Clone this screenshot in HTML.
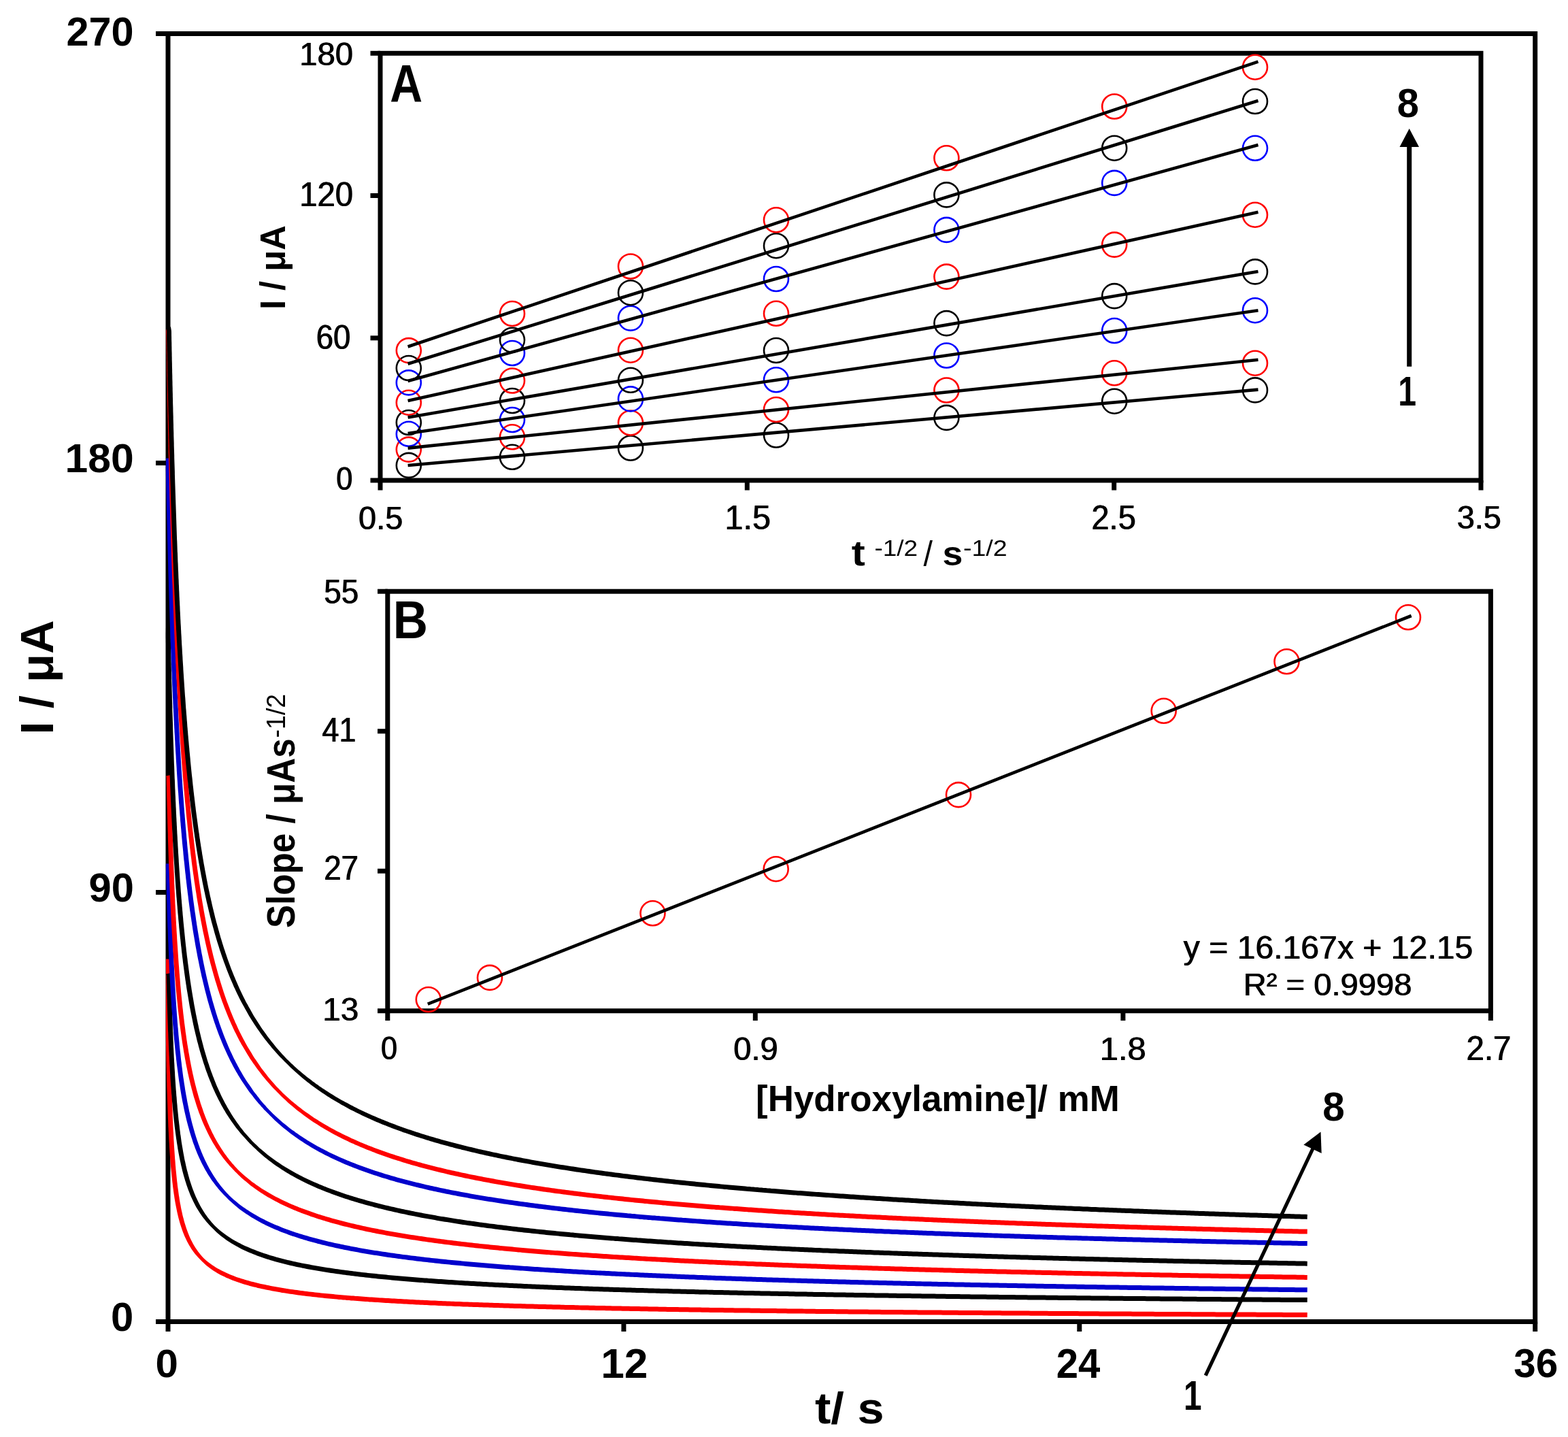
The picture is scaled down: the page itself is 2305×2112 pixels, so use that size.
<!DOCTYPE html>
<html><head><meta charset="utf-8"><title>Chronoamperometry figure</title>
<style>html,body{margin:0;padding:0;background:#fff;}svg{display:block;}</style>
</head><body>
<svg xmlns="http://www.w3.org/2000/svg" width="2305" height="2112" viewBox="0 0 2305 2112">
<rect x="0" y="0" width="2305" height="2112" fill="#fff"/>
<defs><filter id="hs" x="-5%" y="-5%" width="110%" height="110%"><feOffset dx="1" dy="0" result="o"/><feMerge><feMergeNode in="SourceGraphic"/><feMergeNode in="o"/></feMerge></filter></defs>
<rect x="247.0" y="49.5" width="2009.7" height="1893.0" fill="none" stroke="#000" stroke-width="7"/>
<line x1="229" y1="1942.5" x2="247.0" y2="1942.5" stroke="#000" stroke-width="7"/>
<line x1="229" y1="1311.5" x2="247.0" y2="1311.5" stroke="#000" stroke-width="7"/>
<line x1="229" y1="680.5" x2="247.0" y2="680.5" stroke="#000" stroke-width="7"/>
<line x1="229" y1="49.5" x2="247.0" y2="49.5" stroke="#000" stroke-width="7"/>
<line x1="247.0" y1="1942.5" x2="247.0" y2="1957" stroke="#000" stroke-width="7"/>
<line x1="916.9" y1="1942.5" x2="916.9" y2="1957" stroke="#000" stroke-width="7"/>
<line x1="1586.8" y1="1942.5" x2="1586.8" y2="1957" stroke="#000" stroke-width="7"/>
<line x1="2256.7" y1="1942.5" x2="2256.7" y2="1957" stroke="#000" stroke-width="7"/>
<path d="M244.0,1409.6 L244.0,1412.6 L244.0,1415.6 L244.0,1418.6 L244.0,1421.6 L244.0,1424.6 L244.0,1427.6 L244.0,1430.6 L244.0,1433.6 L243.9,1436.6 L243.9,1439.6 L243.9,1442.6 L243.9,1445.6 L243.9,1448.6 L243.9,1451.6 L243.9,1454.6 L243.9,1457.6 L243.9,1460.6 L243.9,1463.6 L243.9,1466.6 L243.9,1469.6 L243.9,1472.6 L243.9,1475.6 L243.9,1478.6 L243.9,1481.6 L243.9,1484.6 L243.8,1487.6 L243.8,1490.6 L243.8,1493.6 L243.8,1496.6 L243.8,1499.6 L243.8,1502.6 L243.8,1505.6 L243.8,1508.6 L243.8,1511.6 L243.8,1514.6 L243.8,1517.7 L243.8,1520.7 L243.8,1523.7 L243.9,1526.7 L243.9,1529.7 L244.0,1532.7 L244.0,1535.7 L244.1,1538.7 L244.1,1541.7 L244.2,1544.7 L244.3,1547.7 L244.3,1550.7 L244.4,1553.7 L244.4,1556.7 L244.5,1559.7 L244.6,1562.7 L244.6,1565.7 L244.7,1568.7 L244.8,1571.7 L244.8,1574.7 L244.9,1577.7 L245.0,1580.7 L245.0,1583.7 L245.1,1586.7 L245.2,1589.7 L245.3,1592.7 L245.3,1595.7 L245.4,1598.7 L245.5,1601.7 L245.6,1604.7 L245.7,1607.7 L245.8,1610.7 L245.9,1613.7 L246.0,1616.7 L246.1,1619.7 L246.2,1622.7 L246.3,1625.7 L246.4,1628.7 L246.5,1631.7 L246.6,1634.7 L246.7,1637.8 L246.8,1640.8 L246.9,1643.8 L247.1,1646.8 L247.2,1649.8 L247.3,1652.8 L247.4,1655.8 L247.6,1658.8 L247.7,1661.8 L247.9,1664.8 L248.0,1667.8 L248.2,1670.8 L248.3,1673.8 L248.5,1676.8 L248.7,1679.8 L248.9,1682.8 L249.0,1685.8 L249.2,1688.8 L249.4,1691.8 L249.6,1694.8 L249.8,1697.8 L250.0,1700.8 L250.3,1703.8 L250.5,1706.8 L250.7,1709.8 L251.0,1712.8 L251.2,1715.8 L251.5,1718.8 L251.8,1721.8 L252.1,1724.8 L252.4,1727.8 L252.7,1730.8 L253.0,1733.8 L253.3,1736.8 L253.7,1739.8 L254.0,1742.8 L254.4,1745.8 L254.8,1748.8 L255.2,1751.7 L255.6,1754.7 L256.1,1757.7 L256.5,1760.7 L257.0,1763.7 L257.5,1766.7 L258.0,1769.6 L258.6,1772.6 L259.2,1775.6 L259.8,1778.6 L260.4,1781.5 L261.1,1784.5 L261.8,1787.5 L262.5,1790.4 L263.3,1793.3 L264.1,1796.3 L265.0,1799.2 L265.9,1802.1 L266.9,1805.0 L267.9,1807.9 L268.9,1810.8 L270.0,1813.6 L271.2,1816.5 L272.5,1819.3 L273.8,1822.0 L275.1,1824.8 L276.6,1827.5 L278.1,1830.2 L279.7,1832.8 L281.3,1835.4 L283.1,1838.0 L284.9,1840.5 L286.8,1842.9 L288.8,1845.3 L290.8,1847.6 L292.9,1849.8 L295.1,1852.0 L297.3,1854.2 L299.5,1856.3 L301.8,1858.4 L304.1,1860.4 L306.5,1862.3 L309.0,1864.2 L311.5,1865.9 L314.0,1867.7 L316.6,1869.3 L319.3,1870.9 L321.9,1872.4 L324.6,1873.9 L327.4,1875.3 L330.1,1876.6 L332.9,1877.9 L335.7,1879.1 L338.5,1880.3 L341.3,1881.4 L344.2,1882.5 L347.0,1883.6 L349.9,1884.6 L352.8,1885.6 L355.7,1886.5 L358.6,1887.4 L361.5,1888.2 L364.4,1889.0 L367.3,1889.9 L370.3,1890.7 L373.2,1891.4 L376.1,1892.1 L379.0,1892.9 L382.0,1893.5 L385.0,1894.2 L387.9,1894.8 L390.9,1895.5 L393.8,1896.1 L396.8,1896.6 L399.7,1897.2 L402.7,1897.8 L405.7,1898.3 L408.7,1898.8 L411.6,1899.3 L414.6,1899.9 L417.6,1900.3 L420.6,1900.8 L423.5,1901.3 L426.5,1901.7 L429.5,1902.1 L432.5,1902.6 L435.5,1903.0 L438.5,1903.4 L441.4,1903.8 L444.4,1904.2 L447.4,1904.5 L450.4,1904.9 L453.4,1905.3 L456.4,1905.6 L459.4,1906.0 L462.3,1906.3 L465.3,1906.6 L468.3,1907.0 L471.3,1907.3 L474.3,1907.6 L477.3,1907.9 L480.3,1908.2 L483.3,1908.5 L486.3,1908.8 L489.3,1909.0 L492.3,1909.3 L495.3,1909.6 L498.2,1909.9 L501.2,1910.1 L504.2,1910.4 L507.2,1910.6 L510.2,1910.9 L513.2,1911.1 L516.2,1911.4 L519.2,1911.6 L522.2,1911.8 L525.2,1912.1 L528.2,1912.3 L531.2,1912.5 L534.2,1912.7 L537.2,1912.9 L540.2,1913.1 L543.2,1913.4 L546.2,1913.6 L549.2,1913.8 L552.2,1914.0 L555.2,1914.1 L558.2,1914.3 L561.2,1914.5 L564.2,1914.7 L567.2,1914.9 L570.2,1915.1 L573.2,1915.3 L576.1,1915.4 L579.1,1915.6 L582.1,1915.8 L585.1,1915.9 L588.1,1916.1 L591.1,1916.3 L594.1,1916.4 L597.1,1916.6 L600.1,1916.8 L603.1,1916.9 L606.1,1917.1 L609.1,1917.2 L612.1,1917.4 L615.1,1917.5 L618.1,1917.7 L621.1,1917.8 L624.1,1917.9 L627.1,1918.1 L630.1,1918.2 L633.1,1918.4 L636.1,1918.5 L639.1,1918.6 L642.1,1918.8 L645.1,1918.9 L648.1,1919.0 L651.1,1919.2 L654.1,1919.3 L657.1,1919.4 L660.1,1919.5 L663.1,1919.6 L666.1,1919.8 L669.1,1919.9 L672.1,1920.0 L675.1,1920.1 L678.1,1920.2 L681.1,1920.4 L684.1,1920.5 L687.1,1920.6 L690.1,1920.7 L693.1,1920.8 L696.1,1920.9 L699.1,1921.0 L702.1,1921.1 L705.1,1921.2 L708.1,1921.3 L711.1,1921.4 L714.1,1921.5 L717.1,1921.6 L720.1,1921.7 L723.1,1921.8 L726.1,1921.9 L729.1,1922.0 L732.1,1922.1 L735.1,1922.2 L738.1,1922.3 L741.1,1922.4 L744.1,1922.5 L747.1,1922.6 L750.1,1922.7 L753.1,1922.8 L756.1,1922.9 L759.1,1923.0 L762.1,1923.0 L765.1,1923.1 L768.1,1923.2 L771.1,1923.3 L774.1,1923.4 L777.1,1923.5 L780.1,1923.5 L783.1,1923.6 L786.1,1923.7 L789.1,1923.8 L792.1,1923.9 L795.1,1924.0 L798.1,1924.0 L801.1,1924.1 L804.1,1924.2 L807.1,1924.3 L810.1,1924.3 L813.1,1924.4 L816.1,1924.5 L819.1,1924.6 L822.1,1924.6 L825.1,1924.7 L828.1,1924.8 L831.1,1924.9 L834.1,1924.9 L837.1,1925.0 L840.1,1925.1 L843.1,1925.1 L846.1,1925.2 L849.1,1925.3 L852.1,1925.3 L855.1,1925.4 L858.1,1925.5 L861.1,1925.5 L864.1,1925.6 L867.1,1925.7 L870.1,1925.7 L873.1,1925.8 L876.1,1925.9 L879.1,1925.9 L882.1,1926.0 L885.1,1926.1 L888.1,1926.1 L891.1,1926.2 L894.1,1926.3 L897.1,1926.3 L900.1,1926.4 L903.1,1926.4 L906.1,1926.5 L909.1,1926.6 L912.1,1926.6 L915.1,1926.7 L918.1,1926.7 L921.1,1926.8 L924.1,1926.8 L927.1,1926.9 L930.1,1927.0 L933.1,1927.0 L936.1,1927.1 L939.1,1927.1 L942.1,1927.2 L945.1,1927.2 L948.1,1927.3 L951.1,1927.3 L954.1,1927.4 L957.1,1927.4 L960.1,1927.5 L963.1,1927.6 L966.1,1927.6 L969.1,1927.7 L972.1,1927.7 L975.1,1927.8 L978.1,1927.8 L981.1,1927.9 L984.1,1927.9 L987.1,1928.0 L990.1,1928.0 L993.1,1928.1 L996.1,1928.1 L999.1,1928.2 L1002.1,1928.2 L1005.1,1928.3 L1008.1,1928.3 L1011.1,1928.3 L1014.1,1928.4 L1017.1,1928.4 L1020.1,1928.5 L1023.1,1928.5 L1026.1,1928.6 L1029.1,1928.6 L1032.1,1928.7 L1035.1,1928.7 L1038.1,1928.8 L1041.1,1928.8 L1044.1,1928.9 L1047.1,1928.9 L1050.1,1928.9 L1053.1,1929.0 L1056.1,1929.0 L1059.1,1929.1 L1062.1,1929.1 L1065.1,1929.2 L1068.1,1929.2 L1071.1,1929.2 L1074.1,1929.3 L1077.1,1929.3 L1080.1,1929.4 L1083.1,1929.4 L1086.1,1929.4 L1089.1,1929.5 L1092.1,1929.5 L1095.1,1929.6 L1098.1,1929.6 L1101.1,1929.6 L1104.1,1929.7 L1107.1,1929.7 L1110.1,1929.8 L1113.1,1929.8 L1116.1,1929.8 L1119.1,1929.9 L1122.1,1929.9 L1125.1,1930.0 L1128.1,1930.0 L1131.1,1930.0 L1134.1,1930.1 L1137.1,1930.1 L1140.1,1930.1 L1143.1,1930.2 L1146.1,1930.2 L1149.1,1930.3 L1152.1,1930.3 L1155.1,1930.3 L1158.1,1930.4 L1161.1,1930.4 L1164.1,1930.4 L1167.1,1930.5 L1170.1,1930.5 L1173.1,1930.5 L1176.1,1930.6 L1179.1,1930.6 L1182.1,1930.6 L1185.1,1930.7 L1188.1,1930.7 L1191.1,1930.8 L1194.1,1930.8 L1197.1,1930.8 L1200.1,1930.9 L1203.1,1930.9 L1206.1,1930.9 L1209.1,1931.0 L1212.1,1931.0 L1215.1,1931.0 L1218.1,1931.1 L1221.1,1931.1 L1224.1,1931.1 L1227.1,1931.1 L1230.1,1931.2 L1233.1,1931.2 L1236.1,1931.2 L1239.1,1931.3 L1242.1,1931.3 L1245.1,1931.3 L1248.1,1931.4 L1251.1,1931.4 L1254.1,1931.4 L1257.1,1931.5 L1260.1,1931.5 L1263.1,1931.5 L1266.1,1931.6 L1269.1,1931.6 L1272.1,1931.6 L1275.1,1931.6 L1278.1,1931.7 L1281.1,1931.7 L1284.1,1931.7 L1287.1,1931.8 L1290.1,1931.8 L1293.1,1931.8 L1296.1,1931.9 L1299.1,1931.9 L1302.1,1931.9 L1305.1,1931.9 L1308.1,1932.0 L1311.1,1932.0 L1314.1,1932.0 L1317.1,1932.1 L1320.1,1932.1 L1323.1,1932.1 L1326.1,1932.1 L1329.1,1932.2 L1332.1,1932.2 L1335.1,1932.2 L1338.1,1932.2 L1341.1,1932.3 L1344.1,1932.3 L1347.1,1932.3 L1350.1,1932.4 L1353.1,1932.4 L1356.1,1932.4 L1359.1,1932.4 L1362.1,1932.5 L1365.1,1932.5 L1368.1,1932.5 L1371.1,1932.5 L1374.1,1932.6 L1377.1,1932.6 L1380.1,1932.6 L1383.1,1932.6 L1386.1,1932.7 L1389.1,1932.7 L1392.1,1932.7 L1395.1,1932.7 L1398.1,1932.8 L1401.1,1932.8 L1404.1,1932.8 L1407.1,1932.8 L1410.1,1932.9 L1413.1,1932.9 L1416.1,1932.9 L1419.1,1932.9 L1422.1,1933.0 L1425.1,1933.0 L1428.1,1933.0 L1431.1,1933.0 L1434.1,1933.1 L1437.1,1933.1 L1440.1,1933.1 L1443.1,1933.1 L1446.1,1933.2 L1449.1,1933.2 L1452.1,1933.2 L1455.1,1933.2 L1458.1,1933.2 L1461.1,1933.3 L1464.1,1933.3 L1467.1,1933.3 L1470.1,1933.3 L1473.1,1933.4 L1476.1,1933.4 L1479.1,1933.4 L1482.1,1933.4 L1485.1,1933.5 L1488.1,1933.5 L1491.1,1933.5 L1494.1,1933.5 L1497.1,1933.5 L1500.1,1933.6 L1503.1,1933.6 L1506.1,1933.6 L1509.1,1933.6 L1512.1,1933.6 L1515.1,1933.7 L1518.1,1933.7 L1521.1,1933.7 L1524.1,1933.7 L1527.1,1933.8 L1530.1,1933.8 L1533.1,1933.8 L1536.1,1933.8 L1539.1,1933.8 L1542.1,1933.9 L1545.1,1933.9 L1548.1,1933.9 L1551.1,1933.9 L1554.1,1933.9 L1557.1,1934.0 L1560.1,1934.0 L1563.1,1934.0 L1566.1,1934.0 L1569.1,1934.0 L1572.1,1934.1 L1575.1,1934.1 L1578.1,1934.1 L1581.1,1934.1 L1584.1,1934.1 L1587.1,1934.2 L1590.1,1934.2 L1593.1,1934.2 L1596.1,1934.2 L1599.1,1934.2 L1602.1,1934.3 L1605.1,1934.3 L1608.1,1934.3 L1611.1,1934.3 L1614.1,1934.3 L1617.1,1934.4 L1620.1,1934.4 L1623.1,1934.4 L1626.1,1934.4 L1629.1,1934.4 L1632.1,1934.5 L1635.1,1934.5 L1638.1,1934.5 L1641.1,1934.5 L1644.1,1934.5 L1647.1,1934.5 L1650.1,1934.6 L1653.1,1934.6 L1656.1,1934.6 L1659.1,1934.6 L1662.1,1934.6 L1665.1,1934.7 L1668.1,1934.7 L1671.1,1934.7 L1674.1,1934.7 L1677.1,1934.7 L1680.1,1934.7 L1683.1,1934.8 L1686.1,1934.8 L1689.1,1934.8 L1692.1,1934.8 L1695.1,1934.8 L1698.1,1934.9 L1701.1,1934.9 L1704.1,1934.9 L1707.1,1934.9 L1710.1,1934.9 L1713.1,1934.9 L1716.1,1935.0 L1719.1,1935.0 L1722.1,1935.0 L1725.1,1935.0 L1728.1,1935.0 L1731.1,1935.0 L1734.1,1935.1 L1737.1,1935.1 L1740.1,1935.1 L1743.1,1935.1 L1746.1,1935.1 L1749.1,1935.1 L1752.1,1935.2 L1755.1,1935.2 L1758.1,1935.2 L1761.1,1935.2 L1764.1,1935.2 L1767.1,1935.2 L1770.1,1935.3 L1773.1,1935.3 L1776.1,1935.3 L1779.1,1935.3 L1782.1,1935.3 L1785.1,1935.3 L1788.1,1935.4 L1791.1,1935.4 L1794.1,1935.4 L1797.1,1935.4 L1800.1,1935.4 L1803.1,1935.4 L1806.1,1935.4 L1809.1,1935.5 L1812.1,1935.5 L1815.1,1935.5 L1818.1,1935.5 L1821.1,1935.5 L1824.1,1935.5 L1827.1,1935.6 L1830.1,1935.6 L1833.1,1935.6 L1836.1,1935.6 L1839.1,1935.6 L1842.1,1935.6 L1845.1,1935.6 L1848.1,1935.7 L1851.1,1935.7 L1854.1,1935.7 L1857.1,1935.7 L1860.1,1935.7 L1863.1,1935.7 L1866.1,1935.7 L1869.1,1935.8 L1872.1,1935.8 L1875.1,1935.8 L1878.1,1935.8 L1881.1,1935.8 L1884.1,1935.8 L1887.1,1935.9 L1890.1,1935.9 L1893.1,1935.9 L1896.1,1935.9 L1899.1,1935.9 L1902.1,1935.9 L1905.1,1935.9 L1908.1,1936.0 L1911.1,1936.0 L1914.1,1936.0 L1917.1,1936.0 L1920.1,1936.0 L1921.7,1936.0 L1921.8,1929.0 L1920.1,1929.0 L1917.1,1929.0 L1914.1,1929.0 L1911.1,1929.0 L1908.1,1929.0 L1905.1,1928.9 L1902.1,1928.9 L1899.1,1928.9 L1896.1,1928.9 L1893.1,1928.9 L1890.1,1928.9 L1887.1,1928.9 L1884.1,1928.8 L1881.1,1928.8 L1878.1,1928.8 L1875.1,1928.8 L1872.1,1928.8 L1869.1,1928.8 L1866.1,1928.7 L1863.1,1928.7 L1860.1,1928.7 L1857.1,1928.7 L1854.1,1928.7 L1851.1,1928.7 L1848.1,1928.7 L1845.1,1928.6 L1842.1,1928.6 L1839.1,1928.6 L1836.1,1928.6 L1833.1,1928.6 L1830.1,1928.6 L1827.1,1928.6 L1824.1,1928.5 L1821.1,1928.5 L1818.1,1928.5 L1815.1,1928.5 L1812.1,1928.5 L1809.1,1928.5 L1806.1,1928.4 L1803.1,1928.4 L1800.1,1928.4 L1797.1,1928.4 L1794.1,1928.4 L1791.1,1928.4 L1788.1,1928.4 L1785.1,1928.3 L1782.1,1928.3 L1779.1,1928.3 L1776.1,1928.3 L1773.1,1928.3 L1770.1,1928.3 L1767.1,1928.2 L1764.1,1928.2 L1761.1,1928.2 L1758.1,1928.2 L1755.1,1928.2 L1752.1,1928.2 L1749.1,1928.1 L1746.1,1928.1 L1743.1,1928.1 L1740.1,1928.1 L1737.1,1928.1 L1734.1,1928.1 L1731.1,1928.0 L1728.1,1928.0 L1725.1,1928.0 L1722.1,1928.0 L1719.1,1928.0 L1716.1,1928.0 L1713.1,1927.9 L1710.1,1927.9 L1707.1,1927.9 L1704.1,1927.9 L1701.1,1927.9 L1698.1,1927.9 L1695.1,1927.8 L1692.1,1927.8 L1689.1,1927.8 L1686.1,1927.8 L1683.1,1927.8 L1680.1,1927.7 L1677.1,1927.7 L1674.1,1927.7 L1671.1,1927.7 L1668.1,1927.7 L1665.1,1927.7 L1662.1,1927.6 L1659.1,1927.6 L1656.1,1927.6 L1653.1,1927.6 L1650.1,1927.6 L1647.1,1927.5 L1644.1,1927.5 L1641.1,1927.5 L1638.1,1927.5 L1635.1,1927.5 L1632.1,1927.5 L1629.1,1927.4 L1626.1,1927.4 L1623.1,1927.4 L1620.1,1927.4 L1617.1,1927.4 L1614.1,1927.3 L1611.1,1927.3 L1608.1,1927.3 L1605.1,1927.3 L1602.1,1927.3 L1599.1,1927.2 L1596.1,1927.2 L1593.1,1927.2 L1590.1,1927.2 L1587.1,1927.2 L1584.1,1927.1 L1581.1,1927.1 L1578.1,1927.1 L1575.1,1927.1 L1572.1,1927.1 L1569.1,1927.0 L1566.1,1927.0 L1563.1,1927.0 L1560.1,1927.0 L1557.1,1927.0 L1554.1,1926.9 L1551.1,1926.9 L1548.1,1926.9 L1545.1,1926.9 L1542.1,1926.9 L1539.1,1926.8 L1536.1,1926.8 L1533.1,1926.8 L1530.1,1926.8 L1527.1,1926.8 L1524.1,1926.7 L1521.1,1926.7 L1518.1,1926.7 L1515.1,1926.7 L1512.1,1926.6 L1509.1,1926.6 L1506.1,1926.6 L1503.1,1926.6 L1500.1,1926.6 L1497.1,1926.5 L1494.1,1926.5 L1491.1,1926.5 L1488.1,1926.5 L1485.1,1926.5 L1482.1,1926.4 L1479.1,1926.4 L1476.1,1926.4 L1473.1,1926.4 L1470.1,1926.3 L1467.1,1926.3 L1464.1,1926.3 L1461.1,1926.3 L1458.1,1926.2 L1455.1,1926.2 L1452.1,1926.2 L1449.1,1926.2 L1446.1,1926.2 L1443.1,1926.1 L1440.1,1926.1 L1437.1,1926.1 L1434.1,1926.1 L1431.1,1926.0 L1428.1,1926.0 L1425.1,1926.0 L1422.1,1926.0 L1419.1,1925.9 L1416.1,1925.9 L1413.1,1925.9 L1410.1,1925.9 L1407.1,1925.8 L1404.1,1925.8 L1401.1,1925.8 L1398.1,1925.8 L1395.1,1925.7 L1392.1,1925.7 L1389.1,1925.7 L1386.1,1925.7 L1383.1,1925.6 L1380.1,1925.6 L1377.1,1925.6 L1374.1,1925.6 L1371.1,1925.5 L1368.1,1925.5 L1365.1,1925.5 L1362.1,1925.5 L1359.1,1925.4 L1356.1,1925.4 L1353.1,1925.4 L1350.1,1925.4 L1347.1,1925.3 L1344.1,1925.3 L1341.1,1925.3 L1338.1,1925.2 L1335.1,1925.2 L1332.1,1925.2 L1329.1,1925.2 L1326.1,1925.1 L1323.1,1925.1 L1320.1,1925.1 L1317.1,1925.1 L1314.1,1925.0 L1311.1,1925.0 L1308.1,1925.0 L1305.1,1924.9 L1302.1,1924.9 L1299.1,1924.9 L1296.1,1924.9 L1293.1,1924.8 L1290.1,1924.8 L1287.1,1924.8 L1284.1,1924.7 L1281.1,1924.7 L1278.1,1924.7 L1275.1,1924.6 L1272.1,1924.6 L1269.1,1924.6 L1266.1,1924.6 L1263.1,1924.5 L1260.1,1924.5 L1257.1,1924.5 L1254.1,1924.4 L1251.1,1924.4 L1248.1,1924.4 L1245.1,1924.3 L1242.1,1924.3 L1239.1,1924.3 L1236.1,1924.2 L1233.1,1924.2 L1230.1,1924.2 L1227.1,1924.2 L1224.1,1924.1 L1221.1,1924.1 L1218.1,1924.1 L1215.2,1924.0 L1212.2,1924.0 L1209.2,1924.0 L1206.2,1923.9 L1203.2,1923.9 L1200.2,1923.9 L1197.2,1923.8 L1194.2,1923.8 L1191.2,1923.8 L1188.2,1923.7 L1185.2,1923.7 L1182.2,1923.7 L1179.2,1923.6 L1176.2,1923.6 L1173.2,1923.5 L1170.2,1923.5 L1167.2,1923.5 L1164.2,1923.4 L1161.2,1923.4 L1158.2,1923.4 L1155.2,1923.3 L1152.2,1923.3 L1149.2,1923.3 L1146.2,1923.2 L1143.2,1923.2 L1140.2,1923.1 L1137.2,1923.1 L1134.2,1923.1 L1131.2,1923.0 L1128.2,1923.0 L1125.2,1923.0 L1122.2,1922.9 L1119.2,1922.9 L1116.2,1922.8 L1113.2,1922.8 L1110.2,1922.8 L1107.2,1922.7 L1104.2,1922.7 L1101.2,1922.6 L1098.2,1922.6 L1095.2,1922.6 L1092.2,1922.5 L1089.2,1922.5 L1086.2,1922.4 L1083.2,1922.4 L1080.2,1922.4 L1077.2,1922.3 L1074.2,1922.3 L1071.2,1922.2 L1068.2,1922.2 L1065.2,1922.2 L1062.2,1922.1 L1059.2,1922.1 L1056.2,1922.0 L1053.2,1922.0 L1050.2,1921.9 L1047.2,1921.9 L1044.2,1921.9 L1041.2,1921.8 L1038.2,1921.8 L1035.2,1921.7 L1032.2,1921.7 L1029.2,1921.6 L1026.2,1921.6 L1023.2,1921.5 L1020.2,1921.5 L1017.2,1921.4 L1014.2,1921.4 L1011.2,1921.3 L1008.2,1921.3 L1005.2,1921.3 L1002.2,1921.2 L999.2,1921.2 L996.2,1921.1 L993.2,1921.1 L990.2,1921.0 L987.2,1921.0 L984.2,1920.9 L981.2,1920.9 L978.2,1920.8 L975.2,1920.8 L972.2,1920.7 L969.2,1920.7 L966.2,1920.6 L963.2,1920.6 L960.2,1920.5 L957.2,1920.4 L954.2,1920.4 L951.2,1920.3 L948.2,1920.3 L945.2,1920.2 L942.2,1920.2 L939.2,1920.1 L936.2,1920.1 L933.2,1920.0 L930.2,1920.0 L927.2,1919.9 L924.2,1919.8 L921.2,1919.8 L918.2,1919.7 L915.2,1919.7 L912.2,1919.6 L909.2,1919.6 L906.2,1919.5 L903.2,1919.4 L900.2,1919.4 L897.2,1919.3 L894.2,1919.3 L891.2,1919.2 L888.2,1919.1 L885.2,1919.1 L882.2,1919.0 L879.2,1918.9 L876.2,1918.9 L873.2,1918.8 L870.2,1918.7 L867.2,1918.7 L864.2,1918.6 L861.2,1918.6 L858.2,1918.5 L855.2,1918.4 L852.2,1918.4 L849.2,1918.3 L846.2,1918.2 L843.2,1918.1 L840.2,1918.1 L837.2,1918.0 L834.2,1917.9 L831.2,1917.9 L828.2,1917.8 L825.3,1917.7 L822.3,1917.6 L819.3,1917.6 L816.3,1917.5 L813.3,1917.4 L810.3,1917.3 L807.3,1917.3 L804.3,1917.2 L801.3,1917.1 L798.3,1917.0 L795.3,1917.0 L792.3,1916.9 L789.3,1916.8 L786.3,1916.7 L783.3,1916.6 L780.3,1916.6 L777.3,1916.5 L774.3,1916.4 L771.3,1916.3 L768.3,1916.2 L765.3,1916.1 L762.3,1916.0 L759.3,1916.0 L756.3,1915.9 L753.3,1915.8 L750.3,1915.7 L747.3,1915.6 L744.3,1915.5 L741.3,1915.4 L738.3,1915.3 L735.3,1915.2 L732.3,1915.1 L729.3,1915.0 L726.3,1914.9 L723.3,1914.8 L720.3,1914.7 L717.3,1914.6 L714.3,1914.5 L711.3,1914.4 L708.3,1914.3 L705.3,1914.2 L702.3,1914.1 L699.3,1914.0 L696.3,1913.9 L693.4,1913.8 L690.4,1913.7 L687.4,1913.6 L684.4,1913.5 L681.4,1913.4 L678.4,1913.2 L675.4,1913.1 L672.4,1913.0 L669.4,1912.9 L666.4,1912.8 L663.4,1912.7 L660.4,1912.5 L657.4,1912.4 L654.4,1912.3 L651.4,1912.2 L648.4,1912.0 L645.4,1911.9 L642.4,1911.8 L639.4,1911.6 L636.4,1911.5 L633.4,1911.4 L630.4,1911.2 L627.4,1911.1 L624.4,1911.0 L621.5,1910.8 L618.5,1910.7 L615.5,1910.5 L612.5,1910.4 L609.5,1910.2 L606.5,1910.1 L603.5,1909.9 L600.5,1909.8 L597.5,1909.6 L594.5,1909.5 L591.5,1909.3 L588.5,1909.1 L585.5,1909.0 L582.5,1908.8 L579.5,1908.6 L576.6,1908.5 L573.6,1908.3 L570.6,1908.1 L567.6,1907.9 L564.6,1907.7 L561.6,1907.6 L558.6,1907.4 L555.6,1907.2 L552.6,1907.0 L549.6,1906.8 L546.6,1906.6 L543.7,1906.4 L540.7,1906.2 L537.7,1906.0 L534.7,1905.8 L531.7,1905.5 L528.7,1905.3 L525.7,1905.1 L522.7,1904.9 L519.7,1904.6 L516.8,1904.4 L513.8,1904.2 L510.8,1903.9 L507.8,1903.7 L504.8,1903.4 L501.8,1903.2 L498.9,1902.9 L495.9,1902.7 L492.9,1902.4 L489.9,1902.1 L486.9,1901.8 L483.9,1901.5 L481.0,1901.3 L478.0,1901.0 L475.0,1900.7 L472.0,1900.4 L469.1,1900.0 L466.1,1899.7 L463.1,1899.4 L460.1,1899.1 L457.2,1898.7 L454.2,1898.4 L451.2,1898.0 L448.3,1897.7 L445.3,1897.3 L442.3,1896.9 L439.4,1896.5 L436.4,1896.1 L433.4,1895.7 L430.5,1895.3 L427.5,1894.9 L424.6,1894.4 L421.6,1894.0 L418.7,1893.5 L415.7,1893.0 L412.8,1892.5 L409.8,1892.0 L406.9,1891.5 L404.0,1891.0 L401.0,1890.5 L398.1,1889.9 L395.2,1889.3 L392.3,1888.8 L389.3,1888.1 L386.4,1887.5 L383.5,1886.9 L380.6,1886.2 L377.7,1885.5 L374.8,1884.8 L371.9,1884.1 L369.1,1883.4 L366.2,1882.6 L363.3,1881.7 L360.5,1880.9 L357.7,1880.1 L354.8,1879.2 L352.0,1878.3 L349.2,1877.4 L346.4,1876.4 L343.7,1875.3 L340.9,1874.3 L338.2,1873.2 L335.5,1872.0 L332.8,1870.8 L330.1,1869.6 L327.5,1868.3 L324.9,1867.0 L322.3,1865.6 L319.7,1864.2 L317.2,1862.7 L314.7,1861.1 L312.3,1859.5 L309.9,1857.8 L307.5,1856.1 L305.2,1854.3 L303.0,1852.4 L300.8,1850.5 L298.7,1848.5 L296.7,1846.3 L294.8,1844.1 L293.0,1841.8 L291.2,1839.5 L289.5,1837.1 L287.9,1834.7 L286.3,1832.3 L284.8,1829.8 L283.4,1827.2 L282.0,1824.6 L280.7,1822.0 L279.5,1819.4 L278.3,1816.7 L277.2,1814.0 L276.1,1811.2 L275.1,1808.5 L274.1,1805.7 L273.2,1802.9 L272.3,1800.1 L271.4,1797.3 L270.6,1794.5 L269.9,1791.6 L269.1,1788.7 L268.4,1785.9 L267.8,1783.0 L267.1,1780.1 L266.5,1777.2 L265.9,1774.3 L265.4,1771.3 L264.8,1768.4 L264.3,1765.5 L263.8,1762.6 L263.4,1759.6 L262.9,1756.7 L262.5,1753.7 L262.1,1750.8 L261.7,1747.8 L261.3,1744.9 L260.9,1741.9 L260.6,1739.0 L260.2,1736.0 L259.9,1733.0 L259.6,1730.1 L259.3,1727.1 L259.0,1724.1 L258.7,1721.1 L258.4,1718.2 L258.2,1715.2 L257.9,1712.2 L257.7,1709.2 L257.5,1706.2 L257.2,1703.3 L257.0,1700.3 L256.8,1697.3 L256.6,1694.3 L256.4,1691.3 L256.2,1688.3 L256.0,1685.3 L255.8,1682.4 L255.7,1679.4 L255.5,1676.4 L255.3,1673.4 L255.2,1670.4 L255.0,1667.4 L254.9,1664.4 L254.7,1661.4 L254.6,1658.4 L254.4,1655.4 L254.3,1652.4 L254.2,1649.5 L254.0,1646.5 L253.9,1643.5 L253.8,1640.5 L253.7,1637.5 L253.6,1634.5 L253.5,1631.5 L253.4,1628.5 L253.2,1625.5 L253.1,1622.5 L253.0,1619.5 L253.0,1616.5 L252.9,1613.5 L252.8,1610.5 L252.7,1607.5 L252.6,1604.5 L252.5,1601.5 L252.4,1598.5 L252.3,1595.5 L252.3,1592.5 L252.2,1589.6 L252.1,1586.6 L252.0,1583.6 L252.0,1580.6 L251.9,1577.6 L251.8,1574.6 L251.7,1571.6 L251.7,1568.6 L251.6,1565.6 L251.6,1562.6 L251.5,1559.6 L251.4,1556.6 L251.4,1553.6 L251.3,1550.6 L251.3,1547.6 L251.2,1544.6 L251.1,1541.6 L251.1,1538.6 L251.0,1535.6 L251.0,1532.6 L250.9,1529.6 L250.9,1526.6 L250.8,1523.6 L250.8,1520.6 L250.8,1517.7 L250.8,1514.7 L250.8,1511.7 L250.8,1508.7 L250.8,1505.7 L250.8,1502.7 L250.8,1499.7 L250.8,1496.7 L250.8,1493.7 L250.8,1490.7 L250.8,1487.7 L250.9,1484.7 L250.9,1481.7 L250.9,1478.7 L250.9,1475.7 L250.9,1472.7 L250.9,1469.7 L250.9,1466.7 L250.9,1463.7 L250.9,1460.7 L250.9,1457.7 L250.9,1454.7 L250.9,1451.7 L250.9,1448.7 L250.9,1445.7 L250.9,1442.7 L250.9,1439.7 L250.9,1436.7 L251.0,1433.7 L251.0,1430.7 L251.0,1427.7 L251.0,1424.7 L251.0,1421.7 L251.0,1418.7 L251.0,1415.7 L251.0,1412.7 L251.0,1409.7Z" fill="#ff0000" stroke="none"/>
<path d="M244.1,1431.4 L244.7,1434.0 L244.7,1436.7 L244.8,1439.7 L244.8,1442.7 L244.9,1445.7 L245.0,1448.7 L245.1,1451.7 L245.1,1454.7 L245.2,1457.7 L245.3,1460.7 L245.4,1463.7 L245.5,1466.7 L245.6,1469.7 L245.6,1472.7 L245.7,1475.7 L245.8,1478.7 L245.9,1481.7 L246.0,1484.7 L246.1,1487.7 L246.2,1490.7 L246.3,1493.7 L246.4,1496.7 L246.5,1499.7 L246.6,1502.7 L246.7,1505.7 L246.8,1508.7 L246.9,1511.7 L247.0,1514.7 L247.2,1517.7 L247.3,1520.7 L247.4,1523.7 L247.5,1526.7 L247.7,1529.7 L247.8,1532.7 L247.9,1535.7 L248.0,1538.7 L248.2,1541.7 L248.3,1544.7 L248.5,1547.7 L248.6,1550.7 L248.8,1553.7 L248.9,1556.7 L249.1,1559.7 L249.2,1562.7 L249.4,1565.7 L249.6,1568.7 L249.7,1571.7 L249.9,1574.7 L250.1,1577.7 L250.3,1580.7 L250.4,1583.7 L250.6,1586.7 L250.8,1589.7 L251.0,1592.7 L251.2,1595.7 L251.5,1598.7 L251.7,1601.7 L251.9,1604.7 L252.1,1607.7 L252.4,1610.7 L252.6,1613.7 L252.8,1616.7 L253.1,1619.7 L253.4,1622.7 L253.6,1625.7 L253.9,1628.7 L254.2,1631.7 L254.5,1634.7 L254.8,1637.7 L255.1,1640.7 L255.4,1643.7 L255.7,1646.7 L256.1,1649.7 L256.4,1652.6 L256.7,1655.6 L257.1,1658.6 L257.5,1661.6 L257.9,1664.6 L258.3,1667.6 L258.7,1670.6 L259.1,1673.6 L259.6,1676.5 L260.0,1679.5 L260.5,1682.5 L261.0,1685.5 L261.4,1688.5 L262.0,1691.4 L262.5,1694.4 L263.1,1697.4 L263.6,1700.3 L264.2,1703.3 L264.8,1706.3 L265.5,1709.2 L266.1,1712.2 L266.8,1715.1 L267.5,1718.1 L268.2,1721.0 L269.0,1724.0 L269.8,1726.9 L270.6,1729.8 L271.5,1732.7 L272.3,1735.6 L273.3,1738.5 L274.2,1741.4 L275.2,1744.3 L276.2,1747.2 L277.3,1750.0 L278.4,1752.8 L279.5,1755.7 L280.7,1758.5 L282.0,1761.3 L283.3,1764.0 L284.6,1766.8 L286.0,1769.5 L287.4,1772.2 L288.9,1774.9 L290.5,1777.5 L292.1,1780.1 L293.8,1782.7 L295.5,1785.2 L297.2,1787.7 L299.1,1790.2 L301.0,1792.6 L302.9,1795.0 L304.9,1797.3 L306.9,1799.5 L309.0,1801.8 L311.2,1804.0 L313.3,1806.1 L315.5,1808.3 L317.7,1810.4 L320.0,1812.4 L322.3,1814.4 L324.7,1816.4 L327.1,1818.3 L329.5,1820.1 L332.0,1821.9 L334.5,1823.7 L337.0,1825.3 L339.6,1827.0 L342.2,1828.6 L344.8,1830.1 L347.5,1831.6 L350.2,1833.1 L352.9,1834.5 L355.6,1835.9 L358.4,1837.2 L361.1,1838.4 L363.9,1839.7 L366.7,1840.9 L369.5,1842.1 L372.3,1843.2 L375.1,1844.3 L377.9,1845.4 L380.8,1846.5 L383.7,1847.5 L386.5,1848.5 L389.4,1849.4 L392.3,1850.4 L395.2,1851.3 L398.0,1852.2 L400.9,1853.0 L403.9,1853.9 L406.8,1854.7 L409.7,1855.5 L412.6,1856.3 L415.5,1857.0 L418.5,1857.8 L421.4,1858.5 L424.3,1859.2 L427.3,1859.9 L430.2,1860.6 L433.1,1861.2 L436.1,1861.9 L439.1,1862.5 L442.0,1863.1 L444.9,1863.7 L447.9,1864.3 L450.9,1864.9 L453.8,1865.4 L456.8,1866.0 L459.8,1866.5 L462.7,1867.0 L465.7,1867.5 L468.7,1868.1 L471.6,1868.6 L474.6,1869.0 L477.6,1869.5 L480.5,1870.0 L483.5,1870.4 L486.5,1870.9 L489.5,1871.3 L492.5,1871.8 L495.4,1872.2 L498.4,1872.6 L501.4,1873.0 L504.4,1873.4 L507.4,1873.8 L510.3,1874.2 L513.3,1874.6 L516.3,1875.0 L519.3,1875.3 L522.3,1875.7 L525.3,1876.1 L528.3,1876.4 L531.2,1876.8 L534.2,1877.1 L537.2,1877.5 L540.2,1877.8 L543.2,1878.1 L546.2,1878.4 L549.2,1878.8 L552.2,1879.1 L555.1,1879.4 L558.1,1879.7 L561.1,1880.0 L564.1,1880.3 L567.1,1880.5 L570.1,1880.8 L573.1,1881.1 L576.1,1881.4 L579.1,1881.7 L582.1,1881.9 L585.1,1882.2 L588.0,1882.5 L591.0,1882.7 L594.0,1883.0 L597.0,1883.2 L600.0,1883.5 L603.0,1883.7 L606.0,1884.0 L609.0,1884.2 L612.0,1884.5 L615.0,1884.7 L618.0,1884.9 L621.0,1885.1 L624.0,1885.4 L627.0,1885.6 L630.0,1885.8 L633.0,1886.0 L635.9,1886.2 L638.9,1886.5 L641.9,1886.7 L644.9,1886.9 L647.9,1887.1 L650.9,1887.3 L653.9,1887.5 L656.9,1887.7 L659.9,1887.9 L662.9,1888.1 L665.9,1888.3 L668.9,1888.5 L671.9,1888.6 L674.9,1888.8 L677.9,1889.0 L680.9,1889.2 L683.9,1889.4 L686.9,1889.5 L689.9,1889.7 L692.9,1889.9 L695.9,1890.1 L698.9,1890.2 L701.9,1890.4 L704.9,1890.6 L707.9,1890.7 L710.9,1890.9 L713.9,1891.1 L716.9,1891.2 L719.9,1891.4 L722.9,1891.5 L725.8,1891.7 L728.8,1891.9 L731.8,1892.0 L734.8,1892.2 L737.8,1892.3 L740.8,1892.5 L743.8,1892.6 L746.8,1892.8 L749.8,1892.9 L752.8,1893.0 L755.8,1893.2 L758.8,1893.3 L761.8,1893.5 L764.8,1893.6 L767.8,1893.7 L770.8,1893.9 L773.8,1894.0 L776.8,1894.1 L779.8,1894.3 L782.8,1894.4 L785.8,1894.5 L788.8,1894.7 L791.8,1894.8 L794.8,1894.9 L797.8,1895.0 L800.8,1895.2 L803.8,1895.3 L806.8,1895.4 L809.8,1895.5 L812.8,1895.7 L815.8,1895.8 L818.8,1895.9 L821.8,1896.0 L824.8,1896.1 L827.8,1896.2 L830.8,1896.4 L833.8,1896.5 L836.8,1896.6 L839.8,1896.7 L842.8,1896.8 L845.8,1896.9 L848.8,1897.0 L851.8,1897.1 L854.8,1897.2 L857.8,1897.3 L860.8,1897.5 L863.8,1897.6 L866.8,1897.7 L869.8,1897.8 L872.8,1897.9 L875.8,1898.0 L878.8,1898.1 L881.8,1898.2 L884.8,1898.3 L887.8,1898.4 L890.8,1898.5 L893.8,1898.6 L896.8,1898.7 L899.8,1898.8 L902.8,1898.9 L905.8,1899.0 L908.8,1899.1 L911.8,1899.1 L914.8,1899.2 L917.8,1899.3 L920.8,1899.4 L923.8,1899.5 L926.8,1899.6 L929.8,1899.7 L932.8,1899.8 L935.8,1899.9 L938.8,1900.0 L941.8,1900.0 L944.8,1900.1 L947.8,1900.2 L950.8,1900.3 L953.8,1900.4 L956.8,1900.5 L959.8,1900.6 L962.8,1900.6 L965.8,1900.7 L968.8,1900.8 L971.8,1900.9 L974.8,1901.0 L977.8,1901.1 L980.8,1901.1 L983.8,1901.2 L986.8,1901.3 L989.8,1901.4 L992.8,1901.5 L995.8,1901.5 L998.8,1901.6 L1001.8,1901.7 L1004.8,1901.8 L1007.8,1901.8 L1010.8,1901.9 L1013.8,1902.0 L1016.8,1902.1 L1019.8,1902.1 L1022.7,1902.2 L1025.7,1902.3 L1028.7,1902.4 L1031.7,1902.4 L1034.7,1902.5 L1037.7,1902.6 L1040.7,1902.6 L1043.7,1902.7 L1046.7,1902.8 L1049.7,1902.9 L1052.7,1902.9 L1055.7,1903.0 L1058.7,1903.1 L1061.7,1903.1 L1064.7,1903.2 L1067.7,1903.3 L1070.7,1903.3 L1073.7,1903.4 L1076.7,1903.5 L1079.7,1903.5 L1082.7,1903.6 L1085.7,1903.7 L1088.7,1903.7 L1091.7,1903.8 L1094.7,1903.9 L1097.7,1903.9 L1100.7,1904.0 L1103.7,1904.1 L1106.7,1904.1 L1109.7,1904.2 L1112.7,1904.2 L1115.7,1904.3 L1118.7,1904.4 L1121.7,1904.4 L1124.7,1904.5 L1127.7,1904.5 L1130.7,1904.6 L1133.7,1904.7 L1136.7,1904.7 L1139.7,1904.8 L1142.7,1904.8 L1145.7,1904.9 L1148.7,1905.0 L1151.7,1905.0 L1154.7,1905.1 L1157.7,1905.1 L1160.7,1905.2 L1163.7,1905.2 L1166.7,1905.3 L1169.7,1905.4 L1172.7,1905.4 L1175.7,1905.5 L1178.7,1905.5 L1181.7,1905.6 L1184.7,1905.6 L1187.7,1905.7 L1190.7,1905.7 L1193.7,1905.8 L1196.7,1905.9 L1199.7,1905.9 L1202.7,1906.0 L1205.7,1906.0 L1208.7,1906.1 L1211.7,1906.1 L1214.7,1906.2 L1217.7,1906.2 L1220.7,1906.3 L1223.7,1906.3 L1226.7,1906.4 L1229.7,1906.4 L1232.7,1906.5 L1235.7,1906.5 L1238.7,1906.6 L1241.7,1906.6 L1244.7,1906.7 L1247.7,1906.7 L1250.7,1906.8 L1253.7,1906.8 L1256.7,1906.9 L1259.7,1906.9 L1262.7,1907.0 L1265.7,1907.0 L1268.7,1907.1 L1271.7,1907.1 L1274.7,1907.2 L1277.7,1907.2 L1280.7,1907.3 L1283.7,1907.3 L1286.7,1907.4 L1289.7,1907.4 L1292.7,1907.5 L1295.7,1907.5 L1298.7,1907.5 L1301.7,1907.6 L1304.7,1907.6 L1307.7,1907.7 L1310.7,1907.7 L1313.7,1907.8 L1316.7,1907.8 L1319.7,1907.9 L1322.7,1907.9 L1325.7,1908.0 L1328.7,1908.0 L1331.7,1908.0 L1334.7,1908.1 L1337.7,1908.1 L1340.7,1908.2 L1343.7,1908.2 L1346.7,1908.3 L1349.7,1908.3 L1352.7,1908.3 L1355.7,1908.4 L1358.7,1908.4 L1361.7,1908.5 L1364.7,1908.5 L1367.7,1908.6 L1370.7,1908.6 L1373.7,1908.6 L1376.7,1908.7 L1379.7,1908.7 L1382.7,1908.8 L1385.7,1908.8 L1388.7,1908.8 L1391.7,1908.9 L1394.7,1908.9 L1397.7,1909.0 L1400.7,1909.0 L1403.7,1909.0 L1406.7,1909.1 L1409.7,1909.1 L1412.7,1909.2 L1415.7,1909.2 L1418.7,1909.2 L1421.7,1909.3 L1424.7,1909.3 L1427.7,1909.4 L1430.7,1909.4 L1433.7,1909.4 L1436.7,1909.5 L1439.7,1909.5 L1442.7,1909.5 L1445.7,1909.6 L1448.7,1909.6 L1451.7,1909.7 L1454.7,1909.7 L1457.7,1909.7 L1460.7,1909.8 L1463.7,1909.8 L1466.7,1909.8 L1469.7,1909.9 L1472.7,1909.9 L1475.7,1909.9 L1478.7,1910.0 L1481.7,1910.0 L1484.7,1910.1 L1487.7,1910.1 L1490.7,1910.1 L1493.7,1910.2 L1496.7,1910.2 L1499.7,1910.2 L1502.7,1910.3 L1505.7,1910.3 L1508.7,1910.3 L1511.7,1910.4 L1514.7,1910.4 L1517.7,1910.4 L1520.7,1910.5 L1523.7,1910.5 L1526.7,1910.5 L1529.7,1910.6 L1532.7,1910.6 L1535.7,1910.6 L1538.7,1910.7 L1541.7,1910.7 L1544.7,1910.7 L1547.7,1910.8 L1550.7,1910.8 L1553.7,1910.8 L1556.7,1910.9 L1559.7,1910.9 L1562.7,1910.9 L1565.7,1911.0 L1568.7,1911.0 L1571.7,1911.0 L1574.7,1911.1 L1577.7,1911.1 L1580.7,1911.1 L1583.7,1911.2 L1586.7,1911.2 L1589.7,1911.2 L1592.7,1911.3 L1595.7,1911.3 L1598.7,1911.3 L1601.7,1911.3 L1604.7,1911.4 L1607.7,1911.4 L1610.7,1911.4 L1613.7,1911.5 L1616.7,1911.5 L1619.7,1911.5 L1622.7,1911.6 L1625.7,1911.6 L1628.7,1911.6 L1631.7,1911.7 L1634.7,1911.7 L1637.7,1911.7 L1640.7,1911.7 L1643.7,1911.8 L1646.7,1911.8 L1649.7,1911.8 L1652.7,1911.9 L1655.7,1911.9 L1658.7,1911.9 L1661.7,1911.9 L1664.7,1912.0 L1667.7,1912.0 L1670.7,1912.0 L1673.7,1912.1 L1676.7,1912.1 L1679.7,1912.1 L1682.7,1912.1 L1685.7,1912.2 L1688.7,1912.2 L1691.7,1912.2 L1694.7,1912.3 L1697.7,1912.3 L1700.7,1912.3 L1703.7,1912.3 L1706.7,1912.4 L1709.7,1912.4 L1712.7,1912.4 L1715.7,1912.5 L1718.7,1912.5 L1721.7,1912.5 L1724.7,1912.5 L1727.7,1912.6 L1730.7,1912.6 L1733.7,1912.6 L1736.7,1912.6 L1739.7,1912.7 L1742.7,1912.7 L1745.7,1912.7 L1748.7,1912.8 L1751.7,1912.8 L1754.7,1912.8 L1757.7,1912.8 L1760.7,1912.9 L1763.7,1912.9 L1766.7,1912.9 L1769.7,1912.9 L1772.7,1913.0 L1775.7,1913.0 L1778.7,1913.0 L1781.7,1913.0 L1784.7,1913.1 L1787.7,1913.1 L1790.7,1913.1 L1793.7,1913.1 L1796.7,1913.2 L1799.7,1913.2 L1802.7,1913.2 L1805.7,1913.2 L1808.7,1913.3 L1811.7,1913.3 L1814.7,1913.3 L1817.7,1913.3 L1820.7,1913.4 L1823.7,1913.4 L1826.7,1913.4 L1829.7,1913.4 L1832.7,1913.5 L1835.7,1913.5 L1838.7,1913.5 L1841.7,1913.5 L1844.7,1913.6 L1847.7,1913.6 L1850.7,1913.6 L1853.7,1913.6 L1856.7,1913.7 L1859.7,1913.7 L1862.7,1913.7 L1865.7,1913.7 L1868.7,1913.7 L1871.7,1913.8 L1874.7,1913.8 L1877.7,1913.8 L1880.7,1913.8 L1883.7,1913.9 L1886.7,1913.9 L1889.7,1913.9 L1892.7,1913.9 L1895.7,1914.0 L1898.7,1914.0 L1901.7,1914.0 L1904.7,1914.0 L1907.7,1914.0 L1910.7,1914.1 L1913.7,1914.1 L1916.7,1914.1 L1919.7,1914.1 L1921.7,1914.1 L1921.8,1907.1 L1919.8,1907.1 L1916.8,1907.1 L1913.8,1907.1 L1910.8,1907.1 L1907.8,1907.0 L1904.8,1907.0 L1901.8,1907.0 L1898.8,1907.0 L1895.8,1907.0 L1892.8,1906.9 L1889.8,1906.9 L1886.8,1906.9 L1883.8,1906.9 L1880.8,1906.8 L1877.8,1906.8 L1874.8,1906.8 L1871.8,1906.8 L1868.8,1906.7 L1865.8,1906.7 L1862.8,1906.7 L1859.8,1906.7 L1856.8,1906.7 L1853.8,1906.6 L1850.8,1906.6 L1847.8,1906.6 L1844.8,1906.6 L1841.8,1906.5 L1838.8,1906.5 L1835.8,1906.5 L1832.8,1906.5 L1829.8,1906.4 L1826.8,1906.4 L1823.8,1906.4 L1820.8,1906.4 L1817.8,1906.3 L1814.8,1906.3 L1811.8,1906.3 L1808.8,1906.3 L1805.8,1906.2 L1802.8,1906.2 L1799.8,1906.2 L1796.8,1906.2 L1793.8,1906.1 L1790.8,1906.1 L1787.8,1906.1 L1784.8,1906.1 L1781.8,1906.0 L1778.8,1906.0 L1775.8,1906.0 L1772.8,1906.0 L1769.8,1905.9 L1766.8,1905.9 L1763.8,1905.9 L1760.8,1905.9 L1757.8,1905.8 L1754.8,1905.8 L1751.8,1905.8 L1748.8,1905.8 L1745.8,1905.7 L1742.8,1905.7 L1739.8,1905.7 L1736.8,1905.6 L1733.8,1905.6 L1730.8,1905.6 L1727.8,1905.6 L1724.8,1905.5 L1721.8,1905.5 L1718.8,1905.5 L1715.8,1905.5 L1712.8,1905.4 L1709.8,1905.4 L1706.8,1905.4 L1703.8,1905.3 L1700.8,1905.3 L1697.8,1905.3 L1694.8,1905.3 L1691.8,1905.2 L1688.8,1905.2 L1685.8,1905.2 L1682.8,1905.1 L1679.8,1905.1 L1676.8,1905.1 L1673.8,1905.1 L1670.8,1905.0 L1667.8,1905.0 L1664.8,1905.0 L1661.8,1904.9 L1658.8,1904.9 L1655.8,1904.9 L1652.8,1904.9 L1649.8,1904.8 L1646.8,1904.8 L1643.8,1904.8 L1640.8,1904.7 L1637.8,1904.7 L1634.8,1904.7 L1631.8,1904.7 L1628.8,1904.6 L1625.8,1904.6 L1622.8,1904.6 L1619.8,1904.5 L1616.8,1904.5 L1613.8,1904.5 L1610.8,1904.4 L1607.8,1904.4 L1604.8,1904.4 L1601.8,1904.3 L1598.8,1904.3 L1595.8,1904.3 L1592.8,1904.3 L1589.8,1904.2 L1586.8,1904.2 L1583.8,1904.2 L1580.8,1904.1 L1577.8,1904.1 L1574.8,1904.1 L1571.8,1904.0 L1568.8,1904.0 L1565.8,1904.0 L1562.8,1903.9 L1559.8,1903.9 L1556.8,1903.9 L1553.8,1903.8 L1550.8,1903.8 L1547.8,1903.8 L1544.8,1903.7 L1541.8,1903.7 L1538.8,1903.7 L1535.8,1903.6 L1532.8,1903.6 L1529.8,1903.6 L1526.8,1903.5 L1523.8,1903.5 L1520.8,1903.5 L1517.8,1903.4 L1514.8,1903.4 L1511.8,1903.4 L1508.8,1903.3 L1505.8,1903.3 L1502.8,1903.3 L1499.8,1903.2 L1496.8,1903.2 L1493.8,1903.2 L1490.8,1903.1 L1487.8,1903.1 L1484.8,1903.1 L1481.8,1903.0 L1478.8,1903.0 L1475.8,1902.9 L1472.8,1902.9 L1469.8,1902.9 L1466.8,1902.8 L1463.8,1902.8 L1460.8,1902.8 L1457.8,1902.7 L1454.8,1902.7 L1451.8,1902.7 L1448.8,1902.6 L1445.8,1902.6 L1442.8,1902.5 L1439.8,1902.5 L1436.8,1902.5 L1433.8,1902.4 L1430.8,1902.4 L1427.8,1902.4 L1424.8,1902.3 L1421.8,1902.3 L1418.8,1902.2 L1415.8,1902.2 L1412.8,1902.2 L1409.8,1902.1 L1406.8,1902.1 L1403.8,1902.0 L1400.8,1902.0 L1397.8,1902.0 L1394.8,1901.9 L1391.8,1901.9 L1388.8,1901.8 L1385.8,1901.8 L1382.8,1901.8 L1379.8,1901.7 L1376.8,1901.7 L1373.8,1901.6 L1370.8,1901.6 L1367.8,1901.6 L1364.8,1901.5 L1361.8,1901.5 L1358.8,1901.4 L1355.8,1901.4 L1352.8,1901.3 L1349.8,1901.3 L1346.8,1901.3 L1343.8,1901.2 L1340.8,1901.2 L1337.8,1901.1 L1334.8,1901.1 L1331.8,1901.0 L1328.8,1901.0 L1325.8,1901.0 L1322.8,1900.9 L1319.8,1900.9 L1316.8,1900.8 L1313.8,1900.8 L1310.8,1900.7 L1307.8,1900.7 L1304.8,1900.6 L1301.8,1900.6 L1298.8,1900.5 L1295.8,1900.5 L1292.8,1900.5 L1289.8,1900.4 L1286.8,1900.4 L1283.8,1900.3 L1280.8,1900.3 L1277.8,1900.2 L1274.8,1900.2 L1271.8,1900.1 L1268.8,1900.1 L1265.8,1900.0 L1262.8,1900.0 L1259.8,1899.9 L1256.8,1899.9 L1253.8,1899.8 L1250.8,1899.8 L1247.8,1899.7 L1244.8,1899.7 L1241.8,1899.6 L1238.8,1899.6 L1235.9,1899.5 L1232.9,1899.5 L1229.9,1899.4 L1226.9,1899.4 L1223.9,1899.3 L1220.9,1899.3 L1217.9,1899.2 L1214.9,1899.2 L1211.9,1899.1 L1208.9,1899.1 L1205.9,1899.0 L1202.9,1899.0 L1199.9,1898.9 L1196.9,1898.9 L1193.9,1898.8 L1190.9,1898.8 L1187.9,1898.7 L1184.9,1898.6 L1181.9,1898.6 L1178.9,1898.5 L1175.9,1898.5 L1172.9,1898.4 L1169.9,1898.4 L1166.9,1898.3 L1163.9,1898.3 L1160.9,1898.2 L1157.9,1898.1 L1154.9,1898.1 L1151.9,1898.0 L1148.9,1898.0 L1145.9,1897.9 L1142.9,1897.8 L1139.9,1897.8 L1136.9,1897.7 L1133.9,1897.7 L1130.9,1897.6 L1127.9,1897.5 L1124.9,1897.5 L1121.9,1897.4 L1118.9,1897.4 L1115.9,1897.3 L1112.9,1897.2 L1109.9,1897.2 L1106.9,1897.1 L1103.9,1897.1 L1100.9,1897.0 L1097.9,1896.9 L1094.9,1896.9 L1091.9,1896.8 L1088.9,1896.7 L1085.9,1896.7 L1082.9,1896.6 L1079.9,1896.5 L1076.9,1896.5 L1073.9,1896.4 L1070.9,1896.3 L1067.9,1896.3 L1064.9,1896.2 L1061.9,1896.1 L1058.9,1896.1 L1055.9,1896.0 L1052.9,1895.9 L1049.9,1895.9 L1046.9,1895.8 L1043.9,1895.7 L1040.9,1895.7 L1037.9,1895.6 L1034.9,1895.5 L1031.9,1895.4 L1028.9,1895.4 L1025.9,1895.3 L1022.9,1895.2 L1019.9,1895.1 L1016.9,1895.1 L1013.9,1895.0 L1010.9,1894.9 L1007.9,1894.8 L1004.9,1894.8 L1001.9,1894.7 L998.9,1894.6 L995.9,1894.5 L992.9,1894.5 L989.9,1894.4 L986.9,1894.3 L983.9,1894.2 L980.9,1894.1 L977.9,1894.1 L974.9,1894.0 L971.9,1893.9 L968.9,1893.8 L966.0,1893.7 L963.0,1893.7 L960.0,1893.6 L957.0,1893.5 L954.0,1893.4 L951.0,1893.3 L948.0,1893.2 L945.0,1893.1 L942.0,1893.1 L939.0,1893.0 L936.0,1892.9 L933.0,1892.8 L930.0,1892.7 L927.0,1892.6 L924.0,1892.5 L921.0,1892.4 L918.0,1892.3 L915.0,1892.2 L912.0,1892.2 L909.0,1892.1 L906.0,1892.0 L903.0,1891.9 L900.0,1891.8 L897.0,1891.7 L894.0,1891.6 L891.0,1891.5 L888.0,1891.4 L885.0,1891.3 L882.0,1891.2 L879.0,1891.1 L876.0,1891.0 L873.0,1890.9 L870.0,1890.8 L867.0,1890.7 L864.0,1890.6 L861.0,1890.5 L858.0,1890.4 L855.0,1890.3 L852.0,1890.1 L849.0,1890.0 L846.0,1889.9 L843.0,1889.8 L840.0,1889.7 L837.1,1889.6 L834.1,1889.5 L831.1,1889.4 L828.1,1889.3 L825.1,1889.1 L822.1,1889.0 L819.1,1888.9 L816.1,1888.8 L813.1,1888.7 L810.1,1888.5 L807.1,1888.4 L804.1,1888.3 L801.1,1888.2 L798.1,1888.1 L795.1,1887.9 L792.1,1887.8 L789.1,1887.7 L786.1,1887.5 L783.1,1887.4 L780.1,1887.3 L777.1,1887.2 L774.1,1887.0 L771.1,1886.9 L768.1,1886.8 L765.1,1886.6 L762.1,1886.5 L759.2,1886.3 L756.2,1886.2 L753.2,1886.1 L750.2,1885.9 L747.2,1885.8 L744.2,1885.6 L741.2,1885.5 L738.2,1885.3 L735.2,1885.2 L732.2,1885.0 L729.2,1884.9 L726.2,1884.7 L723.2,1884.6 L720.2,1884.4 L717.2,1884.3 L714.2,1884.1 L711.2,1883.9 L708.2,1883.8 L705.3,1883.6 L702.3,1883.4 L699.3,1883.3 L696.3,1883.1 L693.3,1882.9 L690.3,1882.7 L687.3,1882.6 L684.3,1882.4 L681.3,1882.2 L678.3,1882.0 L675.3,1881.9 L672.3,1881.7 L669.3,1881.5 L666.4,1881.3 L663.4,1881.1 L660.4,1880.9 L657.4,1880.7 L654.4,1880.5 L651.4,1880.3 L648.4,1880.1 L645.4,1879.9 L642.4,1879.7 L639.4,1879.5 L636.4,1879.3 L633.5,1879.1 L630.5,1878.9 L627.5,1878.6 L624.5,1878.4 L621.5,1878.2 L618.5,1878.0 L615.5,1877.7 L612.5,1877.5 L609.5,1877.3 L606.6,1877.0 L603.6,1876.8 L600.6,1876.5 L597.6,1876.3 L594.6,1876.0 L591.6,1875.8 L588.6,1875.5 L585.7,1875.3 L582.7,1875.0 L579.7,1874.7 L576.7,1874.5 L573.7,1874.2 L570.7,1873.9 L567.8,1873.6 L564.8,1873.3 L561.8,1873.0 L558.8,1872.7 L555.8,1872.4 L552.9,1872.1 L549.9,1871.8 L546.9,1871.5 L543.9,1871.2 L540.9,1870.9 L538.0,1870.5 L535.0,1870.2 L532.0,1869.9 L529.0,1869.5 L526.1,1869.2 L523.1,1868.8 L520.1,1868.4 L517.2,1868.1 L514.2,1867.7 L511.2,1867.3 L508.3,1866.9 L505.3,1866.6 L502.3,1866.2 L499.4,1865.7 L496.4,1865.3 L493.4,1864.9 L490.5,1864.5 L487.5,1864.0 L484.6,1863.6 L481.6,1863.2 L478.7,1862.7 L475.7,1862.2 L472.8,1861.7 L469.8,1861.3 L466.9,1860.7 L463.9,1860.2 L461.0,1859.7 L458.0,1859.2 L455.1,1858.6 L452.2,1858.1 L449.2,1857.5 L446.3,1857.0 L443.4,1856.4 L440.4,1855.8 L437.5,1855.2 L434.6,1854.5 L431.7,1853.9 L428.8,1853.2 L425.9,1852.6 L423.0,1851.9 L420.1,1851.2 L417.2,1850.5 L414.3,1849.7 L411.4,1849.0 L408.6,1848.2 L405.7,1847.4 L402.8,1846.6 L400.0,1845.7 L397.1,1844.9 L394.3,1844.0 L391.5,1843.1 L388.7,1842.2 L385.8,1841.2 L383.0,1840.3 L380.2,1839.3 L377.5,1838.2 L374.7,1837.1 L371.9,1836.1 L369.2,1835.0 L366.5,1833.8 L363.7,1832.6 L361.0,1831.4 L358.3,1830.2 L355.7,1828.9 L353.1,1827.6 L350.4,1826.2 L347.8,1824.8 L345.3,1823.4 L342.7,1821.9 L340.2,1820.4 L337.7,1818.8 L335.3,1817.2 L332.8,1815.5 L330.4,1813.8 L328.1,1812.0 L325.7,1810.2 L323.5,1808.4 L321.2,1806.5 L319.0,1804.5 L316.8,1802.5 L314.8,1800.5 L312.8,1798.3 L310.8,1796.1 L309.0,1793.8 L307.1,1791.5 L305.3,1789.2 L303.6,1786.8 L301.9,1784.4 L300.3,1782.0 L298.7,1779.5 L297.2,1777.0 L295.7,1774.4 L294.3,1771.9 L292.9,1769.3 L291.6,1766.7 L290.3,1764.0 L289.0,1761.3 L287.8,1758.7 L286.7,1755.9 L285.5,1753.2 L284.5,1750.5 L283.4,1747.7 L282.4,1744.9 L281.4,1742.1 L280.5,1739.3 L279.6,1736.5 L278.7,1733.7 L277.9,1730.8 L277.1,1728.0 L276.3,1725.1 L275.6,1722.2 L274.8,1719.4 L274.1,1716.5 L273.4,1713.6 L272.8,1710.7 L272.2,1707.8 L271.5,1704.9 L270.9,1702.0 L270.4,1699.0 L269.8,1696.1 L269.3,1693.2 L268.8,1690.2 L268.3,1687.3 L267.8,1684.4 L267.3,1681.4 L266.8,1678.5 L266.4,1675.5 L266.0,1672.6 L265.6,1669.6 L265.1,1666.7 L264.8,1663.7 L264.4,1660.7 L264.0,1657.8 L263.7,1654.8 L263.3,1651.8 L263.0,1648.9 L262.6,1645.9 L262.3,1642.9 L262.0,1639.9 L261.7,1637.0 L261.4,1634.0 L261.1,1631.0 L260.8,1628.0 L260.6,1625.1 L260.3,1622.1 L260.0,1619.1 L259.8,1616.1 L259.6,1613.1 L259.3,1610.2 L259.1,1607.2 L258.9,1604.2 L258.6,1601.2 L258.4,1598.2 L258.2,1595.2 L258.0,1592.2 L257.8,1589.3 L257.6,1586.3 L257.4,1583.3 L257.2,1580.3 L257.1,1577.3 L256.9,1574.3 L256.7,1571.3 L256.5,1568.3 L256.4,1565.3 L256.2,1562.3 L256.0,1559.4 L255.9,1556.4 L255.7,1553.4 L255.6,1550.4 L255.4,1547.4 L255.3,1544.4 L255.2,1541.4 L255.0,1538.4 L254.9,1535.4 L254.8,1532.4 L254.6,1529.4 L254.5,1526.4 L254.4,1523.4 L254.3,1520.4 L254.2,1517.4 L254.0,1514.5 L253.9,1511.5 L253.8,1508.5 L253.7,1505.5 L253.6,1502.5 L253.5,1499.5 L253.4,1496.5 L253.3,1493.5 L253.2,1490.5 L253.1,1487.5 L253.0,1484.5 L252.9,1481.5 L252.8,1478.5 L252.7,1475.5 L252.6,1472.5 L252.5,1469.5 L252.5,1466.5 L252.4,1463.5 L252.3,1460.5 L252.2,1457.5 L252.1,1454.5 L252.1,1451.5 L252.0,1448.5 L251.9,1445.5 L251.8,1442.5 L251.8,1439.5 L251.7,1436.5 L251.6,1433.2 L250.9,1430.0Z" fill="#000000" stroke="none"/>
<path d="M244.0,1269.2 L243.8,1272.3 L243.9,1275.5 L244.0,1278.5 L244.0,1281.5 L244.1,1284.5 L244.2,1287.5 L244.3,1290.5 L244.3,1293.5 L244.4,1296.5 L244.5,1299.5 L244.6,1302.5 L244.7,1305.5 L244.8,1308.5 L244.8,1311.5 L244.9,1314.5 L245.0,1317.5 L245.1,1320.5 L245.2,1323.5 L245.3,1326.5 L245.4,1329.5 L245.4,1332.5 L245.5,1335.5 L245.6,1338.5 L245.7,1341.5 L245.8,1344.5 L245.9,1347.5 L246.0,1350.5 L246.1,1353.5 L246.2,1356.5 L246.3,1359.5 L246.4,1362.5 L246.6,1365.5 L246.7,1368.5 L246.8,1371.5 L246.9,1374.5 L247.0,1377.5 L247.1,1380.5 L247.2,1383.5 L247.4,1386.5 L247.5,1389.5 L247.6,1392.5 L247.7,1395.5 L247.9,1398.5 L248.0,1401.5 L248.1,1404.5 L248.2,1407.5 L248.4,1410.5 L248.5,1413.5 L248.7,1416.5 L248.8,1419.5 L248.9,1422.5 L249.1,1425.5 L249.2,1428.5 L249.4,1431.5 L249.5,1434.5 L249.7,1437.5 L249.9,1440.5 L250.0,1443.5 L250.2,1446.5 L250.4,1449.5 L250.5,1452.5 L250.7,1455.5 L250.9,1458.5 L251.1,1461.5 L251.3,1464.5 L251.4,1467.5 L251.6,1470.5 L251.8,1473.5 L252.0,1476.5 L252.2,1479.5 L252.4,1482.5 L252.6,1485.5 L252.9,1488.4 L253.1,1491.4 L253.3,1494.4 L253.5,1497.4 L253.7,1500.4 L254.0,1503.4 L254.2,1506.4 L254.5,1509.4 L254.7,1512.4 L255.0,1515.4 L255.2,1518.4 L255.5,1521.4 L255.8,1524.4 L256.0,1527.4 L256.3,1530.4 L256.6,1533.4 L256.9,1536.4 L257.2,1539.4 L257.5,1542.4 L257.8,1545.3 L258.1,1548.3 L258.5,1551.3 L258.8,1554.3 L259.1,1557.3 L259.5,1560.3 L259.8,1563.3 L260.2,1566.3 L260.6,1569.3 L261.0,1572.2 L261.4,1575.2 L261.8,1578.2 L262.2,1581.2 L262.6,1584.2 L263.0,1587.2 L263.4,1590.1 L263.9,1593.1 L264.4,1596.1 L264.8,1599.1 L265.3,1602.0 L265.8,1605.0 L266.3,1608.0 L266.8,1611.0 L267.4,1613.9 L267.9,1616.9 L268.5,1619.9 L269.1,1622.8 L269.7,1625.8 L270.3,1628.7 L270.9,1631.7 L271.5,1634.6 L272.2,1637.6 L272.9,1640.5 L273.6,1643.5 L274.3,1646.4 L275.0,1649.3 L275.8,1652.3 L276.6,1655.2 L277.4,1658.1 L278.2,1661.0 L279.0,1663.9 L279.9,1666.8 L280.8,1669.7 L281.7,1672.6 L282.7,1675.5 L283.6,1678.4 L284.6,1681.2 L285.7,1684.1 L286.7,1686.9 L287.8,1689.7 L288.9,1692.6 L290.1,1695.4 L291.3,1698.2 L292.5,1700.9 L293.8,1703.7 L295.1,1706.5 L296.4,1709.2 L297.8,1711.9 L299.2,1714.6 L300.6,1717.3 L302.1,1719.9 L303.7,1722.6 L305.2,1725.2 L306.8,1727.8 L308.5,1730.3 L310.2,1732.9 L311.9,1735.4 L313.7,1737.8 L315.5,1740.3 L317.4,1742.7 L319.3,1745.1 L321.2,1747.4 L323.2,1749.7 L325.2,1752.0 L327.3,1754.2 L329.4,1756.5 L331.5,1758.6 L333.7,1760.8 L335.8,1762.9 L338.0,1765.0 L340.3,1767.1 L342.5,1769.1 L344.8,1771.1 L347.2,1773.1 L349.5,1775.0 L351.9,1776.9 L354.3,1778.7 L356.8,1780.6 L359.3,1782.3 L361.8,1784.0 L364.3,1785.6 L366.9,1787.3 L369.4,1789.0 L372.1,1790.5 L374.7,1792.0 L377.3,1793.6 L379.9,1795.1 L382.6,1796.5 L385.3,1797.9 L388.0,1799.3 L390.7,1800.7 L393.5,1802.0 L396.2,1803.2 L398.9,1804.5 L401.7,1805.8 L404.5,1807.0 L407.3,1808.1 L410.1,1809.3 L412.9,1810.4 L415.7,1811.5 L418.6,1812.6 L421.4,1813.6 L424.2,1814.7 L427.1,1815.7 L429.9,1816.7 L432.8,1817.6 L435.7,1818.6 L438.6,1819.6 L441.4,1820.4 L444.3,1821.3 L447.2,1822.2 L450.1,1823.1 L453.0,1823.9 L455.9,1824.7 L458.8,1825.6 L461.7,1826.3 L464.6,1827.1 L467.5,1827.9 L470.5,1828.6 L473.4,1829.4 L476.3,1830.1 L479.2,1830.8 L482.2,1831.5 L485.1,1832.2 L488.1,1832.8 L491.0,1833.5 L493.9,1834.2 L496.9,1834.8 L499.8,1835.4 L502.8,1836.1 L505.7,1836.7 L508.7,1837.2 L511.6,1837.8 L514.6,1838.4 L517.6,1839.0 L520.5,1839.5 L523.5,1840.1 L526.4,1840.6 L529.4,1841.2 L532.3,1841.7 L535.3,1842.2 L538.3,1842.7 L541.2,1843.2 L544.2,1843.7 L547.2,1844.2 L550.2,1844.7 L553.1,1845.1 L556.1,1845.6 L559.1,1846.1 L562.0,1846.5 L565.0,1847.0 L568.0,1847.4 L571.0,1847.9 L573.9,1848.3 L576.9,1848.7 L579.9,1849.1 L582.9,1849.5 L585.8,1849.9 L588.8,1850.3 L591.8,1850.7 L594.8,1851.1 L597.8,1851.5 L600.7,1851.9 L603.7,1852.3 L606.7,1852.6 L609.7,1853.0 L612.7,1853.4 L615.7,1853.7 L618.6,1854.1 L621.6,1854.4 L624.6,1854.8 L627.6,1855.1 L630.6,1855.4 L633.6,1855.8 L636.6,1856.1 L639.5,1856.4 L642.5,1856.8 L645.5,1857.1 L648.5,1857.4 L651.5,1857.7 L654.5,1858.0 L657.5,1858.3 L660.5,1858.6 L663.5,1858.9 L666.4,1859.2 L669.4,1859.5 L672.4,1859.8 L675.4,1860.1 L678.4,1860.3 L681.4,1860.6 L684.4,1860.9 L687.4,1861.2 L690.4,1861.4 L693.4,1861.7 L696.3,1862.0 L699.3,1862.2 L702.3,1862.5 L705.3,1862.8 L708.3,1863.0 L711.3,1863.3 L714.3,1863.5 L717.3,1863.8 L720.3,1864.0 L723.3,1864.2 L726.3,1864.5 L729.3,1864.7 L732.3,1865.0 L735.2,1865.2 L738.2,1865.4 L741.2,1865.7 L744.2,1865.9 L747.2,1866.1 L750.2,1866.3 L753.2,1866.6 L756.2,1866.8 L759.2,1867.0 L762.2,1867.2 L765.2,1867.4 L768.2,1867.6 L771.2,1867.8 L774.2,1868.0 L777.2,1868.2 L780.2,1868.5 L783.2,1868.7 L786.2,1868.9 L789.1,1869.1 L792.1,1869.3 L795.1,1869.4 L798.1,1869.6 L801.1,1869.8 L804.1,1870.0 L807.1,1870.2 L810.1,1870.4 L813.1,1870.6 L816.1,1870.8 L819.1,1871.0 L822.1,1871.1 L825.1,1871.3 L828.1,1871.5 L831.1,1871.7 L834.1,1871.8 L837.1,1872.0 L840.1,1872.2 L843.1,1872.4 L846.1,1872.5 L849.1,1872.7 L852.1,1872.9 L855.1,1873.0 L858.1,1873.2 L861.1,1873.4 L864.1,1873.5 L867.1,1873.7 L870.0,1873.9 L873.0,1874.0 L876.0,1874.2 L879.0,1874.3 L882.0,1874.5 L885.0,1874.6 L888.0,1874.8 L891.0,1875.0 L894.0,1875.1 L897.0,1875.3 L900.0,1875.4 L903.0,1875.6 L906.0,1875.7 L909.0,1875.8 L912.0,1876.0 L915.0,1876.1 L918.0,1876.3 L921.0,1876.4 L924.0,1876.6 L927.0,1876.7 L930.0,1876.8 L933.0,1877.0 L936.0,1877.1 L939.0,1877.3 L942.0,1877.4 L945.0,1877.5 L948.0,1877.7 L951.0,1877.8 L954.0,1877.9 L957.0,1878.1 L960.0,1878.2 L963.0,1878.3 L966.0,1878.4 L969.0,1878.6 L972.0,1878.7 L975.0,1878.8 L978.0,1879.0 L981.0,1879.1 L984.0,1879.2 L987.0,1879.3 L990.0,1879.4 L993.0,1879.6 L996.0,1879.7 L999.0,1879.8 L1002.0,1879.9 L1005.0,1880.1 L1008.0,1880.2 L1011.0,1880.3 L1014.0,1880.4 L1016.9,1880.5 L1019.9,1880.6 L1022.9,1880.7 L1025.9,1880.9 L1028.9,1881.0 L1031.9,1881.1 L1034.9,1881.2 L1037.9,1881.3 L1040.9,1881.4 L1043.9,1881.5 L1046.9,1881.6 L1049.9,1881.8 L1052.9,1881.9 L1055.9,1882.0 L1058.9,1882.1 L1061.9,1882.2 L1064.9,1882.3 L1067.9,1882.4 L1070.9,1882.5 L1073.9,1882.6 L1076.9,1882.7 L1079.9,1882.8 L1082.9,1882.9 L1085.9,1883.0 L1088.9,1883.1 L1091.9,1883.2 L1094.9,1883.3 L1097.9,1883.4 L1100.9,1883.5 L1103.9,1883.6 L1106.9,1883.7 L1109.9,1883.8 L1112.9,1883.9 L1115.9,1884.0 L1118.9,1884.1 L1121.9,1884.2 L1124.9,1884.3 L1127.9,1884.4 L1130.9,1884.5 L1133.9,1884.6 L1136.9,1884.7 L1139.9,1884.7 L1142.9,1884.8 L1145.9,1884.9 L1148.9,1885.0 L1151.9,1885.1 L1154.9,1885.2 L1157.9,1885.3 L1160.9,1885.4 L1163.9,1885.5 L1166.9,1885.6 L1169.9,1885.6 L1172.9,1885.7 L1175.9,1885.8 L1178.9,1885.9 L1181.9,1886.0 L1184.9,1886.1 L1187.9,1886.2 L1190.9,1886.2 L1193.9,1886.3 L1196.9,1886.4 L1199.9,1886.5 L1202.9,1886.6 L1205.9,1886.7 L1208.9,1886.7 L1211.9,1886.8 L1214.9,1886.9 L1217.9,1887.0 L1220.9,1887.1 L1223.9,1887.2 L1226.9,1887.2 L1229.9,1887.3 L1232.9,1887.4 L1235.9,1887.5 L1238.9,1887.5 L1241.9,1887.6 L1244.9,1887.7 L1247.9,1887.8 L1250.9,1887.9 L1253.9,1887.9 L1256.9,1888.0 L1259.9,1888.1 L1262.9,1888.2 L1265.9,1888.2 L1268.9,1888.3 L1271.9,1888.4 L1274.9,1888.5 L1277.9,1888.5 L1280.9,1888.6 L1283.9,1888.7 L1286.9,1888.8 L1289.9,1888.8 L1292.9,1888.9 L1295.9,1889.0 L1298.9,1889.0 L1301.9,1889.1 L1304.9,1889.2 L1307.9,1889.3 L1310.9,1889.3 L1313.9,1889.4 L1316.9,1889.5 L1319.9,1889.5 L1322.9,1889.6 L1325.9,1889.7 L1328.9,1889.7 L1331.9,1889.8 L1334.9,1889.9 L1337.9,1889.9 L1340.9,1890.0 L1343.9,1890.1 L1346.9,1890.2 L1349.9,1890.2 L1352.9,1890.3 L1355.9,1890.3 L1358.9,1890.4 L1361.9,1890.5 L1364.9,1890.5 L1367.9,1890.6 L1370.9,1890.7 L1373.9,1890.7 L1376.9,1890.8 L1379.9,1890.9 L1382.9,1890.9 L1385.9,1891.0 L1388.9,1891.1 L1391.9,1891.1 L1394.9,1891.2 L1397.9,1891.2 L1400.9,1891.3 L1403.9,1891.4 L1406.9,1891.4 L1409.9,1891.5 L1412.9,1891.6 L1415.9,1891.6 L1418.9,1891.7 L1421.9,1891.7 L1424.9,1891.8 L1427.9,1891.9 L1430.9,1891.9 L1433.9,1892.0 L1436.9,1892.0 L1439.9,1892.1 L1442.9,1892.2 L1445.9,1892.2 L1448.9,1892.3 L1451.9,1892.3 L1454.8,1892.4 L1457.8,1892.4 L1460.8,1892.5 L1463.8,1892.6 L1466.8,1892.6 L1469.8,1892.7 L1472.8,1892.7 L1475.8,1892.8 L1478.8,1892.8 L1481.8,1892.9 L1484.8,1893.0 L1487.8,1893.0 L1490.8,1893.1 L1493.8,1893.1 L1496.8,1893.2 L1499.8,1893.2 L1502.8,1893.3 L1505.8,1893.3 L1508.8,1893.4 L1511.8,1893.4 L1514.8,1893.5 L1517.8,1893.6 L1520.8,1893.6 L1523.8,1893.7 L1526.8,1893.7 L1529.8,1893.8 L1532.8,1893.8 L1535.8,1893.9 L1538.8,1893.9 L1541.8,1894.0 L1544.8,1894.0 L1547.8,1894.1 L1550.8,1894.1 L1553.8,1894.2 L1556.8,1894.2 L1559.8,1894.3 L1562.8,1894.3 L1565.8,1894.4 L1568.8,1894.4 L1571.8,1894.5 L1574.8,1894.5 L1577.8,1894.6 L1580.8,1894.6 L1583.8,1894.7 L1586.8,1894.7 L1589.8,1894.8 L1592.8,1894.8 L1595.8,1894.9 L1598.8,1894.9 L1601.8,1895.0 L1604.8,1895.0 L1607.8,1895.1 L1610.8,1895.1 L1613.8,1895.2 L1616.8,1895.2 L1619.8,1895.3 L1622.8,1895.3 L1625.8,1895.4 L1628.8,1895.4 L1631.8,1895.5 L1634.8,1895.5 L1637.8,1895.5 L1640.8,1895.6 L1643.8,1895.6 L1646.8,1895.7 L1649.8,1895.7 L1652.8,1895.8 L1655.8,1895.8 L1658.8,1895.9 L1661.8,1895.9 L1664.8,1896.0 L1667.8,1896.0 L1670.8,1896.0 L1673.8,1896.1 L1676.8,1896.1 L1679.8,1896.2 L1682.8,1896.2 L1685.8,1896.3 L1688.8,1896.3 L1691.8,1896.4 L1694.8,1896.4 L1697.8,1896.4 L1700.8,1896.5 L1703.8,1896.5 L1706.8,1896.6 L1709.8,1896.6 L1712.8,1896.7 L1715.8,1896.7 L1718.8,1896.7 L1721.8,1896.8 L1724.8,1896.8 L1727.8,1896.9 L1730.8,1896.9 L1733.8,1897.0 L1736.8,1897.0 L1739.8,1897.0 L1742.8,1897.1 L1745.8,1897.1 L1748.8,1897.2 L1751.8,1897.2 L1754.8,1897.2 L1757.8,1897.3 L1760.8,1897.3 L1763.8,1897.4 L1766.8,1897.4 L1769.8,1897.4 L1772.8,1897.5 L1775.8,1897.5 L1778.8,1897.6 L1781.8,1897.6 L1784.8,1897.7 L1787.8,1897.7 L1790.8,1897.7 L1793.8,1897.8 L1796.8,1897.8 L1799.8,1897.8 L1802.8,1897.9 L1805.8,1897.9 L1808.8,1898.0 L1811.8,1898.0 L1814.8,1898.0 L1817.8,1898.1 L1820.8,1898.1 L1823.8,1898.2 L1826.8,1898.2 L1829.8,1898.2 L1832.8,1898.3 L1835.8,1898.3 L1838.8,1898.3 L1841.8,1898.4 L1844.8,1898.4 L1847.8,1898.5 L1850.8,1898.5 L1853.8,1898.5 L1856.8,1898.6 L1859.8,1898.6 L1862.8,1898.6 L1865.8,1898.7 L1868.8,1898.7 L1871.8,1898.8 L1874.8,1898.8 L1877.8,1898.8 L1880.8,1898.9 L1883.8,1898.9 L1886.8,1898.9 L1889.8,1899.0 L1892.8,1899.0 L1895.8,1899.0 L1898.8,1899.1 L1901.8,1899.1 L1904.8,1899.2 L1907.8,1899.2 L1910.8,1899.2 L1913.8,1899.3 L1916.8,1899.3 L1919.8,1899.3 L1921.7,1899.3 L1921.8,1892.3 L1919.9,1892.3 L1916.9,1892.3 L1913.9,1892.3 L1910.9,1892.2 L1907.9,1892.2 L1904.9,1892.2 L1901.9,1892.1 L1898.9,1892.1 L1895.9,1892.0 L1892.9,1892.0 L1889.9,1892.0 L1886.9,1891.9 L1883.9,1891.9 L1880.9,1891.9 L1877.9,1891.8 L1874.9,1891.8 L1871.9,1891.8 L1868.9,1891.7 L1865.9,1891.7 L1862.9,1891.6 L1859.9,1891.6 L1856.9,1891.6 L1853.9,1891.5 L1850.9,1891.5 L1847.9,1891.5 L1844.9,1891.4 L1841.9,1891.4 L1838.9,1891.3 L1835.9,1891.3 L1832.9,1891.3 L1829.9,1891.2 L1826.9,1891.2 L1823.9,1891.2 L1820.9,1891.1 L1817.9,1891.1 L1814.9,1891.0 L1811.9,1891.0 L1808.9,1891.0 L1805.9,1890.9 L1802.9,1890.9 L1799.9,1890.8 L1796.9,1890.8 L1793.9,1890.8 L1790.9,1890.7 L1787.9,1890.7 L1784.9,1890.7 L1781.9,1890.6 L1778.9,1890.6 L1775.9,1890.5 L1772.9,1890.5 L1769.9,1890.5 L1766.9,1890.4 L1763.9,1890.4 L1760.9,1890.3 L1757.9,1890.3 L1754.9,1890.2 L1751.9,1890.2 L1748.9,1890.2 L1745.9,1890.1 L1742.9,1890.1 L1739.9,1890.0 L1736.9,1890.0 L1733.9,1890.0 L1730.9,1889.9 L1727.9,1889.9 L1724.9,1889.8 L1721.9,1889.8 L1718.9,1889.7 L1715.9,1889.7 L1712.9,1889.7 L1709.9,1889.6 L1706.9,1889.6 L1703.9,1889.5 L1700.9,1889.5 L1697.9,1889.4 L1694.9,1889.4 L1691.9,1889.4 L1688.9,1889.3 L1685.9,1889.3 L1682.9,1889.2 L1679.9,1889.2 L1676.9,1889.1 L1673.9,1889.1 L1670.9,1889.0 L1667.9,1889.0 L1664.9,1889.0 L1661.9,1888.9 L1658.9,1888.9 L1655.9,1888.8 L1652.9,1888.8 L1649.9,1888.7 L1646.9,1888.7 L1643.9,1888.6 L1640.9,1888.6 L1637.9,1888.5 L1634.9,1888.5 L1631.9,1888.5 L1628.9,1888.4 L1625.9,1888.4 L1622.9,1888.3 L1619.9,1888.3 L1616.9,1888.2 L1613.9,1888.2 L1610.9,1888.1 L1607.9,1888.1 L1605.0,1888.0 L1602.0,1888.0 L1599.0,1887.9 L1596.0,1887.9 L1593.0,1887.8 L1590.0,1887.8 L1587.0,1887.7 L1584.0,1887.7 L1581.0,1887.6 L1578.0,1887.6 L1575.0,1887.5 L1572.0,1887.5 L1569.0,1887.4 L1566.0,1887.4 L1563.0,1887.3 L1560.0,1887.3 L1557.0,1887.2 L1554.0,1887.2 L1551.0,1887.1 L1548.0,1887.1 L1545.0,1887.0 L1542.0,1887.0 L1539.0,1886.9 L1536.0,1886.9 L1533.0,1886.8 L1530.0,1886.8 L1527.0,1886.7 L1524.0,1886.7 L1521.0,1886.6 L1518.0,1886.6 L1515.0,1886.5 L1512.0,1886.4 L1509.0,1886.4 L1506.0,1886.3 L1503.0,1886.3 L1500.0,1886.2 L1497.0,1886.2 L1494.0,1886.1 L1491.0,1886.1 L1488.0,1886.0 L1485.0,1886.0 L1482.0,1885.9 L1479.0,1885.8 L1476.0,1885.8 L1473.0,1885.7 L1470.0,1885.7 L1467.0,1885.6 L1464.0,1885.6 L1461.0,1885.5 L1458.0,1885.4 L1455.0,1885.4 L1452.0,1885.3 L1449.0,1885.3 L1446.0,1885.2 L1443.0,1885.2 L1440.0,1885.1 L1437.0,1885.0 L1434.0,1885.0 L1431.0,1884.9 L1428.0,1884.9 L1425.0,1884.8 L1422.0,1884.7 L1419.0,1884.7 L1416.0,1884.6 L1413.0,1884.6 L1410.0,1884.5 L1407.0,1884.4 L1404.0,1884.4 L1401.0,1884.3 L1398.0,1884.2 L1395.0,1884.2 L1392.0,1884.1 L1389.0,1884.1 L1386.0,1884.0 L1383.0,1883.9 L1380.0,1883.9 L1377.0,1883.8 L1374.0,1883.7 L1371.0,1883.7 L1368.0,1883.6 L1365.0,1883.5 L1362.0,1883.5 L1359.0,1883.4 L1356.0,1883.4 L1353.0,1883.3 L1350.0,1883.2 L1347.0,1883.2 L1344.0,1883.1 L1341.0,1883.0 L1338.0,1883.0 L1335.0,1882.9 L1332.0,1882.8 L1329.0,1882.7 L1326.0,1882.7 L1323.0,1882.6 L1320.0,1882.5 L1317.0,1882.5 L1314.0,1882.4 L1311.0,1882.3 L1308.0,1882.3 L1305.0,1882.2 L1302.0,1882.1 L1299.0,1882.0 L1296.0,1882.0 L1293.0,1881.9 L1290.0,1881.8 L1287.0,1881.8 L1284.0,1881.7 L1281.0,1881.6 L1278.0,1881.5 L1275.0,1881.5 L1272.0,1881.4 L1269.0,1881.3 L1266.1,1881.2 L1263.1,1881.2 L1260.1,1881.1 L1257.1,1881.0 L1254.1,1880.9 L1251.1,1880.9 L1248.1,1880.8 L1245.1,1880.7 L1242.1,1880.6 L1239.1,1880.6 L1236.1,1880.5 L1233.1,1880.4 L1230.1,1880.3 L1227.1,1880.2 L1224.1,1880.2 L1221.1,1880.1 L1218.1,1880.0 L1215.1,1879.9 L1212.1,1879.8 L1209.1,1879.8 L1206.1,1879.7 L1203.1,1879.6 L1200.1,1879.5 L1197.1,1879.4 L1194.1,1879.3 L1191.1,1879.3 L1188.1,1879.2 L1185.1,1879.1 L1182.1,1879.0 L1179.1,1878.9 L1176.1,1878.8 L1173.1,1878.7 L1170.1,1878.7 L1167.1,1878.6 L1164.1,1878.5 L1161.1,1878.4 L1158.1,1878.3 L1155.1,1878.2 L1152.1,1878.1 L1149.1,1878.0 L1146.1,1877.9 L1143.1,1877.8 L1140.1,1877.8 L1137.1,1877.7 L1134.1,1877.6 L1131.1,1877.5 L1128.1,1877.4 L1125.1,1877.3 L1122.1,1877.2 L1119.1,1877.1 L1116.1,1877.0 L1113.1,1876.9 L1110.1,1876.8 L1107.1,1876.7 L1104.1,1876.6 L1101.1,1876.5 L1098.1,1876.4 L1095.2,1876.3 L1092.2,1876.2 L1089.2,1876.1 L1086.2,1876.0 L1083.2,1875.9 L1080.2,1875.8 L1077.2,1875.7 L1074.2,1875.6 L1071.2,1875.5 L1068.2,1875.4 L1065.2,1875.3 L1062.2,1875.2 L1059.2,1875.1 L1056.2,1875.0 L1053.2,1874.9 L1050.2,1874.8 L1047.2,1874.7 L1044.2,1874.5 L1041.2,1874.4 L1038.2,1874.3 L1035.2,1874.2 L1032.2,1874.1 L1029.2,1874.0 L1026.2,1873.9 L1023.2,1873.8 L1020.2,1873.6 L1017.2,1873.5 L1014.2,1873.4 L1011.2,1873.3 L1008.2,1873.2 L1005.2,1873.1 L1002.2,1872.9 L999.2,1872.8 L996.2,1872.7 L993.2,1872.6 L990.2,1872.5 L987.3,1872.3 L984.3,1872.2 L981.3,1872.1 L978.3,1872.0 L975.3,1871.8 L972.3,1871.7 L969.3,1871.6 L966.3,1871.5 L963.3,1871.3 L960.3,1871.2 L957.3,1871.1 L954.3,1870.9 L951.3,1870.8 L948.3,1870.7 L945.3,1870.5 L942.3,1870.4 L939.3,1870.3 L936.3,1870.1 L933.3,1870.0 L930.3,1869.9 L927.3,1869.7 L924.3,1869.6 L921.3,1869.4 L918.3,1869.3 L915.3,1869.2 L912.4,1869.0 L909.4,1868.9 L906.4,1868.7 L903.4,1868.6 L900.4,1868.4 L897.4,1868.3 L894.4,1868.1 L891.4,1868.0 L888.4,1867.8 L885.4,1867.7 L882.4,1867.5 L879.4,1867.4 L876.4,1867.2 L873.4,1867.0 L870.4,1866.9 L867.4,1866.7 L864.4,1866.6 L861.4,1866.4 L858.4,1866.2 L855.5,1866.1 L852.5,1865.9 L849.5,1865.7 L846.5,1865.6 L843.5,1865.4 L840.5,1865.2 L837.5,1865.0 L834.5,1864.9 L831.5,1864.7 L828.5,1864.5 L825.5,1864.3 L822.5,1864.2 L819.5,1864.0 L816.5,1863.8 L813.5,1863.6 L810.6,1863.4 L807.6,1863.2 L804.6,1863.1 L801.6,1862.9 L798.6,1862.7 L795.6,1862.5 L792.6,1862.3 L789.6,1862.1 L786.6,1861.9 L783.6,1861.7 L780.6,1861.5 L777.6,1861.3 L774.7,1861.1 L771.7,1860.9 L768.7,1860.7 L765.7,1860.4 L762.7,1860.2 L759.7,1860.0 L756.7,1859.8 L753.7,1859.6 L750.7,1859.4 L747.7,1859.1 L744.8,1858.9 L741.8,1858.7 L738.8,1858.5 L735.8,1858.2 L732.8,1858.0 L729.8,1857.8 L726.8,1857.5 L723.8,1857.3 L720.8,1857.1 L717.9,1856.8 L714.9,1856.6 L711.9,1856.3 L708.9,1856.1 L705.9,1855.8 L702.9,1855.6 L699.9,1855.3 L697.0,1855.0 L694.0,1854.8 L691.0,1854.5 L688.0,1854.2 L685.0,1854.0 L682.0,1853.7 L679.1,1853.4 L676.1,1853.1 L673.1,1852.8 L670.1,1852.6 L667.1,1852.3 L664.1,1852.0 L661.2,1851.7 L658.2,1851.4 L655.2,1851.1 L652.2,1850.8 L649.2,1850.5 L646.3,1850.2 L643.3,1849.8 L640.3,1849.5 L637.3,1849.2 L634.3,1848.9 L631.4,1848.5 L628.4,1848.2 L625.4,1847.9 L622.4,1847.5 L619.5,1847.2 L616.5,1846.8 L613.5,1846.5 L610.5,1846.1 L607.6,1845.7 L604.6,1845.4 L601.6,1845.0 L598.6,1844.6 L595.7,1844.2 L592.7,1843.9 L589.7,1843.5 L586.8,1843.1 L583.8,1842.7 L580.8,1842.3 L577.9,1841.8 L574.9,1841.4 L571.9,1841.0 L569.0,1840.6 L566.0,1840.1 L563.1,1839.7 L560.1,1839.2 L557.2,1838.8 L554.2,1838.3 L551.2,1837.9 L548.3,1837.4 L545.3,1836.9 L542.4,1836.4 L539.4,1835.9 L536.5,1835.4 L533.5,1834.9 L530.6,1834.4 L527.6,1833.9 L524.7,1833.3 L521.8,1832.8 L518.8,1832.2 L515.9,1831.7 L513.0,1831.1 L510.0,1830.5 L507.1,1829.9 L504.2,1829.3 L501.2,1828.7 L498.3,1828.1 L495.4,1827.5 L492.5,1826.9 L489.6,1826.2 L486.6,1825.5 L483.7,1824.9 L480.8,1824.2 L477.9,1823.5 L475.0,1822.8 L472.1,1822.1 L469.2,1821.3 L466.4,1820.6 L463.5,1819.8 L460.6,1819.1 L457.7,1818.3 L454.8,1817.4 L452.0,1816.6 L449.1,1815.8 L446.3,1814.9 L443.4,1814.1 L440.5,1813.2 L437.7,1812.3 L434.9,1811.4 L432.1,1810.4 L429.2,1809.4 L426.4,1808.5 L423.7,1807.5 L420.8,1806.4 L418.0,1805.4 L415.3,1804.4 L412.5,1803.3 L409.8,1802.1 L407.0,1801.0 L404.3,1799.9 L401.6,1798.7 L398.9,1797.5 L396.1,1796.2 L393.4,1795.0 L390.8,1793.7 L388.2,1792.3 L385.5,1791.0 L382.9,1789.7 L380.3,1788.3 L377.7,1786.8 L375.1,1785.3 L372.5,1783.8 L370.0,1782.3 L367.5,1780.7 L365.0,1779.1 L362.5,1777.4 L360.1,1775.8 L357.7,1774.2 L355.3,1772.4 L352.9,1770.7 L350.6,1768.9 L348.3,1767.0 L346.0,1765.1 L343.7,1763.2 L341.5,1761.2 L339.3,1759.3 L337.2,1757.2 L335.1,1755.1 L333.1,1753.0 L331.1,1750.8 L329.2,1748.5 L327.3,1746.3 L325.4,1744.0 L323.6,1741.7 L321.8,1739.3 L320.0,1736.9 L318.3,1734.5 L316.7,1732.1 L315.0,1729.6 L313.4,1727.1 L311.9,1724.6 L310.4,1722.1 L308.9,1719.5 L307.5,1717.0 L306.1,1714.3 L304.7,1711.7 L303.4,1709.1 L302.1,1706.4 L300.8,1703.8 L299.6,1701.1 L298.4,1698.4 L297.2,1695.6 L296.1,1692.9 L295.0,1690.1 L293.9,1687.4 L292.9,1684.6 L291.8,1681.8 L290.9,1679.0 L289.9,1676.2 L289.0,1673.4 L288.0,1670.6 L287.2,1667.7 L286.3,1664.9 L285.5,1662.0 L284.7,1659.2 L283.9,1656.3 L283.1,1653.4 L282.3,1650.6 L281.6,1647.7 L280.9,1644.8 L280.2,1641.9 L279.5,1639.0 L278.9,1636.1 L278.2,1633.2 L277.6,1630.3 L277.0,1627.3 L276.4,1624.4 L275.8,1621.5 L275.2,1618.6 L274.7,1615.6 L274.2,1612.7 L273.6,1609.8 L273.1,1606.8 L272.6,1603.9 L272.1,1600.9 L271.7,1598.0 L271.2,1595.0 L270.7,1592.1 L270.3,1589.1 L269.9,1586.2 L269.4,1583.2 L269.0,1580.2 L268.6,1577.3 L268.2,1574.3 L267.9,1571.4 L267.5,1568.4 L267.1,1565.4 L266.8,1562.5 L266.4,1559.5 L266.0,1556.5 L265.7,1553.5 L265.4,1550.6 L265.1,1547.6 L264.7,1544.6 L264.4,1541.6 L264.1,1538.7 L263.8,1535.7 L263.6,1532.7 L263.3,1529.7 L263.0,1526.7 L262.7,1523.8 L262.4,1520.8 L262.2,1517.8 L261.9,1514.8 L261.7,1511.8 L261.4,1508.9 L261.2,1505.9 L260.9,1502.9 L260.7,1499.9 L260.5,1496.9 L260.3,1493.9 L260.0,1490.9 L259.8,1488.0 L259.6,1485.0 L259.4,1482.0 L259.2,1479.0 L259.0,1476.0 L258.8,1473.0 L258.6,1470.0 L258.4,1467.0 L258.2,1464.0 L258.0,1461.0 L257.9,1458.1 L257.7,1455.1 L257.5,1452.1 L257.3,1449.1 L257.2,1446.1 L257.0,1443.1 L256.8,1440.1 L256.7,1437.1 L256.5,1434.1 L256.4,1431.1 L256.2,1428.1 L256.1,1425.1 L255.9,1422.1 L255.8,1419.2 L255.6,1416.2 L255.5,1413.2 L255.4,1410.2 L255.2,1407.2 L255.1,1404.2 L255.0,1401.2 L254.8,1398.2 L254.7,1395.2 L254.6,1392.2 L254.5,1389.2 L254.3,1386.2 L254.2,1383.2 L254.1,1380.2 L254.0,1377.2 L253.9,1374.2 L253.8,1371.2 L253.7,1368.2 L253.5,1365.2 L253.4,1362.2 L253.3,1359.2 L253.2,1356.3 L253.1,1353.3 L253.0,1350.3 L252.9,1347.3 L252.8,1344.3 L252.7,1341.3 L252.6,1338.3 L252.5,1335.3 L252.4,1332.3 L252.4,1329.3 L252.3,1326.3 L252.2,1323.3 L252.1,1320.3 L252.0,1317.3 L251.9,1314.3 L251.8,1311.3 L251.7,1308.3 L251.7,1305.3 L251.6,1302.3 L251.5,1299.3 L251.4,1296.3 L251.3,1293.3 L251.3,1290.3 L251.2,1287.3 L251.1,1284.3 L251.0,1281.3 L251.0,1278.3 L250.9,1275.3 L250.8,1272.5 L251.0,1269.6Z" fill="#0000cc" stroke="none"/>
<path d="M244.2,1140.4 L244.7,1143.1 L244.7,1145.7 L244.8,1148.7 L244.8,1151.7 L244.9,1154.7 L245.0,1157.7 L245.0,1160.7 L245.1,1163.7 L245.2,1166.7 L245.2,1169.7 L245.3,1172.7 L245.4,1175.7 L245.5,1178.7 L245.5,1181.7 L245.6,1184.7 L245.7,1187.7 L245.8,1190.7 L245.8,1193.7 L245.9,1196.7 L246.0,1199.7 L246.1,1202.7 L246.2,1205.7 L246.2,1208.7 L246.3,1211.7 L246.4,1214.7 L246.5,1217.7 L246.6,1220.7 L246.7,1223.7 L246.8,1226.7 L246.8,1229.7 L246.9,1232.7 L247.0,1235.7 L247.1,1238.7 L247.2,1241.7 L247.3,1244.7 L247.4,1247.7 L247.5,1250.7 L247.6,1253.7 L247.7,1256.7 L247.8,1259.7 L247.9,1262.7 L248.0,1265.7 L248.1,1268.7 L248.2,1271.7 L248.3,1274.7 L248.4,1277.7 L248.6,1280.7 L248.7,1283.7 L248.8,1286.7 L248.9,1289.7 L249.0,1292.7 L249.1,1295.7 L249.3,1298.7 L249.4,1301.7 L249.5,1304.7 L249.6,1307.7 L249.8,1310.7 L249.9,1313.7 L250.0,1316.7 L250.1,1319.7 L250.3,1322.7 L250.4,1325.7 L250.6,1328.7 L250.7,1331.7 L250.8,1334.7 L251.0,1337.7 L251.1,1340.7 L251.3,1343.7 L251.4,1346.7 L251.6,1349.7 L251.7,1352.7 L251.9,1355.7 L252.1,1358.7 L252.2,1361.7 L252.4,1364.7 L252.6,1367.7 L252.7,1370.7 L252.9,1373.7 L253.1,1376.7 L253.3,1379.7 L253.4,1382.7 L253.6,1385.7 L253.8,1388.7 L254.0,1391.7 L254.2,1394.7 L254.4,1397.7 L254.6,1400.7 L254.8,1403.7 L255.0,1406.7 L255.2,1409.7 L255.4,1412.7 L255.6,1415.7 L255.9,1418.7 L256.1,1421.7 L256.3,1424.6 L256.6,1427.6 L256.8,1430.6 L257.0,1433.6 L257.3,1436.6 L257.5,1439.6 L257.8,1442.6 L258.0,1445.6 L258.3,1448.6 L258.6,1451.6 L258.8,1454.6 L259.1,1457.6 L259.4,1460.6 L259.7,1463.6 L260.0,1466.6 L260.3,1469.6 L260.6,1472.5 L260.9,1475.5 L261.2,1478.5 L261.5,1481.5 L261.8,1484.5 L262.2,1487.5 L262.5,1490.5 L262.9,1493.5 L263.2,1496.5 L263.6,1499.4 L263.9,1502.4 L264.3,1505.4 L264.7,1508.4 L265.1,1511.4 L265.5,1514.4 L265.9,1517.3 L266.3,1520.3 L266.7,1523.3 L267.1,1526.3 L267.6,1529.3 L268.0,1532.2 L268.5,1535.2 L269.0,1538.2 L269.5,1541.2 L269.9,1544.1 L270.4,1547.1 L271.0,1550.1 L271.5,1553.0 L272.0,1556.0 L272.6,1559.0 L273.1,1561.9 L273.7,1564.9 L274.3,1567.9 L274.9,1570.8 L275.5,1573.8 L276.1,1576.7 L276.8,1579.7 L277.4,1582.6 L278.1,1585.6 L278.8,1588.5 L279.5,1591.4 L280.2,1594.4 L281.0,1597.3 L281.7,1600.2 L282.5,1603.1 L283.3,1606.0 L284.1,1609.0 L284.9,1611.9 L285.8,1614.8 L286.7,1617.6 L287.6,1620.5 L288.5,1623.4 L289.4,1626.3 L290.4,1629.2 L291.4,1632.0 L292.4,1634.9 L293.5,1637.7 L294.6,1640.6 L295.7,1643.4 L296.8,1646.2 L297.9,1649.0 L299.1,1651.8 L300.3,1654.6 L301.6,1657.3 L302.9,1660.1 L304.2,1662.8 L305.5,1665.6 L306.9,1668.3 L308.3,1671.0 L309.7,1673.6 L311.2,1676.3 L312.7,1678.9 L314.2,1681.5 L315.8,1684.1 L317.4,1686.7 L319.1,1689.3 L320.8,1691.8 L322.5,1694.3 L324.3,1696.8 L326.1,1699.2 L327.9,1701.7 L329.7,1704.1 L331.7,1706.4 L333.6,1708.8 L335.6,1711.1 L337.6,1713.4 L339.6,1715.6 L341.7,1717.8 L343.8,1720.0 L345.9,1722.2 L348.1,1724.3 L350.2,1726.5 L352.4,1728.6 L354.6,1730.7 L356.9,1732.8 L359.2,1734.7 L361.6,1736.6 L363.9,1738.5 L366.2,1740.4 L368.6,1742.4 L371.1,1744.2 L373.5,1746.0 L375.9,1747.7 L378.4,1749.5 L380.9,1751.3 L383.5,1752.9 L386.0,1754.5 L388.6,1756.2 L391.1,1757.8 L393.8,1759.4 L396.4,1760.8 L399.0,1762.3 L401.7,1763.8 L404.4,1765.3 L407.0,1766.6 L409.7,1768.0 L412.4,1769.4 L415.2,1770.8 L417.9,1772.0 L420.6,1773.3 L423.4,1774.6 L426.2,1775.8 L429.0,1777.0 L431.7,1778.2 L434.5,1779.3 L437.3,1780.5 L440.1,1781.6 L442.9,1782.7 L445.8,1783.8 L448.6,1784.8 L451.5,1785.8 L454.3,1786.8 L457.1,1787.9 L460.0,1788.8 L462.9,1789.8 L465.7,1790.7 L468.6,1791.7 L471.5,1792.6 L474.4,1793.5 L477.2,1794.3 L480.1,1795.2 L483.0,1796.1 L485.9,1796.9 L488.8,1797.7 L491.7,1798.6 L494.7,1799.3 L497.6,1800.1 L500.5,1800.9 L503.4,1801.7 L506.3,1802.4 L509.2,1803.1 L512.1,1803.8 L515.1,1804.6 L518.0,1805.3 L520.9,1805.9 L523.9,1806.6 L526.8,1807.3 L529.8,1807.9 L532.7,1808.6 L535.6,1809.2 L538.6,1809.9 L541.5,1810.5 L544.5,1811.1 L547.4,1811.7 L550.4,1812.3 L553.3,1812.9 L556.3,1813.4 L559.2,1814.0 L562.2,1814.6 L565.1,1815.1 L568.1,1815.7 L571.1,1816.2 L574.0,1816.8 L577.0,1817.3 L580.0,1817.8 L582.9,1818.3 L585.9,1818.8 L588.8,1819.3 L591.8,1819.8 L594.8,1820.3 L597.8,1820.8 L600.7,1821.2 L603.7,1821.7 L606.7,1822.2 L609.6,1822.6 L612.6,1823.1 L615.6,1823.5 L618.6,1824.0 L621.5,1824.4 L624.5,1824.8 L627.5,1825.3 L630.5,1825.7 L633.4,1826.1 L636.4,1826.5 L639.4,1826.9 L642.4,1827.3 L645.3,1827.7 L648.3,1828.1 L651.3,1828.5 L654.3,1828.9 L657.3,1829.2 L660.2,1829.6 L663.2,1830.0 L666.2,1830.4 L669.2,1830.7 L672.2,1831.1 L675.2,1831.4 L678.1,1831.8 L681.1,1832.1 L684.1,1832.5 L687.1,1832.8 L690.1,1833.2 L693.1,1833.5 L696.1,1833.8 L699.0,1834.2 L702.0,1834.5 L705.0,1834.8 L708.0,1835.1 L711.0,1835.4 L714.0,1835.7 L717.0,1836.1 L719.9,1836.4 L722.9,1836.7 L725.9,1837.0 L728.9,1837.3 L731.9,1837.6 L734.9,1837.9 L737.9,1838.1 L740.9,1838.4 L743.9,1838.7 L746.8,1839.0 L749.8,1839.3 L752.8,1839.6 L755.8,1839.8 L758.8,1840.1 L761.8,1840.4 L764.8,1840.6 L767.8,1840.9 L770.8,1841.2 L773.8,1841.4 L776.7,1841.7 L779.7,1841.9 L782.7,1842.2 L785.7,1842.4 L788.7,1842.7 L791.7,1842.9 L794.7,1843.2 L797.7,1843.4 L800.7,1843.7 L803.7,1843.9 L806.7,1844.1 L809.7,1844.4 L812.7,1844.6 L815.6,1844.8 L818.6,1845.1 L821.6,1845.3 L824.6,1845.5 L827.6,1845.8 L830.6,1846.0 L833.6,1846.2 L836.6,1846.4 L839.6,1846.6 L842.6,1846.8 L845.6,1847.1 L848.6,1847.3 L851.6,1847.5 L854.6,1847.7 L857.6,1847.9 L860.6,1848.1 L863.6,1848.3 L866.6,1848.5 L869.5,1848.7 L872.5,1848.9 L875.5,1849.1 L878.5,1849.3 L881.5,1849.5 L884.5,1849.7 L887.5,1849.9 L890.5,1850.1 L893.5,1850.3 L896.5,1850.5 L899.5,1850.7 L902.5,1850.8 L905.5,1851.0 L908.5,1851.2 L911.5,1851.4 L914.5,1851.6 L917.5,1851.8 L920.5,1851.9 L923.5,1852.1 L926.5,1852.3 L929.5,1852.5 L932.5,1852.6 L935.5,1852.8 L938.4,1853.0 L941.4,1853.2 L944.4,1853.3 L947.4,1853.5 L950.4,1853.7 L953.4,1853.8 L956.4,1854.0 L959.4,1854.2 L962.4,1854.3 L965.4,1854.5 L968.4,1854.6 L971.4,1854.8 L974.4,1855.0 L977.4,1855.1 L980.4,1855.3 L983.4,1855.4 L986.4,1855.6 L989.4,1855.7 L992.4,1855.9 L995.4,1856.1 L998.4,1856.2 L1001.4,1856.4 L1004.4,1856.5 L1007.4,1856.7 L1010.4,1856.8 L1013.4,1856.9 L1016.4,1857.1 L1019.4,1857.2 L1022.4,1857.4 L1025.4,1857.5 L1028.4,1857.7 L1031.4,1857.8 L1034.4,1858.0 L1037.4,1858.1 L1040.3,1858.2 L1043.3,1858.4 L1046.3,1858.5 L1049.3,1858.6 L1052.3,1858.8 L1055.3,1858.9 L1058.3,1859.1 L1061.3,1859.2 L1064.3,1859.3 L1067.3,1859.5 L1070.3,1859.6 L1073.3,1859.7 L1076.3,1859.8 L1079.3,1860.0 L1082.3,1860.1 L1085.3,1860.2 L1088.3,1860.4 L1091.3,1860.5 L1094.3,1860.6 L1097.3,1860.7 L1100.3,1860.9 L1103.3,1861.0 L1106.3,1861.1 L1109.3,1861.2 L1112.3,1861.4 L1115.3,1861.5 L1118.3,1861.6 L1121.3,1861.7 L1124.3,1861.8 L1127.3,1862.0 L1130.3,1862.1 L1133.3,1862.2 L1136.3,1862.3 L1139.3,1862.4 L1142.3,1862.5 L1145.3,1862.7 L1148.3,1862.8 L1151.3,1862.9 L1154.3,1863.0 L1157.3,1863.1 L1160.3,1863.2 L1163.3,1863.3 L1166.3,1863.4 L1169.3,1863.6 L1172.3,1863.7 L1175.3,1863.8 L1178.3,1863.9 L1181.3,1864.0 L1184.3,1864.1 L1187.3,1864.2 L1190.3,1864.3 L1193.3,1864.4 L1196.3,1864.5 L1199.3,1864.6 L1202.3,1864.7 L1205.3,1864.8 L1208.3,1864.9 L1211.3,1865.0 L1214.3,1865.2 L1217.3,1865.3 L1220.3,1865.4 L1223.3,1865.5 L1226.2,1865.6 L1229.2,1865.7 L1232.2,1865.8 L1235.2,1865.9 L1238.2,1866.0 L1241.2,1866.1 L1244.2,1866.2 L1247.2,1866.3 L1250.2,1866.3 L1253.2,1866.4 L1256.2,1866.5 L1259.2,1866.6 L1262.2,1866.7 L1265.2,1866.8 L1268.2,1866.9 L1271.2,1867.0 L1274.2,1867.1 L1277.2,1867.2 L1280.2,1867.3 L1283.2,1867.4 L1286.2,1867.5 L1289.2,1867.6 L1292.2,1867.7 L1295.2,1867.8 L1298.2,1867.8 L1301.2,1867.9 L1304.2,1868.0 L1307.2,1868.1 L1310.2,1868.2 L1313.2,1868.3 L1316.2,1868.4 L1319.2,1868.5 L1322.2,1868.6 L1325.2,1868.6 L1328.2,1868.7 L1331.2,1868.8 L1334.2,1868.9 L1337.2,1869.0 L1340.2,1869.1 L1343.2,1869.2 L1346.2,1869.2 L1349.2,1869.3 L1352.2,1869.4 L1355.2,1869.5 L1358.2,1869.6 L1361.2,1869.7 L1364.2,1869.7 L1367.2,1869.8 L1370.2,1869.9 L1373.2,1870.0 L1376.2,1870.1 L1379.2,1870.1 L1382.2,1870.2 L1385.2,1870.3 L1388.2,1870.4 L1391.2,1870.5 L1394.2,1870.5 L1397.2,1870.6 L1400.2,1870.7 L1403.2,1870.8 L1406.2,1870.9 L1409.2,1870.9 L1412.2,1871.0 L1415.2,1871.1 L1418.2,1871.2 L1421.2,1871.2 L1424.2,1871.3 L1427.2,1871.4 L1430.2,1871.5 L1433.2,1871.5 L1436.2,1871.6 L1439.2,1871.7 L1442.2,1871.8 L1445.2,1871.8 L1448.2,1871.9 L1451.2,1872.0 L1454.2,1872.1 L1457.2,1872.1 L1460.2,1872.2 L1463.2,1872.3 L1466.2,1872.4 L1469.2,1872.4 L1472.2,1872.5 L1475.2,1872.6 L1478.2,1872.6 L1481.2,1872.7 L1484.2,1872.8 L1487.2,1872.9 L1490.2,1872.9 L1493.2,1873.0 L1496.2,1873.1 L1499.2,1873.1 L1502.2,1873.2 L1505.2,1873.3 L1508.2,1873.3 L1511.2,1873.4 L1514.2,1873.5 L1517.2,1873.5 L1520.2,1873.6 L1523.2,1873.7 L1526.2,1873.7 L1529.2,1873.8 L1532.2,1873.9 L1535.2,1873.9 L1538.2,1874.0 L1541.2,1874.1 L1544.2,1874.1 L1547.2,1874.2 L1550.2,1874.3 L1553.2,1874.3 L1556.2,1874.4 L1559.2,1874.5 L1562.2,1874.5 L1565.2,1874.6 L1568.2,1874.7 L1571.2,1874.7 L1574.2,1874.8 L1577.2,1874.8 L1580.2,1874.9 L1583.2,1875.0 L1586.2,1875.0 L1589.2,1875.1 L1592.2,1875.2 L1595.2,1875.2 L1598.2,1875.3 L1601.2,1875.3 L1604.2,1875.4 L1607.2,1875.5 L1610.2,1875.5 L1613.2,1875.6 L1616.2,1875.6 L1619.2,1875.7 L1622.2,1875.8 L1625.2,1875.8 L1628.2,1875.9 L1631.2,1875.9 L1634.2,1876.0 L1637.2,1876.1 L1640.2,1876.1 L1643.2,1876.2 L1646.2,1876.2 L1649.2,1876.3 L1652.2,1876.4 L1655.2,1876.4 L1658.2,1876.5 L1661.2,1876.5 L1664.2,1876.6 L1667.2,1876.6 L1670.2,1876.7 L1673.2,1876.8 L1676.2,1876.8 L1679.2,1876.9 L1682.2,1876.9 L1685.2,1877.0 L1688.2,1877.0 L1691.2,1877.1 L1694.2,1877.1 L1697.2,1877.2 L1700.2,1877.3 L1703.2,1877.3 L1706.2,1877.4 L1709.2,1877.4 L1712.2,1877.5 L1715.2,1877.5 L1718.2,1877.6 L1721.2,1877.6 L1724.2,1877.7 L1727.2,1877.7 L1730.2,1877.8 L1733.2,1877.9 L1736.1,1877.9 L1739.1,1878.0 L1742.1,1878.0 L1745.1,1878.1 L1748.1,1878.1 L1751.1,1878.2 L1754.1,1878.2 L1757.1,1878.3 L1760.1,1878.3 L1763.1,1878.4 L1766.1,1878.4 L1769.1,1878.5 L1772.1,1878.5 L1775.1,1878.6 L1778.1,1878.6 L1781.1,1878.7 L1784.1,1878.7 L1787.1,1878.8 L1790.1,1878.8 L1793.1,1878.9 L1796.1,1878.9 L1799.1,1879.0 L1802.1,1879.0 L1805.1,1879.1 L1808.1,1879.1 L1811.1,1879.2 L1814.1,1879.2 L1817.1,1879.3 L1820.1,1879.3 L1823.1,1879.4 L1826.1,1879.4 L1829.1,1879.5 L1832.1,1879.5 L1835.1,1879.6 L1838.1,1879.6 L1841.1,1879.7 L1844.1,1879.7 L1847.1,1879.8 L1850.1,1879.8 L1853.1,1879.9 L1856.1,1879.9 L1859.1,1879.9 L1862.1,1880.0 L1865.1,1880.0 L1868.1,1880.1 L1871.1,1880.1 L1874.1,1880.2 L1877.1,1880.2 L1880.1,1880.3 L1883.1,1880.3 L1886.1,1880.4 L1889.1,1880.4 L1892.1,1880.5 L1895.1,1880.5 L1898.1,1880.5 L1901.1,1880.6 L1904.1,1880.6 L1907.1,1880.7 L1910.1,1880.7 L1913.1,1880.8 L1916.1,1880.8 L1919.1,1880.9 L1921.7,1880.9 L1921.8,1873.9 L1919.2,1873.9 L1916.2,1873.8 L1913.2,1873.8 L1910.2,1873.7 L1907.2,1873.7 L1904.2,1873.6 L1901.2,1873.6 L1898.2,1873.5 L1895.2,1873.5 L1892.2,1873.5 L1889.2,1873.4 L1886.2,1873.4 L1883.2,1873.3 L1880.2,1873.3 L1877.2,1873.2 L1874.2,1873.2 L1871.2,1873.1 L1868.2,1873.1 L1865.2,1873.0 L1862.2,1873.0 L1859.2,1872.9 L1856.2,1872.9 L1853.3,1872.9 L1850.3,1872.8 L1847.3,1872.8 L1844.3,1872.7 L1841.3,1872.7 L1838.3,1872.6 L1835.3,1872.6 L1832.3,1872.5 L1829.3,1872.5 L1826.3,1872.4 L1823.3,1872.4 L1820.3,1872.3 L1817.3,1872.3 L1814.3,1872.2 L1811.3,1872.2 L1808.3,1872.1 L1805.3,1872.1 L1802.3,1872.0 L1799.3,1872.0 L1796.3,1871.9 L1793.3,1871.9 L1790.3,1871.8 L1787.3,1871.8 L1784.3,1871.7 L1781.3,1871.7 L1778.3,1871.6 L1775.3,1871.6 L1772.3,1871.5 L1769.3,1871.5 L1766.3,1871.4 L1763.3,1871.4 L1760.3,1871.3 L1757.3,1871.3 L1754.3,1871.2 L1751.3,1871.2 L1748.3,1871.1 L1745.3,1871.1 L1742.3,1871.0 L1739.3,1871.0 L1736.3,1870.9 L1733.3,1870.9 L1730.3,1870.8 L1727.3,1870.7 L1724.3,1870.7 L1721.3,1870.6 L1718.3,1870.6 L1715.3,1870.5 L1712.3,1870.5 L1709.3,1870.4 L1706.3,1870.4 L1703.3,1870.3 L1700.3,1870.3 L1697.3,1870.2 L1694.3,1870.2 L1691.3,1870.1 L1688.3,1870.0 L1685.3,1870.0 L1682.3,1869.9 L1679.3,1869.9 L1676.3,1869.8 L1673.3,1869.8 L1670.3,1869.7 L1667.3,1869.6 L1664.3,1869.6 L1661.3,1869.5 L1658.3,1869.5 L1655.3,1869.4 L1652.3,1869.4 L1649.3,1869.3 L1646.3,1869.2 L1643.3,1869.2 L1640.3,1869.1 L1637.3,1869.1 L1634.3,1869.0 L1631.3,1868.9 L1628.3,1868.9 L1625.3,1868.8 L1622.3,1868.8 L1619.3,1868.7 L1616.3,1868.7 L1613.3,1868.6 L1610.3,1868.5 L1607.3,1868.5 L1604.3,1868.4 L1601.3,1868.3 L1598.3,1868.3 L1595.3,1868.2 L1592.3,1868.2 L1589.3,1868.1 L1586.3,1868.0 L1583.3,1868.0 L1580.3,1867.9 L1577.3,1867.9 L1574.3,1867.8 L1571.3,1867.7 L1568.3,1867.7 L1565.3,1867.6 L1562.3,1867.5 L1559.3,1867.5 L1556.3,1867.4 L1553.3,1867.3 L1550.3,1867.3 L1547.3,1867.2 L1544.3,1867.1 L1541.3,1867.1 L1538.3,1867.0 L1535.3,1866.9 L1532.3,1866.9 L1529.3,1866.8 L1526.3,1866.7 L1523.3,1866.7 L1520.3,1866.6 L1517.3,1866.5 L1514.3,1866.5 L1511.3,1866.4 L1508.3,1866.3 L1505.3,1866.3 L1502.3,1866.2 L1499.3,1866.1 L1496.3,1866.1 L1493.3,1866.0 L1490.3,1865.9 L1487.3,1865.9 L1484.3,1865.8 L1481.3,1865.7 L1478.3,1865.6 L1475.3,1865.6 L1472.4,1865.5 L1469.4,1865.4 L1466.4,1865.4 L1463.4,1865.3 L1460.4,1865.2 L1457.4,1865.1 L1454.4,1865.1 L1451.4,1865.0 L1448.4,1864.9 L1445.4,1864.9 L1442.4,1864.8 L1439.4,1864.7 L1436.4,1864.6 L1433.4,1864.6 L1430.4,1864.5 L1427.4,1864.4 L1424.4,1864.3 L1421.4,1864.3 L1418.4,1864.2 L1415.4,1864.1 L1412.4,1864.0 L1409.4,1863.9 L1406.4,1863.9 L1403.4,1863.8 L1400.4,1863.7 L1397.4,1863.6 L1394.4,1863.6 L1391.4,1863.5 L1388.4,1863.4 L1385.4,1863.3 L1382.4,1863.2 L1379.4,1863.2 L1376.4,1863.1 L1373.4,1863.0 L1370.4,1862.9 L1367.4,1862.8 L1364.4,1862.7 L1361.4,1862.7 L1358.4,1862.6 L1355.4,1862.5 L1352.4,1862.4 L1349.4,1862.3 L1346.4,1862.2 L1343.4,1862.2 L1340.4,1862.1 L1337.4,1862.0 L1334.4,1861.9 L1331.4,1861.8 L1328.4,1861.7 L1325.4,1861.6 L1322.4,1861.6 L1319.4,1861.5 L1316.4,1861.4 L1313.4,1861.3 L1310.4,1861.2 L1307.4,1861.1 L1304.4,1861.0 L1301.4,1860.9 L1298.4,1860.9 L1295.4,1860.8 L1292.4,1860.7 L1289.4,1860.6 L1286.4,1860.5 L1283.4,1860.4 L1280.4,1860.3 L1277.4,1860.2 L1274.5,1860.1 L1271.5,1860.0 L1268.5,1859.9 L1265.5,1859.8 L1262.5,1859.7 L1259.5,1859.6 L1256.5,1859.5 L1253.5,1859.5 L1250.5,1859.4 L1247.5,1859.3 L1244.5,1859.2 L1241.5,1859.1 L1238.5,1859.0 L1235.5,1858.9 L1232.5,1858.8 L1229.5,1858.7 L1226.5,1858.6 L1223.5,1858.5 L1220.5,1858.4 L1217.5,1858.3 L1214.5,1858.2 L1211.5,1858.1 L1208.5,1858.0 L1205.5,1857.8 L1202.5,1857.7 L1199.5,1857.6 L1196.5,1857.5 L1193.5,1857.4 L1190.5,1857.3 L1187.5,1857.2 L1184.5,1857.1 L1181.5,1857.0 L1178.5,1856.9 L1175.5,1856.8 L1172.5,1856.7 L1169.5,1856.6 L1166.5,1856.5 L1163.5,1856.3 L1160.5,1856.2 L1157.5,1856.1 L1154.5,1856.0 L1151.5,1855.9 L1148.5,1855.8 L1145.6,1855.7 L1142.6,1855.5 L1139.6,1855.4 L1136.6,1855.3 L1133.6,1855.2 L1130.6,1855.1 L1127.6,1855.0 L1124.6,1854.8 L1121.6,1854.7 L1118.6,1854.6 L1115.6,1854.5 L1112.6,1854.4 L1109.6,1854.2 L1106.6,1854.1 L1103.6,1854.0 L1100.6,1853.9 L1097.6,1853.7 L1094.6,1853.6 L1091.6,1853.5 L1088.6,1853.4 L1085.6,1853.2 L1082.6,1853.1 L1079.6,1853.0 L1076.6,1852.9 L1073.6,1852.7 L1070.6,1852.6 L1067.6,1852.5 L1064.6,1852.3 L1061.6,1852.2 L1058.6,1852.1 L1055.7,1851.9 L1052.7,1851.8 L1049.7,1851.7 L1046.7,1851.5 L1043.7,1851.4 L1040.7,1851.2 L1037.7,1851.1 L1034.7,1851.0 L1031.7,1850.8 L1028.7,1850.7 L1025.7,1850.5 L1022.7,1850.4 L1019.7,1850.3 L1016.7,1850.1 L1013.7,1850.0 L1010.7,1849.8 L1007.7,1849.7 L1004.7,1849.5 L1001.7,1849.4 L998.7,1849.2 L995.7,1849.1 L992.7,1848.9 L989.8,1848.8 L986.8,1848.6 L983.8,1848.5 L980.8,1848.3 L977.8,1848.1 L974.8,1848.0 L971.8,1847.8 L968.8,1847.7 L965.8,1847.5 L962.8,1847.3 L959.8,1847.2 L956.8,1847.0 L953.8,1846.9 L950.8,1846.7 L947.8,1846.5 L944.8,1846.4 L941.8,1846.2 L938.8,1846.0 L935.9,1845.8 L932.9,1845.7 L929.9,1845.5 L926.9,1845.3 L923.9,1845.1 L920.9,1845.0 L917.9,1844.8 L914.9,1844.6 L911.9,1844.4 L908.9,1844.2 L905.9,1844.1 L902.9,1843.9 L899.9,1843.7 L896.9,1843.5 L893.9,1843.3 L891.0,1843.1 L888.0,1842.9 L885.0,1842.7 L882.0,1842.5 L879.0,1842.3 L876.0,1842.1 L873.0,1842.0 L870.0,1841.8 L867.0,1841.5 L864.0,1841.3 L861.0,1841.1 L858.0,1840.9 L855.1,1840.7 L852.1,1840.5 L849.1,1840.3 L846.1,1840.1 L843.1,1839.9 L840.1,1839.7 L837.1,1839.5 L834.1,1839.2 L831.1,1839.0 L828.1,1838.8 L825.2,1838.6 L822.2,1838.3 L819.2,1838.1 L816.2,1837.9 L813.2,1837.7 L810.2,1837.4 L807.2,1837.2 L804.2,1837.0 L801.2,1836.7 L798.3,1836.5 L795.3,1836.2 L792.3,1836.0 L789.3,1835.7 L786.3,1835.5 L783.3,1835.2 L780.3,1835.0 L777.3,1834.7 L774.4,1834.5 L771.4,1834.2 L768.4,1834.0 L765.4,1833.7 L762.4,1833.4 L759.4,1833.2 L756.4,1832.9 L753.5,1832.6 L750.5,1832.3 L747.5,1832.1 L744.5,1831.8 L741.5,1831.5 L738.5,1831.2 L735.6,1830.9 L732.6,1830.6 L729.6,1830.3 L726.6,1830.0 L723.6,1829.7 L720.6,1829.4 L717.7,1829.1 L714.7,1828.8 L711.7,1828.5 L708.7,1828.2 L705.7,1827.9 L702.8,1827.6 L699.8,1827.2 L696.8,1826.9 L693.8,1826.6 L690.9,1826.3 L687.9,1825.9 L684.9,1825.6 L681.9,1825.2 L679.0,1824.9 L676.0,1824.5 L673.0,1824.2 L670.0,1823.8 L667.1,1823.5 L664.1,1823.1 L661.1,1822.7 L658.1,1822.4 L655.2,1822.0 L652.2,1821.6 L649.2,1821.2 L646.3,1820.8 L643.3,1820.4 L640.3,1820.0 L637.3,1819.6 L634.4,1819.2 L631.4,1818.8 L628.4,1818.4 L625.5,1818.0 L622.5,1817.5 L619.6,1817.1 L616.6,1816.7 L613.6,1816.2 L610.7,1815.8 L607.7,1815.3 L604.8,1814.9 L601.8,1814.4 L598.8,1813.9 L595.9,1813.5 L592.9,1813.0 L590.0,1812.5 L587.0,1812.0 L584.1,1811.5 L581.1,1811.0 L578.2,1810.5 L575.2,1810.0 L572.3,1809.4 L569.4,1808.9 L566.4,1808.4 L563.5,1807.8 L560.5,1807.3 L557.6,1806.7 L554.7,1806.1 L551.7,1805.6 L548.8,1805.0 L545.9,1804.4 L542.9,1803.8 L540.0,1803.2 L537.1,1802.5 L534.2,1801.9 L531.2,1801.3 L528.3,1800.6 L525.4,1800.0 L522.5,1799.3 L519.6,1798.6 L516.7,1797.9 L513.8,1797.2 L510.9,1796.5 L508.0,1795.8 L505.1,1795.1 L502.2,1794.3 L499.3,1793.6 L496.4,1792.8 L493.5,1792.0 L490.7,1791.2 L487.8,1790.4 L484.9,1789.6 L482.0,1788.8 L479.2,1787.9 L476.3,1787.1 L473.5,1786.2 L470.6,1785.3 L467.8,1784.4 L464.9,1783.5 L462.1,1782.5 L459.3,1781.6 L456.5,1780.6 L453.7,1779.6 L450.9,1778.6 L448.1,1777.6 L445.3,1776.6 L442.5,1775.5 L439.7,1774.4 L437.0,1773.3 L434.2,1772.2 L431.5,1771.0 L428.7,1769.9 L426.0,1768.7 L423.3,1767.5 L420.6,1766.3 L417.9,1765.0 L415.2,1763.8 L412.6,1762.5 L409.9,1761.1 L407.2,1759.7 L404.6,1758.4 L402.0,1757.0 L399.4,1755.5 L396.8,1754.1 L394.2,1752.6 L391.7,1751.1 L389.2,1749.5 L386.6,1747.9 L384.1,1746.4 L381.7,1744.8 L379.2,1743.1 L376.8,1741.4 L374.4,1739.6 L372.0,1738.0 L369.6,1736.2 L367.3,1734.3 L365.0,1732.4 L362.7,1730.5 L360.4,1728.7 L358.1,1726.8 L355.9,1724.8 L353.7,1722.8 L351.6,1720.8 L349.5,1718.7 L347.5,1716.5 L345.5,1714.4 L343.5,1712.1 L341.5,1709.9 L339.6,1707.6 L337.8,1705.4 L335.9,1703.0 L334.1,1700.7 L332.4,1698.3 L330.6,1695.9 L328.9,1693.5 L327.3,1691.0 L325.6,1688.6 L324.0,1686.1 L322.5,1683.6 L320.9,1681.0 L319.4,1678.5 L318.0,1675.9 L316.5,1673.3 L315.1,1670.7 L313.8,1668.1 L312.4,1665.4 L311.1,1662.8 L309.9,1660.1 L308.6,1657.4 L307.4,1654.7 L306.2,1652.0 L305.0,1649.3 L303.9,1646.5 L302.8,1643.8 L301.7,1641.0 L300.7,1638.2 L299.6,1635.4 L298.6,1632.6 L297.7,1629.8 L296.7,1627.0 L295.8,1624.2 L294.8,1621.4 L294.0,1618.5 L293.1,1615.7 L292.2,1612.8 L291.4,1610.0 L290.6,1607.1 L289.8,1604.3 L289.0,1601.4 L288.3,1598.5 L287.5,1595.6 L286.8,1592.7 L286.1,1589.8 L285.4,1586.9 L284.7,1584.0 L284.1,1581.1 L283.4,1578.2 L282.8,1575.3 L282.2,1572.4 L281.6,1569.4 L281.0,1566.5 L280.4,1563.6 L279.9,1560.7 L279.3,1557.7 L278.8,1554.8 L278.3,1551.8 L277.8,1548.9 L277.2,1546.0 L276.8,1543.0 L276.3,1540.1 L275.8,1537.1 L275.3,1534.2 L274.9,1531.2 L274.4,1528.2 L274.0,1525.3 L273.6,1522.3 L273.2,1519.4 L272.7,1516.4 L272.4,1513.4 L272.0,1510.5 L271.6,1507.5 L271.2,1504.5 L270.8,1501.6 L270.5,1498.6 L270.1,1495.6 L269.8,1492.7 L269.4,1489.7 L269.1,1486.7 L268.8,1483.7 L268.4,1480.8 L268.1,1477.8 L267.8,1474.8 L267.5,1471.8 L267.2,1468.9 L266.9,1465.9 L266.6,1462.9 L266.3,1459.9 L266.0,1456.9 L265.8,1454.0 L265.5,1451.0 L265.2,1448.0 L265.0,1445.0 L264.7,1442.0 L264.5,1439.0 L264.2,1436.1 L264.0,1433.1 L263.7,1430.1 L263.5,1427.1 L263.3,1424.1 L263.1,1421.1 L262.8,1418.1 L262.6,1415.2 L262.4,1412.2 L262.2,1409.2 L262.0,1406.2 L261.8,1403.2 L261.6,1400.2 L261.4,1397.2 L261.2,1394.2 L261.0,1391.2 L260.8,1388.2 L260.6,1385.3 L260.4,1382.3 L260.2,1379.3 L260.1,1376.3 L259.9,1373.3 L259.7,1370.3 L259.5,1367.3 L259.4,1364.3 L259.2,1361.3 L259.0,1358.3 L258.9,1355.3 L258.7,1352.3 L258.6,1349.4 L258.4,1346.4 L258.3,1343.4 L258.1,1340.4 L258.0,1337.4 L257.8,1334.4 L257.7,1331.4 L257.5,1328.4 L257.4,1325.4 L257.3,1322.4 L257.1,1319.4 L257.0,1316.4 L256.9,1313.4 L256.7,1310.4 L256.6,1307.4 L256.5,1304.4 L256.4,1301.4 L256.2,1298.4 L256.1,1295.4 L256.0,1292.5 L255.9,1289.5 L255.8,1286.5 L255.7,1283.5 L255.5,1280.5 L255.4,1277.5 L255.3,1274.5 L255.2,1271.5 L255.1,1268.5 L255.0,1265.5 L254.9,1262.5 L254.8,1259.5 L254.7,1256.5 L254.6,1253.5 L254.5,1250.5 L254.4,1247.5 L254.3,1244.5 L254.2,1241.5 L254.1,1238.5 L254.0,1235.5 L253.9,1232.5 L253.8,1229.5 L253.7,1226.5 L253.7,1223.5 L253.6,1220.5 L253.5,1217.5 L253.4,1214.5 L253.3,1211.5 L253.2,1208.5 L253.2,1205.5 L253.1,1202.5 L253.0,1199.5 L252.9,1196.5 L252.8,1193.5 L252.8,1190.6 L252.7,1187.6 L252.6,1184.6 L252.5,1181.6 L252.5,1178.6 L252.4,1175.6 L252.3,1172.6 L252.2,1169.6 L252.2,1166.6 L252.1,1163.6 L252.0,1160.6 L252.0,1157.6 L251.9,1154.6 L251.8,1151.6 L251.8,1148.6 L251.7,1145.6 L251.6,1142.3 L250.8,1139.0Z" fill="#ff0000" stroke="none"/>
<path d="M244.0,918.8 L244.0,921.8 L243.9,924.8 L243.9,927.8 L243.8,930.8 L243.8,933.9 L243.8,936.9 L243.9,939.9 L243.9,942.9 L244.0,945.9 L244.1,948.9 L244.1,951.9 L244.2,954.9 L244.3,957.9 L244.3,960.9 L244.4,963.9 L244.5,966.9 L244.5,969.9 L244.6,972.9 L244.7,975.9 L244.7,978.9 L244.8,981.9 L244.9,984.9 L245.0,987.9 L245.0,990.9 L245.1,993.9 L245.2,996.9 L245.2,999.9 L245.3,1002.9 L245.4,1005.9 L245.5,1008.9 L245.5,1011.9 L245.6,1014.9 L245.7,1017.9 L245.8,1020.9 L245.9,1023.9 L245.9,1026.9 L246.0,1029.9 L246.1,1032.9 L246.2,1035.9 L246.3,1038.9 L246.4,1041.9 L246.4,1044.9 L246.5,1047.9 L246.6,1050.9 L246.7,1053.9 L246.8,1056.9 L246.9,1059.9 L247.0,1062.9 L247.1,1065.9 L247.1,1068.9 L247.2,1071.9 L247.3,1074.9 L247.4,1077.9 L247.5,1080.9 L247.6,1083.9 L247.7,1086.9 L247.8,1089.9 L247.9,1092.9 L248.0,1095.9 L248.1,1098.9 L248.2,1101.9 L248.3,1104.9 L248.4,1107.9 L248.5,1110.9 L248.6,1113.9 L248.7,1116.9 L248.8,1119.9 L249.0,1122.9 L249.1,1125.9 L249.2,1128.9 L249.3,1131.9 L249.4,1134.9 L249.5,1137.9 L249.6,1140.9 L249.8,1143.9 L249.9,1146.9 L250.0,1149.9 L250.1,1152.9 L250.2,1155.9 L250.4,1158.9 L250.5,1161.9 L250.6,1164.9 L250.7,1167.9 L250.9,1170.9 L251.0,1173.9 L251.1,1176.9 L251.3,1179.9 L251.4,1182.9 L251.5,1185.9 L251.7,1188.9 L251.8,1191.9 L252.0,1194.9 L252.1,1197.9 L252.2,1200.9 L252.4,1203.9 L252.5,1206.9 L252.7,1209.9 L252.8,1212.9 L253.0,1215.9 L253.1,1218.9 L253.3,1221.9 L253.5,1224.9 L253.6,1227.9 L253.8,1230.9 L253.9,1233.9 L254.1,1236.9 L254.3,1239.9 L254.4,1242.9 L254.6,1245.9 L254.8,1248.9 L255.0,1251.9 L255.2,1254.9 L255.3,1257.9 L255.5,1260.9 L255.7,1263.9 L255.9,1266.9 L256.1,1269.9 L256.3,1272.8 L256.5,1275.8 L256.7,1278.8 L256.8,1281.8 L257.1,1284.8 L257.3,1287.8 L257.5,1290.8 L257.7,1293.8 L257.9,1296.8 L258.1,1299.8 L258.3,1302.8 L258.5,1305.8 L258.8,1308.8 L259.0,1311.8 L259.2,1314.8 L259.4,1317.8 L259.7,1320.8 L259.9,1323.8 L260.2,1326.8 L260.4,1329.8 L260.7,1332.8 L260.9,1335.7 L261.2,1338.7 L261.4,1341.7 L261.7,1344.7 L262.0,1347.7 L262.2,1350.7 L262.5,1353.7 L262.8,1356.7 L263.1,1359.7 L263.3,1362.7 L263.6,1365.7 L263.9,1368.7 L264.2,1371.6 L264.5,1374.6 L264.8,1377.6 L265.2,1380.6 L265.5,1383.6 L265.8,1386.6 L266.1,1389.6 L266.5,1392.6 L266.8,1395.5 L267.1,1398.5 L267.5,1401.5 L267.8,1404.5 L268.2,1407.5 L268.6,1410.5 L268.9,1413.5 L269.3,1416.4 L269.7,1419.4 L270.1,1422.4 L270.5,1425.4 L270.9,1428.4 L271.3,1431.4 L271.7,1434.3 L272.1,1437.3 L272.5,1440.3 L273.0,1443.3 L273.4,1446.2 L273.9,1449.2 L274.3,1452.2 L274.8,1455.2 L275.3,1458.1 L275.8,1461.1 L276.3,1464.1 L276.8,1467.0 L277.3,1470.0 L277.8,1473.0 L278.3,1475.9 L278.8,1478.9 L279.4,1481.9 L279.9,1484.8 L280.5,1487.8 L281.1,1490.7 L281.7,1493.7 L282.3,1496.6 L282.9,1499.6 L283.5,1502.5 L284.1,1505.5 L284.8,1508.4 L285.4,1511.4 L286.1,1514.3 L286.8,1517.3 L287.5,1520.2 L288.2,1523.1 L288.9,1526.0 L289.6,1529.0 L290.4,1531.9 L291.2,1534.8 L291.9,1537.7 L292.7,1540.6 L293.5,1543.5 L294.4,1546.4 L295.2,1549.3 L296.1,1552.2 L297.0,1555.1 L297.9,1558.0 L298.8,1560.9 L299.7,1563.8 L300.7,1566.6 L301.6,1569.5 L302.6,1572.4 L303.6,1575.2 L304.7,1578.0 L305.7,1580.9 L306.8,1583.7 L307.9,1586.5 L309.0,1589.3 L310.2,1592.1 L311.3,1594.9 L312.5,1597.7 L313.7,1600.5 L315.0,1603.2 L316.2,1606.0 L317.5,1608.7 L318.9,1611.5 L320.2,1614.2 L321.6,1616.9 L323.0,1619.6 L324.4,1622.2 L325.8,1624.9 L327.3,1627.5 L328.8,1630.2 L330.4,1632.8 L331.9,1635.4 L333.5,1638.0 L335.2,1640.5 L336.8,1643.1 L338.5,1645.6 L340.2,1648.1 L342.0,1650.6 L343.8,1653.0 L345.6,1655.5 L347.4,1657.9 L349.3,1660.3 L351.2,1662.6 L353.1,1665.0 L355.1,1667.3 L357.1,1669.6 L359.2,1671.8 L361.2,1674.0 L363.2,1676.2 L365.3,1678.4 L367.4,1680.7 L369.6,1682.8 L371.7,1684.9 L373.9,1687.0 L376.1,1689.1 L378.3,1691.2 L380.5,1693.3 L382.8,1695.3 L385.1,1697.2 L387.4,1699.2 L389.7,1701.2 L392.1,1703.1 L394.5,1704.9 L396.9,1706.7 L399.3,1708.6 L401.7,1710.4 L404.2,1712.2 L406.7,1713.9 L409.2,1715.6 L411.7,1717.3 L414.2,1719.0 L416.8,1720.6 L419.4,1722.2 L421.9,1723.7 L424.5,1725.3 L427.2,1726.9 L429.8,1728.3 L432.4,1729.8 L435.1,1731.3 L437.8,1732.7 L440.5,1734.1 L443.1,1735.4 L445.8,1736.8 L448.6,1738.2 L451.3,1739.5 L454.0,1740.7 L456.7,1742.0 L459.5,1743.3 L462.3,1744.5 L465.0,1745.7 L467.8,1746.9 L470.6,1748.1 L473.4,1749.2 L476.2,1750.3 L479.0,1751.5 L481.8,1752.6 L484.7,1753.6 L487.5,1754.7 L490.3,1755.8 L493.2,1756.8 L496.0,1757.8 L498.8,1758.8 L501.7,1759.8 L504.6,1760.7 L507.4,1761.7 L510.3,1762.6 L513.1,1763.6 L516.0,1764.5 L518.9,1765.3 L521.8,1766.2 L524.7,1767.1 L527.6,1768.0 L530.5,1768.8 L533.3,1769.6 L536.3,1770.5 L539.2,1771.3 L542.1,1772.0 L545.0,1772.8 L547.9,1773.6 L550.8,1774.4 L553.7,1775.1 L556.6,1775.9 L559.6,1776.6 L562.5,1777.3 L565.4,1778.0 L568.3,1778.7 L571.3,1779.4 L574.2,1780.1 L577.1,1780.8 L580.1,1781.4 L583.0,1782.1 L585.9,1782.7 L588.9,1783.4 L591.8,1784.0 L594.8,1784.6 L597.7,1785.3 L600.7,1785.9 L603.6,1786.5 L606.6,1787.1 L609.5,1787.6 L612.5,1788.2 L615.4,1788.8 L618.4,1789.4 L621.3,1789.9 L624.3,1790.5 L627.2,1791.0 L630.2,1791.6 L633.2,1792.1 L636.1,1792.6 L639.1,1793.1 L642.0,1793.7 L645.0,1794.2 L648.0,1794.7 L650.9,1795.2 L653.9,1795.7 L656.9,1796.1 L659.8,1796.6 L662.8,1797.1 L665.8,1797.6 L668.7,1798.0 L671.7,1798.5 L674.7,1799.0 L677.7,1799.4 L680.6,1799.9 L683.6,1800.3 L686.6,1800.7 L689.5,1801.2 L692.5,1801.6 L695.5,1802.0 L698.5,1802.4 L701.4,1802.8 L704.4,1803.3 L707.4,1803.7 L710.4,1804.1 L713.4,1804.5 L716.3,1804.9 L719.3,1805.3 L722.3,1805.6 L725.3,1806.0 L728.3,1806.4 L731.2,1806.8 L734.2,1807.2 L737.2,1807.5 L740.2,1807.9 L743.2,1808.2 L746.1,1808.6 L749.1,1809.0 L752.1,1809.3 L755.1,1809.7 L758.1,1810.0 L761.1,1810.4 L764.0,1810.7 L767.0,1811.0 L770.0,1811.4 L773.0,1811.7 L776.0,1812.0 L779.0,1812.3 L782.0,1812.7 L784.9,1813.0 L787.9,1813.3 L790.9,1813.6 L793.9,1813.9 L796.9,1814.2 L799.9,1814.5 L802.9,1814.9 L805.8,1815.2 L808.8,1815.5 L811.8,1815.7 L814.8,1816.0 L817.8,1816.3 L820.8,1816.6 L823.8,1816.9 L826.8,1817.2 L829.8,1817.5 L832.7,1817.8 L835.7,1818.0 L838.7,1818.3 L841.7,1818.6 L844.7,1818.9 L847.7,1819.1 L850.7,1819.4 L853.7,1819.7 L856.7,1819.9 L859.7,1820.2 L862.7,1820.4 L865.6,1820.7 L868.6,1820.9 L871.6,1821.2 L874.6,1821.5 L877.6,1821.7 L880.6,1821.9 L883.6,1822.2 L886.6,1822.4 L889.6,1822.7 L892.6,1822.9 L895.6,1823.2 L898.6,1823.4 L901.5,1823.6 L904.5,1823.9 L907.5,1824.1 L910.5,1824.3 L913.5,1824.6 L916.5,1824.8 L919.5,1825.0 L922.5,1825.2 L925.5,1825.4 L928.5,1825.7 L931.5,1825.9 L934.5,1826.1 L937.5,1826.3 L940.5,1826.5 L943.5,1826.7 L946.4,1827.0 L949.4,1827.2 L952.4,1827.4 L955.4,1827.6 L958.4,1827.8 L961.4,1828.0 L964.4,1828.2 L967.4,1828.4 L970.4,1828.6 L973.4,1828.8 L976.4,1829.0 L979.4,1829.2 L982.4,1829.4 L985.4,1829.6 L988.4,1829.8 L991.4,1830.0 L994.4,1830.2 L997.4,1830.4 L1000.4,1830.5 L1003.4,1830.7 L1006.3,1830.9 L1009.3,1831.1 L1012.3,1831.3 L1015.3,1831.5 L1018.3,1831.7 L1021.3,1831.8 L1024.3,1832.0 L1027.3,1832.2 L1030.3,1832.4 L1033.3,1832.5 L1036.3,1832.7 L1039.3,1832.9 L1042.3,1833.1 L1045.3,1833.2 L1048.3,1833.4 L1051.3,1833.6 L1054.3,1833.7 L1057.3,1833.9 L1060.3,1834.1 L1063.3,1834.2 L1066.3,1834.4 L1069.3,1834.6 L1072.3,1834.7 L1075.3,1834.9 L1078.3,1835.1 L1081.3,1835.2 L1084.3,1835.4 L1087.2,1835.5 L1090.2,1835.7 L1093.2,1835.9 L1096.2,1836.0 L1099.2,1836.2 L1102.2,1836.3 L1105.2,1836.5 L1108.2,1836.6 L1111.2,1836.8 L1114.2,1836.9 L1117.2,1837.1 L1120.2,1837.2 L1123.2,1837.4 L1126.2,1837.5 L1129.2,1837.7 L1132.2,1837.8 L1135.2,1838.0 L1138.2,1838.1 L1141.2,1838.2 L1144.2,1838.4 L1147.2,1838.5 L1150.2,1838.7 L1153.2,1838.8 L1156.2,1839.0 L1159.2,1839.1 L1162.2,1839.2 L1165.2,1839.4 L1168.2,1839.5 L1171.2,1839.6 L1174.2,1839.8 L1177.2,1839.9 L1180.2,1840.0 L1183.2,1840.2 L1186.2,1840.3 L1189.2,1840.4 L1192.2,1840.6 L1195.2,1840.7 L1198.2,1840.8 L1201.2,1841.0 L1204.2,1841.1 L1207.1,1841.2 L1210.1,1841.4 L1213.1,1841.5 L1216.1,1841.6 L1219.1,1841.7 L1222.1,1841.9 L1225.1,1842.0 L1228.1,1842.1 L1231.1,1842.2 L1234.1,1842.4 L1237.1,1842.5 L1240.1,1842.6 L1243.1,1842.7 L1246.1,1842.8 L1249.1,1843.0 L1252.1,1843.1 L1255.1,1843.2 L1258.1,1843.3 L1261.1,1843.4 L1264.1,1843.5 L1267.1,1843.7 L1270.1,1843.8 L1273.1,1843.9 L1276.1,1844.0 L1279.1,1844.1 L1282.1,1844.2 L1285.1,1844.4 L1288.1,1844.5 L1291.1,1844.6 L1294.1,1844.7 L1297.1,1844.8 L1300.1,1844.9 L1303.1,1845.0 L1306.1,1845.1 L1309.1,1845.2 L1312.1,1845.3 L1315.1,1845.5 L1318.1,1845.6 L1321.1,1845.7 L1324.1,1845.8 L1327.1,1845.9 L1330.1,1846.0 L1333.1,1846.1 L1336.1,1846.2 L1339.1,1846.3 L1342.1,1846.4 L1345.1,1846.5 L1348.1,1846.6 L1351.1,1846.7 L1354.1,1846.8 L1357.1,1846.9 L1360.1,1847.0 L1363.1,1847.1 L1366.1,1847.2 L1369.1,1847.3 L1372.1,1847.4 L1375.1,1847.5 L1378.1,1847.6 L1381.1,1847.7 L1384.1,1847.8 L1387.1,1847.9 L1390.1,1848.0 L1393.1,1848.1 L1396.1,1848.2 L1399.1,1848.3 L1402.1,1848.4 L1405.1,1848.5 L1408.1,1848.6 L1411.1,1848.7 L1414.0,1848.8 L1417.0,1848.9 L1420.0,1849.0 L1423.0,1849.1 L1426.0,1849.2 L1429.0,1849.2 L1432.0,1849.3 L1435.0,1849.4 L1438.0,1849.5 L1441.0,1849.6 L1444.0,1849.7 L1447.0,1849.8 L1450.0,1849.9 L1453.0,1850.0 L1456.0,1850.1 L1459.0,1850.2 L1462.0,1850.2 L1465.0,1850.3 L1468.0,1850.4 L1471.0,1850.5 L1474.0,1850.6 L1477.0,1850.7 L1480.0,1850.8 L1483.0,1850.8 L1486.0,1850.9 L1489.0,1851.0 L1492.0,1851.1 L1495.0,1851.2 L1498.0,1851.3 L1501.0,1851.4 L1504.0,1851.4 L1507.0,1851.5 L1510.0,1851.6 L1513.0,1851.7 L1516.0,1851.8 L1519.0,1851.9 L1522.0,1851.9 L1525.0,1852.0 L1528.0,1852.1 L1531.0,1852.2 L1534.0,1852.3 L1537.0,1852.3 L1540.0,1852.4 L1543.0,1852.5 L1546.0,1852.6 L1549.0,1852.7 L1552.0,1852.7 L1555.0,1852.8 L1558.0,1852.9 L1561.0,1853.0 L1564.0,1853.0 L1567.0,1853.1 L1570.0,1853.2 L1573.0,1853.3 L1576.0,1853.4 L1579.0,1853.4 L1582.0,1853.5 L1585.0,1853.6 L1588.0,1853.7 L1591.0,1853.7 L1594.0,1853.8 L1597.0,1853.9 L1600.0,1854.0 L1603.0,1854.0 L1606.0,1854.1 L1609.0,1854.2 L1612.0,1854.3 L1615.0,1854.3 L1618.0,1854.4 L1621.0,1854.5 L1624.0,1854.5 L1627.0,1854.6 L1630.0,1854.7 L1633.0,1854.8 L1636.0,1854.8 L1639.0,1854.9 L1642.0,1855.0 L1645.0,1855.0 L1648.0,1855.1 L1651.0,1855.2 L1654.0,1855.3 L1657.0,1855.3 L1660.0,1855.4 L1663.0,1855.5 L1666.0,1855.5 L1669.0,1855.6 L1672.0,1855.7 L1675.0,1855.7 L1678.0,1855.8 L1681.0,1855.9 L1684.0,1855.9 L1687.0,1856.0 L1690.0,1856.1 L1693.0,1856.1 L1696.0,1856.2 L1699.0,1856.3 L1702.0,1856.3 L1705.0,1856.4 L1708.0,1856.5 L1711.0,1856.5 L1714.0,1856.6 L1717.0,1856.7 L1720.0,1856.7 L1723.0,1856.8 L1726.0,1856.9 L1729.0,1856.9 L1732.0,1857.0 L1735.0,1857.1 L1738.0,1857.1 L1741.0,1857.2 L1744.0,1857.2 L1747.0,1857.3 L1750.0,1857.4 L1753.0,1857.4 L1756.0,1857.5 L1759.0,1857.6 L1762.0,1857.6 L1765.0,1857.7 L1768.0,1857.7 L1771.0,1857.8 L1774.0,1857.9 L1777.0,1857.9 L1780.0,1858.0 L1783.0,1858.1 L1786.0,1858.1 L1789.0,1858.2 L1792.0,1858.2 L1795.0,1858.3 L1798.0,1858.4 L1801.0,1858.4 L1804.0,1858.5 L1807.0,1858.5 L1810.0,1858.6 L1813.0,1858.6 L1816.0,1858.7 L1819.0,1858.8 L1822.0,1858.8 L1825.0,1858.9 L1828.0,1858.9 L1831.0,1859.0 L1834.0,1859.1 L1837.0,1859.1 L1840.0,1859.2 L1843.0,1859.2 L1846.0,1859.3 L1849.0,1859.3 L1852.0,1859.4 L1855.0,1859.5 L1858.0,1859.5 L1861.0,1859.6 L1864.0,1859.6 L1867.0,1859.7 L1870.0,1859.7 L1873.0,1859.8 L1876.0,1859.8 L1879.0,1859.9 L1882.0,1860.0 L1885.0,1860.0 L1888.0,1860.1 L1891.0,1860.1 L1894.0,1860.2 L1897.0,1860.2 L1900.0,1860.3 L1903.0,1860.3 L1906.0,1860.4 L1909.0,1860.4 L1912.0,1860.5 L1915.0,1860.6 L1918.0,1860.6 L1921.0,1860.7 L1921.7,1860.7 L1921.8,1853.7 L1921.1,1853.7 L1918.1,1853.6 L1915.1,1853.6 L1912.1,1853.5 L1909.1,1853.4 L1906.1,1853.4 L1903.1,1853.3 L1900.1,1853.3 L1897.1,1853.2 L1894.1,1853.2 L1891.1,1853.1 L1888.1,1853.1 L1885.1,1853.0 L1882.1,1853.0 L1879.1,1852.9 L1876.1,1852.8 L1873.1,1852.8 L1870.1,1852.7 L1867.1,1852.7 L1864.1,1852.6 L1861.1,1852.6 L1858.1,1852.5 L1855.1,1852.5 L1852.1,1852.4 L1849.1,1852.3 L1846.1,1852.3 L1843.1,1852.2 L1840.1,1852.2 L1837.1,1852.1 L1834.1,1852.1 L1831.1,1852.0 L1828.1,1851.9 L1825.1,1851.9 L1822.1,1851.8 L1819.1,1851.8 L1816.1,1851.7 L1813.1,1851.7 L1810.1,1851.6 L1807.1,1851.5 L1804.1,1851.5 L1801.1,1851.4 L1798.1,1851.4 L1795.1,1851.3 L1792.1,1851.2 L1789.1,1851.2 L1786.1,1851.1 L1783.1,1851.1 L1780.1,1851.0 L1777.1,1850.9 L1774.1,1850.9 L1771.1,1850.8 L1768.1,1850.7 L1765.1,1850.7 L1762.1,1850.6 L1759.1,1850.6 L1756.1,1850.5 L1753.1,1850.4 L1750.1,1850.4 L1747.1,1850.3 L1744.1,1850.3 L1741.1,1850.2 L1738.1,1850.1 L1735.1,1850.1 L1732.1,1850.0 L1729.1,1849.9 L1726.1,1849.9 L1723.1,1849.8 L1720.1,1849.7 L1717.1,1849.7 L1714.1,1849.6 L1711.1,1849.5 L1708.1,1849.5 L1705.1,1849.4 L1702.1,1849.3 L1699.1,1849.3 L1696.1,1849.2 L1693.1,1849.1 L1690.1,1849.1 L1687.1,1849.0 L1684.1,1848.9 L1681.1,1848.9 L1678.1,1848.8 L1675.1,1848.7 L1672.1,1848.7 L1669.1,1848.6 L1666.1,1848.5 L1663.1,1848.5 L1660.2,1848.4 L1657.2,1848.3 L1654.2,1848.3 L1651.2,1848.2 L1648.2,1848.1 L1645.2,1848.0 L1642.2,1848.0 L1639.2,1847.9 L1636.2,1847.8 L1633.2,1847.8 L1630.2,1847.7 L1627.2,1847.6 L1624.2,1847.5 L1621.2,1847.5 L1618.2,1847.4 L1615.2,1847.3 L1612.2,1847.3 L1609.2,1847.2 L1606.2,1847.1 L1603.2,1847.0 L1600.2,1847.0 L1597.2,1846.9 L1594.2,1846.8 L1591.2,1846.7 L1588.2,1846.7 L1585.2,1846.6 L1582.2,1846.5 L1579.2,1846.4 L1576.2,1846.4 L1573.2,1846.3 L1570.2,1846.2 L1567.2,1846.1 L1564.2,1846.1 L1561.2,1846.0 L1558.2,1845.9 L1555.2,1845.8 L1552.2,1845.7 L1549.2,1845.7 L1546.2,1845.6 L1543.2,1845.5 L1540.2,1845.4 L1537.2,1845.3 L1534.2,1845.3 L1531.2,1845.2 L1528.2,1845.1 L1525.2,1845.0 L1522.2,1844.9 L1519.2,1844.9 L1516.2,1844.8 L1513.2,1844.7 L1510.2,1844.6 L1507.2,1844.5 L1504.2,1844.4 L1501.2,1844.4 L1498.2,1844.3 L1495.2,1844.2 L1492.2,1844.1 L1489.2,1844.0 L1486.2,1843.9 L1483.2,1843.9 L1480.2,1843.8 L1477.2,1843.7 L1474.2,1843.6 L1471.2,1843.5 L1468.2,1843.4 L1465.2,1843.3 L1462.2,1843.2 L1459.2,1843.2 L1456.2,1843.1 L1453.2,1843.0 L1450.2,1842.9 L1447.2,1842.8 L1444.2,1842.7 L1441.3,1842.6 L1438.3,1842.5 L1435.3,1842.4 L1432.3,1842.3 L1429.3,1842.3 L1426.3,1842.2 L1423.3,1842.1 L1420.3,1842.0 L1417.3,1841.9 L1414.3,1841.8 L1411.3,1841.7 L1408.3,1841.6 L1405.3,1841.5 L1402.3,1841.4 L1399.3,1841.3 L1396.3,1841.2 L1393.3,1841.1 L1390.3,1841.0 L1387.3,1840.9 L1384.3,1840.8 L1381.3,1840.7 L1378.3,1840.6 L1375.3,1840.5 L1372.3,1840.4 L1369.3,1840.3 L1366.3,1840.2 L1363.3,1840.1 L1360.3,1840.0 L1357.3,1839.9 L1354.3,1839.8 L1351.3,1839.7 L1348.3,1839.6 L1345.3,1839.5 L1342.3,1839.4 L1339.3,1839.3 L1336.3,1839.2 L1333.3,1839.1 L1330.3,1839.0 L1327.3,1838.9 L1324.3,1838.8 L1321.3,1838.7 L1318.3,1838.6 L1315.3,1838.5 L1312.3,1838.4 L1309.3,1838.3 L1306.3,1838.1 L1303.4,1838.0 L1300.4,1837.9 L1297.4,1837.8 L1294.4,1837.7 L1291.4,1837.6 L1288.4,1837.5 L1285.4,1837.4 L1282.4,1837.2 L1279.4,1837.1 L1276.4,1837.0 L1273.4,1836.9 L1270.4,1836.8 L1267.4,1836.7 L1264.4,1836.6 L1261.4,1836.4 L1258.4,1836.3 L1255.4,1836.2 L1252.4,1836.1 L1249.4,1836.0 L1246.4,1835.8 L1243.4,1835.7 L1240.4,1835.6 L1237.4,1835.5 L1234.4,1835.4 L1231.4,1835.2 L1228.4,1835.1 L1225.4,1835.0 L1222.4,1834.9 L1219.4,1834.7 L1216.4,1834.6 L1213.4,1834.5 L1210.4,1834.4 L1207.4,1834.2 L1204.5,1834.1 L1201.5,1834.0 L1198.5,1833.9 L1195.5,1833.7 L1192.5,1833.6 L1189.5,1833.5 L1186.5,1833.3 L1183.5,1833.2 L1180.5,1833.1 L1177.5,1832.9 L1174.5,1832.8 L1171.5,1832.7 L1168.5,1832.5 L1165.5,1832.4 L1162.5,1832.2 L1159.5,1832.1 L1156.5,1832.0 L1153.5,1831.8 L1150.5,1831.7 L1147.5,1831.5 L1144.5,1831.4 L1141.5,1831.3 L1138.5,1831.1 L1135.5,1831.0 L1132.5,1830.8 L1129.5,1830.7 L1126.6,1830.5 L1123.6,1830.4 L1120.6,1830.2 L1117.6,1830.1 L1114.6,1829.9 L1111.6,1829.8 L1108.6,1829.6 L1105.6,1829.5 L1102.6,1829.3 L1099.6,1829.2 L1096.6,1829.0 L1093.6,1828.9 L1090.6,1828.7 L1087.6,1828.6 L1084.6,1828.4 L1081.6,1828.2 L1078.6,1828.1 L1075.6,1827.9 L1072.6,1827.8 L1069.6,1827.6 L1066.7,1827.4 L1063.7,1827.3 L1060.7,1827.1 L1057.7,1826.9 L1054.7,1826.8 L1051.7,1826.6 L1048.7,1826.4 L1045.7,1826.3 L1042.7,1826.1 L1039.7,1825.9 L1036.7,1825.7 L1033.7,1825.6 L1030.7,1825.4 L1027.7,1825.2 L1024.7,1825.0 L1021.7,1824.9 L1018.8,1824.7 L1015.8,1824.5 L1012.8,1824.3 L1009.8,1824.1 L1006.8,1823.9 L1003.8,1823.8 L1000.8,1823.6 L997.8,1823.4 L994.8,1823.2 L991.8,1823.0 L988.8,1822.8 L985.8,1822.6 L982.8,1822.4 L979.8,1822.2 L976.9,1822.0 L973.9,1821.8 L970.9,1821.6 L967.9,1821.4 L964.9,1821.2 L961.9,1821.0 L958.9,1820.8 L955.9,1820.6 L952.9,1820.4 L949.9,1820.2 L946.9,1820.0 L943.9,1819.8 L941.0,1819.6 L938.0,1819.4 L935.0,1819.1 L932.0,1818.9 L929.0,1818.7 L926.0,1818.5 L923.0,1818.3 L920.0,1818.0 L917.0,1817.8 L914.0,1817.6 L911.1,1817.4 L908.1,1817.1 L905.1,1816.9 L902.1,1816.7 L899.1,1816.4 L896.1,1816.2 L893.1,1816.0 L890.1,1815.7 L887.1,1815.5 L884.2,1815.2 L881.2,1815.0 L878.2,1814.7 L875.2,1814.5 L872.2,1814.3 L869.2,1814.0 L866.2,1813.7 L863.2,1813.5 L860.3,1813.2 L857.3,1813.0 L854.3,1812.7 L851.3,1812.4 L848.3,1812.2 L845.3,1811.9 L842.3,1811.6 L839.4,1811.4 L836.4,1811.1 L833.4,1810.8 L830.4,1810.5 L827.4,1810.3 L824.4,1810.0 L821.5,1809.7 L818.5,1809.4 L815.5,1809.1 L812.5,1808.8 L809.5,1808.5 L806.5,1808.2 L803.6,1807.9 L800.6,1807.6 L797.6,1807.3 L794.6,1807.0 L791.6,1806.7 L788.7,1806.4 L785.7,1806.1 L782.7,1805.8 L779.7,1805.4 L776.7,1805.1 L773.8,1804.8 L770.8,1804.5 L767.8,1804.1 L764.8,1803.8 L761.8,1803.4 L758.9,1803.1 L755.9,1802.8 L752.9,1802.4 L749.9,1802.1 L747.0,1801.7 L744.0,1801.3 L741.0,1801.0 L738.0,1800.6 L735.1,1800.3 L732.1,1799.9 L729.1,1799.5 L726.2,1799.1 L723.2,1798.8 L720.2,1798.4 L717.2,1798.0 L714.3,1797.6 L711.3,1797.2 L708.3,1796.8 L705.4,1796.4 L702.4,1796.0 L699.4,1795.6 L696.5,1795.1 L693.5,1794.7 L690.5,1794.3 L687.6,1793.9 L684.6,1793.4 L681.6,1793.0 L678.7,1792.6 L675.7,1792.1 L672.8,1791.7 L669.8,1791.2 L666.8,1790.7 L663.9,1790.3 L660.9,1789.8 L658.0,1789.3 L655.0,1788.8 L652.1,1788.3 L649.1,1787.9 L646.2,1787.4 L643.2,1786.9 L640.3,1786.3 L637.3,1785.8 L634.4,1785.3 L631.4,1784.8 L628.5,1784.2 L625.5,1783.7 L622.6,1783.2 L619.6,1782.6 L616.7,1782.1 L613.8,1781.5 L610.8,1780.9 L607.9,1780.3 L605.0,1779.8 L602.0,1779.1 L599.1,1778.5 L596.2,1777.9 L593.3,1777.3 L590.3,1776.7 L587.4,1776.1 L584.5,1775.4 L581.6,1774.8 L578.7,1774.1 L575.7,1773.4 L572.8,1772.8 L569.9,1772.1 L567.0,1771.4 L564.1,1770.7 L561.2,1770.0 L558.3,1769.3 L555.4,1768.5 L552.5,1767.8 L549.6,1767.1 L546.7,1766.3 L543.8,1765.5 L540.9,1764.7 L538.1,1764.0 L535.2,1763.1 L532.3,1762.3 L529.4,1761.5 L526.6,1760.7 L523.7,1759.8 L520.9,1758.9 L518.0,1758.1 L515.2,1757.2 L512.3,1756.3 L509.5,1755.4 L506.6,1754.4 L503.8,1753.5 L501.0,1752.5 L498.2,1751.5 L495.3,1750.6 L492.6,1749.6 L489.8,1748.6 L487.0,1747.5 L484.2,1746.5 L481.4,1745.4 L478.6,1744.3 L475.8,1743.2 L473.1,1742.1 L470.3,1741.0 L467.6,1739.8 L464.8,1738.6 L462.1,1737.4 L459.4,1736.3 L456.7,1735.0 L454.0,1733.7 L451.3,1732.5 L448.6,1731.2 L446.0,1729.9 L443.3,1728.5 L440.6,1727.2 L438.0,1725.8 L435.4,1724.4 L432.8,1723.0 L430.2,1721.5 L427.6,1720.1 L425.0,1718.6 L422.5,1717.1 L419.9,1715.5 L417.4,1714.0 L414.9,1712.4 L412.4,1710.8 L409.9,1709.1 L407.5,1707.4 L405.0,1705.8 L402.6,1704.1 L400.2,1702.3 L397.8,1700.5 L395.5,1698.7 L393.1,1697.0 L390.8,1695.1 L388.5,1693.1 L386.3,1691.2 L384.0,1689.3 L381.7,1687.4 L379.6,1685.4 L377.4,1683.3 L375.2,1681.3 L373.1,1679.2 L371.0,1677.2 L369.1,1675.0 L367.0,1672.8 L365.0,1670.5 L363.0,1668.3 L361.0,1666.1 L359.1,1663.9 L357.3,1661.6 L355.5,1659.2 L353.6,1656.9 L351.9,1654.5 L350.1,1652.1 L348.4,1649.7 L346.7,1647.3 L345.0,1644.8 L343.4,1642.4 L341.8,1639.9 L340.2,1637.4 L338.6,1634.8 L337.1,1632.3 L335.6,1629.7 L334.1,1627.2 L332.7,1624.6 L331.2,1622.0 L329.8,1619.3 L328.5,1616.7 L327.1,1614.1 L325.8,1611.4 L324.5,1608.7 L323.3,1606.0 L322.0,1603.3 L320.8,1600.6 L319.6,1597.9 L318.4,1595.2 L317.3,1592.4 L316.2,1589.7 L315.1,1586.9 L314.0,1584.1 L312.9,1581.4 L311.9,1578.6 L310.8,1575.8 L309.8,1573.0 L308.9,1570.2 L307.9,1567.4 L307.0,1564.5 L306.0,1561.7 L305.1,1558.9 L304.2,1556.0 L303.4,1553.2 L302.5,1550.3 L301.7,1547.5 L300.8,1544.6 L300.0,1541.7 L299.2,1538.8 L298.5,1536.0 L297.7,1533.1 L297.0,1530.2 L296.2,1527.3 L295.5,1524.4 L294.8,1521.5 L294.1,1518.6 L293.4,1515.7 L292.7,1512.8 L292.1,1509.9 L291.5,1507.0 L290.8,1504.0 L290.2,1501.1 L289.6,1498.2 L289.0,1495.3 L288.4,1492.3 L287.8,1489.4 L287.3,1486.5 L286.7,1483.5 L286.2,1480.6 L285.6,1477.7 L285.1,1474.7 L284.6,1471.8 L284.1,1468.8 L283.6,1465.9 L283.1,1462.9 L282.6,1460.0 L282.1,1457.0 L281.6,1454.1 L281.2,1451.1 L280.7,1448.2 L280.3,1445.2 L279.8,1442.3 L279.4,1439.3 L279.0,1436.3 L278.6,1433.4 L278.2,1430.4 L277.8,1427.4 L277.4,1424.5 L277.0,1421.5 L276.6,1418.5 L276.2,1415.6 L275.8,1412.6 L275.5,1409.6 L275.1,1406.7 L274.7,1403.7 L274.4,1400.7 L274.0,1397.7 L273.7,1394.8 L273.4,1391.8 L273.0,1388.8 L272.7,1385.8 L272.4,1382.9 L272.1,1379.9 L271.8,1376.9 L271.5,1373.9 L271.2,1370.9 L270.9,1368.0 L270.6,1365.0 L270.3,1362.0 L270.0,1359.0 L269.7,1356.0 L269.4,1353.1 L269.2,1350.1 L268.9,1347.1 L268.6,1344.1 L268.4,1341.1 L268.1,1338.1 L267.9,1335.2 L267.6,1332.2 L267.4,1329.2 L267.1,1326.2 L266.9,1323.2 L266.6,1320.2 L266.4,1317.2 L266.2,1314.2 L265.9,1311.3 L265.7,1308.3 L265.5,1305.3 L265.3,1302.3 L265.1,1299.3 L264.8,1296.3 L264.6,1293.3 L264.4,1290.3 L264.2,1287.3 L264.0,1284.4 L263.8,1281.4 L263.6,1278.4 L263.4,1275.4 L263.2,1272.4 L263.0,1269.4 L262.8,1266.4 L262.7,1263.4 L262.5,1260.4 L262.3,1257.4 L262.1,1254.4 L261.9,1251.5 L261.8,1248.5 L261.6,1245.5 L261.4,1242.5 L261.3,1239.5 L261.1,1236.5 L260.9,1233.5 L260.8,1230.5 L260.6,1227.5 L260.4,1224.5 L260.3,1221.5 L260.1,1218.5 L260.0,1215.5 L259.8,1212.5 L259.7,1209.5 L259.5,1206.6 L259.4,1203.6 L259.2,1200.6 L259.1,1197.6 L258.9,1194.6 L258.8,1191.6 L258.7,1188.6 L258.5,1185.6 L258.4,1182.6 L258.3,1179.6 L258.1,1176.6 L258.0,1173.6 L257.9,1170.6 L257.7,1167.6 L257.6,1164.6 L257.5,1161.6 L257.3,1158.6 L257.2,1155.6 L257.1,1152.6 L257.0,1149.6 L256.9,1146.6 L256.7,1143.7 L256.6,1140.7 L256.5,1137.7 L256.4,1134.7 L256.3,1131.7 L256.2,1128.7 L256.1,1125.7 L255.9,1122.7 L255.8,1119.7 L255.7,1116.7 L255.6,1113.7 L255.5,1110.7 L255.4,1107.7 L255.3,1104.7 L255.2,1101.7 L255.1,1098.7 L255.0,1095.7 L254.9,1092.7 L254.8,1089.7 L254.7,1086.7 L254.6,1083.7 L254.5,1080.7 L254.4,1077.7 L254.3,1074.7 L254.2,1071.7 L254.1,1068.7 L254.1,1065.7 L254.0,1062.7 L253.9,1059.7 L253.8,1056.7 L253.7,1053.7 L253.6,1050.7 L253.5,1047.7 L253.4,1044.7 L253.3,1041.7 L253.3,1038.7 L253.2,1035.8 L253.1,1032.8 L253.0,1029.8 L252.9,1026.8 L252.9,1023.8 L252.8,1020.8 L252.7,1017.8 L252.6,1014.8 L252.5,1011.8 L252.5,1008.8 L252.4,1005.8 L252.3,1002.8 L252.2,999.8 L252.2,996.8 L252.1,993.8 L252.0,990.8 L251.9,987.8 L251.9,984.8 L251.8,981.8 L251.7,978.8 L251.7,975.8 L251.6,972.8 L251.5,969.8 L251.5,966.8 L251.4,963.8 L251.3,960.8 L251.3,957.8 L251.2,954.8 L251.1,951.8 L251.1,948.8 L251.0,945.8 L250.9,942.8 L250.9,939.8 L250.8,936.8 L250.8,933.9 L250.8,930.9 L250.9,927.9 L250.9,924.9 L251.0,921.9 L251.0,918.9Z" fill="#000000" stroke="none"/>
<path d="M244.0,673.4 L244.0,676.4 L243.9,679.4 L243.9,682.4 L243.8,685.4 L243.8,688.5 L243.8,691.5 L243.9,694.6 L243.9,697.6 L244.0,700.6 L244.0,703.6 L244.1,706.6 L244.2,709.6 L244.2,712.6 L244.3,715.6 L244.4,718.6 L244.4,721.6 L244.5,724.6 L244.6,727.6 L244.6,730.6 L244.7,733.6 L244.8,736.6 L244.8,739.6 L244.9,742.6 L245.0,745.6 L245.0,748.6 L245.1,751.6 L245.2,754.6 L245.2,757.6 L245.3,760.6 L245.4,763.6 L245.5,766.6 L245.5,769.6 L245.6,772.6 L245.7,775.6 L245.7,778.6 L245.8,781.6 L245.9,784.6 L246.0,787.6 L246.0,790.6 L246.1,793.5 L246.2,796.5 L246.3,799.5 L246.4,802.5 L246.4,805.5 L246.5,808.5 L246.6,811.5 L246.7,814.5 L246.8,817.5 L246.8,820.5 L246.9,823.5 L247.0,826.5 L247.1,829.5 L247.2,832.5 L247.2,835.5 L247.3,838.5 L247.4,841.5 L247.5,844.5 L247.6,847.5 L247.7,850.5 L247.8,853.5 L247.9,856.5 L247.9,859.5 L248.0,862.5 L248.1,865.5 L248.2,868.5 L248.3,871.5 L248.4,874.5 L248.5,877.5 L248.6,880.5 L248.7,883.5 L248.8,886.5 L248.9,889.5 L249.0,892.5 L249.1,895.5 L249.2,898.5 L249.3,901.5 L249.4,904.5 L249.5,907.5 L249.6,910.5 L249.7,913.5 L249.8,916.5 L249.9,919.5 L250.0,922.5 L250.1,925.5 L250.2,928.5 L250.3,931.5 L250.4,934.5 L250.5,937.5 L250.6,940.5 L250.7,943.5 L250.8,946.5 L250.9,949.5 L251.0,952.5 L251.2,955.5 L251.3,958.5 L251.4,961.5 L251.5,964.5 L251.6,967.5 L251.7,970.5 L251.9,973.5 L252.0,976.5 L252.1,979.5 L252.2,982.5 L252.3,985.5 L252.5,988.5 L252.6,991.5 L252.7,994.5 L252.8,997.5 L253.0,1000.5 L253.1,1003.5 L253.2,1006.5 L253.4,1009.5 L253.5,1012.5 L253.6,1015.5 L253.8,1018.5 L253.9,1021.5 L254.0,1024.5 L254.2,1027.5 L254.3,1030.5 L254.4,1033.5 L254.6,1036.5 L254.7,1039.5 L254.9,1042.5 L255.0,1045.5 L255.2,1048.5 L255.3,1051.5 L255.5,1054.5 L255.6,1057.5 L255.8,1060.5 L255.9,1063.5 L256.1,1066.5 L256.2,1069.5 L256.4,1072.4 L256.5,1075.4 L256.7,1078.4 L256.9,1081.4 L257.0,1084.4 L257.2,1087.4 L257.4,1090.4 L257.5,1093.4 L257.7,1096.4 L257.9,1099.4 L258.0,1102.4 L258.2,1105.4 L258.4,1108.4 L258.6,1111.4 L258.7,1114.4 L258.9,1117.4 L259.1,1120.4 L259.3,1123.4 L259.5,1126.4 L259.7,1129.4 L259.8,1132.4 L260.0,1135.4 L260.2,1138.4 L260.4,1141.4 L260.6,1144.4 L260.8,1147.4 L261.0,1150.4 L261.2,1153.4 L261.4,1156.4 L261.6,1159.4 L261.8,1162.3 L262.1,1165.3 L262.3,1168.3 L262.5,1171.3 L262.7,1174.3 L262.9,1177.3 L263.1,1180.3 L263.4,1183.3 L263.6,1186.3 L263.8,1189.3 L264.1,1192.3 L264.3,1195.3 L264.5,1198.3 L264.8,1201.3 L265.0,1204.3 L265.2,1207.3 L265.5,1210.2 L265.7,1213.2 L266.0,1216.2 L266.3,1219.2 L266.5,1222.2 L266.8,1225.2 L267.0,1228.2 L267.3,1231.2 L267.6,1234.2 L267.8,1237.2 L268.1,1240.2 L268.4,1243.2 L268.7,1246.1 L269.0,1249.1 L269.3,1252.1 L269.5,1255.1 L269.8,1258.1 L270.1,1261.1 L270.4,1264.1 L270.8,1267.1 L271.1,1270.1 L271.4,1273.0 L271.7,1276.0 L272.0,1279.0 L272.3,1282.0 L272.7,1285.0 L273.0,1288.0 L273.3,1291.0 L273.7,1294.0 L274.0,1296.9 L274.4,1299.9 L274.7,1302.9 L275.1,1305.9 L275.5,1308.9 L275.8,1311.9 L276.2,1314.8 L276.6,1317.8 L276.9,1320.8 L277.3,1323.8 L277.7,1326.8 L278.1,1329.7 L278.5,1332.7 L278.9,1335.7 L279.3,1338.7 L279.8,1341.7 L280.2,1344.6 L280.6,1347.6 L281.1,1350.6 L281.5,1353.6 L282.0,1356.5 L282.4,1359.5 L282.9,1362.5 L283.3,1365.4 L283.8,1368.4 L284.3,1371.4 L284.8,1374.4 L285.3,1377.3 L285.8,1380.3 L286.3,1383.3 L286.8,1386.2 L287.3,1389.2 L287.8,1392.1 L288.4,1395.1 L288.9,1398.1 L289.5,1401.0 L290.0,1404.0 L290.6,1406.9 L291.2,1409.9 L291.8,1412.8 L292.4,1415.8 L293.0,1418.7 L293.6,1421.7 L294.2,1424.6 L294.8,1427.6 L295.5,1430.5 L296.1,1433.5 L296.8,1436.4 L297.5,1439.3 L298.2,1442.3 L298.9,1445.2 L299.6,1448.1 L300.3,1451.0 L301.0,1454.0 L301.8,1456.9 L302.5,1459.8 L303.3,1462.7 L304.0,1465.6 L304.8,1468.5 L305.6,1471.5 L306.5,1474.4 L307.3,1477.3 L308.1,1480.2 L309.0,1483.0 L309.9,1485.9 L310.7,1488.8 L311.7,1491.7 L312.6,1494.6 L313.5,1497.4 L314.4,1500.3 L315.4,1503.2 L316.4,1506.0 L317.4,1508.9 L318.4,1511.7 L319.4,1514.6 L320.5,1517.4 L321.5,1520.2 L322.6,1523.0 L323.7,1525.8 L324.9,1528.6 L326.0,1531.4 L327.2,1534.2 L328.3,1537.0 L329.5,1539.8 L330.8,1542.6 L332.0,1545.3 L333.3,1548.1 L334.5,1550.8 L335.9,1553.5 L337.2,1556.2 L338.5,1559.0 L339.9,1561.6 L341.3,1564.3 L342.7,1567.0 L344.2,1569.7 L345.6,1572.3 L347.1,1574.9 L348.7,1577.6 L350.2,1580.2 L351.8,1582.8 L353.3,1585.3 L355.0,1587.9 L356.7,1590.5 L358.4,1593.0 L360.1,1595.4 L361.8,1597.9 L363.5,1600.4 L365.2,1602.9 L367.0,1605.4 L368.9,1607.8 L370.8,1610.1 L372.6,1612.5 L374.5,1614.9 L376.3,1617.2 L378.3,1619.6 L380.3,1621.9 L382.3,1624.1 L384.3,1626.4 L386.3,1628.6 L388.3,1630.9 L390.5,1633.1 L392.7,1635.2 L394.8,1637.3 L396.9,1639.5 L399.0,1641.6 L401.2,1643.8 L403.4,1645.9 L405.6,1647.9 L407.9,1649.9 L410.1,1651.9 L412.4,1654.0 L414.7,1656.0 L417.0,1657.9 L419.4,1659.7 L421.7,1661.6 L424.1,1663.6 L426.5,1665.4 L428.9,1667.2 L431.4,1669.0 L433.8,1670.8 L436.3,1672.6 L438.8,1674.3 L441.3,1675.9 L443.8,1677.6 L446.3,1679.3 L448.9,1680.9 L451.4,1682.5 L454.0,1684.1 L456.6,1685.7 L459.2,1687.2 L461.8,1688.7 L464.5,1690.2 L467.1,1691.7 L469.7,1693.2 L472.4,1694.6 L475.1,1696.0 L477.8,1697.4 L480.5,1698.8 L483.2,1700.1 L485.9,1701.4 L488.6,1702.7 L491.3,1704.0 L494.1,1705.3 L496.8,1706.5 L499.6,1707.8 L502.3,1709.0 L505.1,1710.2 L507.9,1711.4 L510.7,1712.5 L513.5,1713.7 L516.3,1714.8 L519.1,1715.9 L521.9,1717.0 L524.7,1718.1 L527.5,1719.2 L530.4,1720.2 L533.2,1721.3 L536.0,1722.3 L538.9,1723.3 L541.7,1724.3 L544.6,1725.3 L547.4,1726.3 L550.3,1727.2 L553.2,1728.1 L556.0,1729.1 L558.9,1730.0 L561.8,1730.9 L564.6,1731.8 L567.5,1732.6 L570.4,1733.5 L573.3,1734.4 L576.2,1735.2 L579.1,1736.0 L582.0,1736.9 L584.9,1737.7 L587.8,1738.5 L590.7,1739.3 L593.6,1740.1 L596.5,1740.8 L599.4,1741.6 L602.3,1742.3 L605.3,1743.1 L608.2,1743.8 L611.1,1744.5 L614.0,1745.3 L617.0,1746.0 L619.9,1746.6 L622.8,1747.3 L625.7,1748.0 L628.7,1748.7 L631.6,1749.4 L634.5,1750.0 L637.5,1750.7 L640.4,1751.3 L643.4,1751.9 L646.3,1752.6 L649.3,1753.2 L652.2,1753.8 L655.1,1754.4 L658.1,1755.0 L661.0,1755.6 L664.0,1756.2 L666.9,1756.8 L669.9,1757.3 L672.9,1757.9 L675.8,1758.5 L678.8,1759.0 L681.7,1759.6 L684.7,1760.1 L687.6,1760.6 L690.6,1761.2 L693.6,1761.7 L696.5,1762.2 L699.5,1762.7 L702.4,1763.2 L705.4,1763.7 L708.4,1764.2 L711.3,1764.7 L714.3,1765.2 L717.3,1765.7 L720.2,1766.2 L723.2,1766.6 L726.2,1767.1 L729.1,1767.6 L732.1,1768.0 L735.1,1768.5 L738.1,1768.9 L741.0,1769.4 L744.0,1769.8 L747.0,1770.3 L749.9,1770.7 L752.9,1771.1 L755.9,1771.5 L758.9,1772.0 L761.8,1772.4 L764.8,1772.8 L767.8,1773.2 L770.8,1773.6 L773.8,1774.0 L776.7,1774.4 L779.7,1774.8 L782.7,1775.2 L785.7,1775.6 L788.6,1776.0 L791.6,1776.4 L794.6,1776.7 L797.6,1777.1 L800.6,1777.5 L803.5,1777.8 L806.5,1778.2 L809.5,1778.6 L812.5,1778.9 L815.5,1779.3 L818.5,1779.6 L821.4,1780.0 L824.4,1780.3 L827.4,1780.7 L830.4,1781.0 L833.4,1781.3 L836.4,1781.7 L839.3,1782.0 L842.3,1782.3 L845.3,1782.7 L848.3,1783.0 L851.3,1783.3 L854.3,1783.6 L857.3,1783.9 L860.2,1784.3 L863.2,1784.6 L866.2,1784.9 L869.2,1785.2 L872.2,1785.5 L875.2,1785.8 L878.2,1786.1 L881.2,1786.4 L884.1,1786.7 L887.1,1787.0 L890.1,1787.3 L893.1,1787.5 L896.1,1787.8 L899.1,1788.1 L902.1,1788.4 L905.1,1788.7 L908.1,1788.9 L911.0,1789.2 L914.0,1789.5 L917.0,1789.8 L920.0,1790.0 L923.0,1790.3 L926.0,1790.6 L929.0,1790.8 L932.0,1791.1 L935.0,1791.3 L938.0,1791.6 L941.0,1791.9 L943.9,1792.1 L946.9,1792.4 L949.9,1792.6 L952.9,1792.9 L955.9,1793.1 L958.9,1793.4 L961.9,1793.6 L964.9,1793.8 L967.9,1794.1 L970.9,1794.3 L973.9,1794.6 L976.9,1794.8 L979.8,1795.0 L982.8,1795.3 L985.8,1795.5 L988.8,1795.7 L991.8,1795.9 L994.8,1796.2 L997.8,1796.4 L1000.8,1796.6 L1003.8,1796.8 L1006.8,1797.1 L1009.8,1797.3 L1012.8,1797.5 L1015.8,1797.7 L1018.8,1797.9 L1021.8,1798.1 L1024.7,1798.3 L1027.7,1798.6 L1030.7,1798.8 L1033.7,1799.0 L1036.7,1799.2 L1039.7,1799.4 L1042.7,1799.6 L1045.7,1799.8 L1048.7,1800.0 L1051.7,1800.2 L1054.7,1800.4 L1057.7,1800.6 L1060.7,1800.8 L1063.7,1801.0 L1066.7,1801.2 L1069.7,1801.4 L1072.7,1801.5 L1075.7,1801.7 L1078.7,1801.9 L1081.7,1802.1 L1084.6,1802.3 L1087.6,1802.5 L1090.6,1802.7 L1093.6,1802.9 L1096.6,1803.0 L1099.6,1803.2 L1102.6,1803.4 L1105.6,1803.6 L1108.6,1803.8 L1111.6,1803.9 L1114.6,1804.1 L1117.6,1804.3 L1120.6,1804.5 L1123.6,1804.6 L1126.6,1804.8 L1129.6,1805.0 L1132.6,1805.1 L1135.6,1805.3 L1138.6,1805.5 L1141.6,1805.7 L1144.6,1805.8 L1147.6,1806.0 L1150.6,1806.1 L1153.6,1806.3 L1156.6,1806.5 L1159.6,1806.6 L1162.5,1806.8 L1165.5,1807.0 L1168.5,1807.1 L1171.5,1807.3 L1174.5,1807.4 L1177.5,1807.6 L1180.5,1807.7 L1183.5,1807.9 L1186.5,1808.1 L1189.5,1808.2 L1192.5,1808.4 L1195.5,1808.5 L1198.5,1808.7 L1201.5,1808.8 L1204.5,1809.0 L1207.5,1809.1 L1210.5,1809.3 L1213.5,1809.4 L1216.5,1809.6 L1219.5,1809.7 L1222.5,1809.8 L1225.5,1810.0 L1228.5,1810.1 L1231.5,1810.3 L1234.5,1810.4 L1237.5,1810.6 L1240.5,1810.7 L1243.5,1810.8 L1246.5,1811.0 L1249.5,1811.1 L1252.5,1811.3 L1255.5,1811.4 L1258.5,1811.5 L1261.5,1811.7 L1264.5,1811.8 L1267.5,1811.9 L1270.5,1812.1 L1273.4,1812.2 L1276.4,1812.3 L1279.4,1812.5 L1282.4,1812.6 L1285.4,1812.7 L1288.4,1812.9 L1291.4,1813.0 L1294.4,1813.1 L1297.4,1813.2 L1300.4,1813.4 L1303.4,1813.5 L1306.4,1813.6 L1309.4,1813.7 L1312.4,1813.9 L1315.4,1814.0 L1318.4,1814.1 L1321.4,1814.2 L1324.4,1814.4 L1327.4,1814.5 L1330.4,1814.6 L1333.4,1814.7 L1336.4,1814.8 L1339.4,1815.0 L1342.4,1815.1 L1345.4,1815.2 L1348.4,1815.3 L1351.4,1815.4 L1354.4,1815.6 L1357.4,1815.7 L1360.4,1815.8 L1363.4,1815.9 L1366.4,1816.0 L1369.4,1816.1 L1372.4,1816.2 L1375.4,1816.4 L1378.4,1816.5 L1381.4,1816.6 L1384.4,1816.7 L1387.4,1816.8 L1390.4,1816.9 L1393.4,1817.0 L1396.4,1817.1 L1399.4,1817.3 L1402.4,1817.4 L1405.4,1817.5 L1408.4,1817.6 L1411.4,1817.7 L1414.4,1817.8 L1417.4,1817.9 L1420.4,1818.0 L1423.4,1818.1 L1426.4,1818.2 L1429.4,1818.3 L1432.4,1818.4 L1435.4,1818.5 L1438.4,1818.6 L1441.4,1818.7 L1444.4,1818.8 L1447.4,1818.9 L1450.4,1819.0 L1453.4,1819.1 L1456.3,1819.2 L1459.3,1819.3 L1462.3,1819.4 L1465.3,1819.5 L1468.3,1819.6 L1471.3,1819.7 L1474.3,1819.8 L1477.3,1819.9 L1480.3,1820.0 L1483.3,1820.1 L1486.3,1820.2 L1489.3,1820.3 L1492.3,1820.4 L1495.3,1820.5 L1498.3,1820.6 L1501.3,1820.7 L1504.3,1820.8 L1507.3,1820.9 L1510.3,1821.0 L1513.3,1821.1 L1516.3,1821.2 L1519.3,1821.3 L1522.3,1821.4 L1525.3,1821.5 L1528.3,1821.6 L1531.3,1821.6 L1534.3,1821.7 L1537.3,1821.8 L1540.3,1821.9 L1543.3,1822.0 L1546.3,1822.1 L1549.3,1822.2 L1552.3,1822.3 L1555.3,1822.4 L1558.3,1822.4 L1561.3,1822.5 L1564.3,1822.6 L1567.3,1822.7 L1570.3,1822.8 L1573.3,1822.9 L1576.3,1823.0 L1579.3,1823.1 L1582.3,1823.1 L1585.3,1823.2 L1588.3,1823.3 L1591.3,1823.4 L1594.3,1823.5 L1597.3,1823.6 L1600.3,1823.6 L1603.3,1823.7 L1606.3,1823.8 L1609.3,1823.9 L1612.3,1824.0 L1615.3,1824.1 L1618.3,1824.1 L1621.3,1824.2 L1624.3,1824.3 L1627.3,1824.4 L1630.3,1824.5 L1633.3,1824.5 L1636.3,1824.6 L1639.3,1824.7 L1642.3,1824.8 L1645.3,1824.9 L1648.3,1824.9 L1651.3,1825.0 L1654.3,1825.1 L1657.3,1825.2 L1660.3,1825.3 L1663.3,1825.3 L1666.3,1825.4 L1669.3,1825.5 L1672.3,1825.6 L1675.3,1825.6 L1678.3,1825.7 L1681.3,1825.8 L1684.3,1825.9 L1687.3,1825.9 L1690.3,1826.0 L1693.3,1826.1 L1696.3,1826.2 L1699.3,1826.2 L1702.3,1826.3 L1705.3,1826.4 L1708.3,1826.5 L1711.3,1826.5 L1714.3,1826.6 L1717.3,1826.7 L1720.3,1826.8 L1723.3,1826.8 L1726.3,1826.9 L1729.3,1827.0 L1732.3,1827.0 L1735.3,1827.1 L1738.3,1827.2 L1741.3,1827.3 L1744.3,1827.3 L1747.3,1827.4 L1750.3,1827.5 L1753.3,1827.5 L1756.3,1827.6 L1759.3,1827.7 L1762.3,1827.7 L1765.3,1827.8 L1768.3,1827.9 L1771.3,1828.0 L1774.3,1828.0 L1777.3,1828.1 L1780.3,1828.2 L1783.3,1828.2 L1786.3,1828.3 L1789.3,1828.4 L1792.3,1828.4 L1795.3,1828.5 L1798.3,1828.6 L1801.3,1828.6 L1804.3,1828.7 L1807.3,1828.8 L1810.3,1828.8 L1813.3,1828.9 L1816.3,1829.0 L1819.3,1829.0 L1822.3,1829.1 L1825.3,1829.1 L1828.3,1829.2 L1831.3,1829.3 L1834.3,1829.3 L1837.3,1829.4 L1840.3,1829.5 L1843.3,1829.5 L1846.3,1829.6 L1849.3,1829.7 L1852.3,1829.7 L1855.3,1829.8 L1858.3,1829.8 L1861.3,1829.9 L1864.3,1830.0 L1867.3,1830.0 L1870.2,1830.1 L1873.2,1830.2 L1876.2,1830.2 L1879.2,1830.3 L1882.2,1830.3 L1885.2,1830.4 L1888.2,1830.5 L1891.2,1830.5 L1894.2,1830.6 L1897.2,1830.6 L1900.2,1830.7 L1903.2,1830.8 L1906.2,1830.8 L1909.2,1830.9 L1912.2,1830.9 L1915.2,1831.0 L1918.2,1831.1 L1921.2,1831.1 L1921.7,1831.1 L1921.8,1824.1 L1921.4,1824.1 L1918.4,1824.1 L1915.4,1824.0 L1912.4,1823.9 L1909.4,1823.9 L1906.4,1823.8 L1903.4,1823.8 L1900.4,1823.7 L1897.4,1823.6 L1894.4,1823.6 L1891.4,1823.5 L1888.4,1823.5 L1885.4,1823.4 L1882.4,1823.3 L1879.4,1823.3 L1876.4,1823.2 L1873.4,1823.2 L1870.4,1823.1 L1867.4,1823.0 L1864.4,1823.0 L1861.4,1822.9 L1858.4,1822.8 L1855.4,1822.8 L1852.4,1822.7 L1849.4,1822.7 L1846.4,1822.6 L1843.4,1822.5 L1840.4,1822.5 L1837.4,1822.4 L1834.4,1822.3 L1831.4,1822.3 L1828.4,1822.2 L1825.4,1822.2 L1822.4,1822.1 L1819.4,1822.0 L1816.4,1822.0 L1813.4,1821.9 L1810.4,1821.8 L1807.4,1821.8 L1804.4,1821.7 L1801.4,1821.6 L1798.4,1821.6 L1795.4,1821.5 L1792.4,1821.4 L1789.4,1821.4 L1786.4,1821.3 L1783.4,1821.2 L1780.4,1821.2 L1777.4,1821.1 L1774.4,1821.0 L1771.4,1821.0 L1768.4,1820.9 L1765.4,1820.8 L1762.4,1820.8 L1759.4,1820.7 L1756.4,1820.6 L1753.4,1820.5 L1750.4,1820.5 L1747.4,1820.4 L1744.4,1820.3 L1741.4,1820.3 L1738.4,1820.2 L1735.4,1820.1 L1732.4,1820.0 L1729.4,1820.0 L1726.4,1819.9 L1723.4,1819.8 L1720.4,1819.8 L1717.4,1819.7 L1714.4,1819.6 L1711.4,1819.5 L1708.4,1819.5 L1705.4,1819.4 L1702.4,1819.3 L1699.5,1819.2 L1696.5,1819.2 L1693.5,1819.1 L1690.5,1819.0 L1687.5,1819.0 L1684.5,1818.9 L1681.5,1818.8 L1678.5,1818.7 L1675.5,1818.6 L1672.5,1818.6 L1669.5,1818.5 L1666.5,1818.4 L1663.5,1818.3 L1660.5,1818.3 L1657.5,1818.2 L1654.5,1818.1 L1651.5,1818.0 L1648.5,1818.0 L1645.5,1817.9 L1642.5,1817.8 L1639.5,1817.7 L1636.5,1817.6 L1633.5,1817.6 L1630.5,1817.5 L1627.5,1817.4 L1624.5,1817.3 L1621.5,1817.2 L1618.5,1817.1 L1615.5,1817.1 L1612.5,1817.0 L1609.5,1816.9 L1606.5,1816.8 L1603.5,1816.7 L1600.5,1816.7 L1597.5,1816.6 L1594.5,1816.5 L1591.5,1816.4 L1588.5,1816.3 L1585.5,1816.2 L1582.5,1816.1 L1579.5,1816.1 L1576.5,1816.0 L1573.5,1815.9 L1570.5,1815.8 L1567.5,1815.7 L1564.5,1815.6 L1561.5,1815.5 L1558.5,1815.5 L1555.5,1815.4 L1552.5,1815.3 L1549.5,1815.2 L1546.5,1815.1 L1543.5,1815.0 L1540.5,1814.9 L1537.5,1814.8 L1534.5,1814.7 L1531.5,1814.7 L1528.5,1814.6 L1525.5,1814.5 L1522.5,1814.4 L1519.5,1814.3 L1516.5,1814.2 L1513.5,1814.1 L1510.5,1814.0 L1507.5,1813.9 L1504.6,1813.8 L1501.6,1813.7 L1498.6,1813.6 L1495.6,1813.5 L1492.6,1813.4 L1489.6,1813.3 L1486.6,1813.2 L1483.6,1813.1 L1480.6,1813.0 L1477.6,1813.0 L1474.6,1812.9 L1471.6,1812.8 L1468.6,1812.7 L1465.6,1812.6 L1462.6,1812.5 L1459.6,1812.4 L1456.6,1812.3 L1453.6,1812.2 L1450.6,1812.1 L1447.6,1812.0 L1444.6,1811.8 L1441.6,1811.7 L1438.6,1811.6 L1435.6,1811.5 L1432.6,1811.4 L1429.6,1811.3 L1426.6,1811.2 L1423.6,1811.1 L1420.6,1811.0 L1417.6,1810.9 L1414.6,1810.8 L1411.6,1810.7 L1408.6,1810.6 L1405.6,1810.5 L1402.6,1810.4 L1399.6,1810.3 L1396.6,1810.2 L1393.6,1810.0 L1390.6,1809.9 L1387.6,1809.8 L1384.6,1809.7 L1381.6,1809.6 L1378.6,1809.5 L1375.6,1809.4 L1372.7,1809.3 L1369.7,1809.1 L1366.7,1809.0 L1363.7,1808.9 L1360.7,1808.8 L1357.7,1808.7 L1354.7,1808.6 L1351.7,1808.5 L1348.7,1808.3 L1345.7,1808.2 L1342.7,1808.1 L1339.7,1808.0 L1336.7,1807.9 L1333.7,1807.7 L1330.7,1807.6 L1327.7,1807.5 L1324.7,1807.4 L1321.7,1807.3 L1318.7,1807.1 L1315.7,1807.0 L1312.7,1806.9 L1309.7,1806.8 L1306.7,1806.6 L1303.7,1806.5 L1300.7,1806.4 L1297.7,1806.3 L1294.7,1806.1 L1291.7,1806.0 L1288.7,1805.9 L1285.7,1805.7 L1282.7,1805.6 L1279.8,1805.5 L1276.8,1805.3 L1273.8,1805.2 L1270.8,1805.1 L1267.8,1804.9 L1264.8,1804.8 L1261.8,1804.7 L1258.8,1804.5 L1255.8,1804.4 L1252.8,1804.3 L1249.8,1804.1 L1246.8,1804.0 L1243.8,1803.9 L1240.8,1803.7 L1237.8,1803.6 L1234.8,1803.4 L1231.8,1803.3 L1228.8,1803.1 L1225.8,1803.0 L1222.8,1802.9 L1219.8,1802.7 L1216.8,1802.6 L1213.8,1802.4 L1210.8,1802.3 L1207.8,1802.1 L1204.9,1802.0 L1201.9,1801.8 L1198.9,1801.7 L1195.9,1801.5 L1192.9,1801.4 L1189.9,1801.2 L1186.9,1801.1 L1183.9,1800.9 L1180.9,1800.8 L1177.9,1800.6 L1174.9,1800.5 L1171.9,1800.3 L1168.9,1800.1 L1165.9,1800.0 L1162.9,1799.8 L1159.9,1799.7 L1156.9,1799.5 L1153.9,1799.3 L1150.9,1799.2 L1147.9,1799.0 L1145.0,1798.8 L1142.0,1798.7 L1139.0,1798.5 L1136.0,1798.3 L1133.0,1798.2 L1130.0,1798.0 L1127.0,1797.8 L1124.0,1797.7 L1121.0,1797.5 L1118.0,1797.3 L1115.0,1797.1 L1112.0,1797.0 L1109.0,1796.8 L1106.0,1796.6 L1103.0,1796.4 L1100.0,1796.2 L1097.1,1796.1 L1094.1,1795.9 L1091.1,1795.7 L1088.1,1795.5 L1085.1,1795.3 L1082.1,1795.1 L1079.1,1795.0 L1076.1,1794.8 L1073.1,1794.6 L1070.1,1794.4 L1067.1,1794.2 L1064.1,1794.0 L1061.1,1793.8 L1058.1,1793.6 L1055.2,1793.4 L1052.2,1793.2 L1049.2,1793.0 L1046.2,1792.8 L1043.2,1792.6 L1040.2,1792.4 L1037.2,1792.2 L1034.2,1792.0 L1031.2,1791.8 L1028.2,1791.6 L1025.2,1791.4 L1022.2,1791.2 L1019.3,1791.0 L1016.3,1790.7 L1013.3,1790.5 L1010.3,1790.3 L1007.3,1790.1 L1004.3,1789.9 L1001.3,1789.6 L998.3,1789.4 L995.3,1789.2 L992.3,1789.0 L989.4,1788.8 L986.4,1788.5 L983.4,1788.3 L980.4,1788.1 L977.4,1787.8 L974.4,1787.6 L971.4,1787.4 L968.4,1787.1 L965.4,1786.9 L962.5,1786.6 L959.5,1786.4 L956.5,1786.2 L953.5,1785.9 L950.5,1785.7 L947.5,1785.4 L944.5,1785.2 L941.5,1784.9 L938.6,1784.7 L935.6,1784.4 L932.6,1784.1 L929.6,1783.9 L926.6,1783.6 L923.6,1783.4 L920.6,1783.1 L917.6,1782.8 L914.7,1782.6 L911.7,1782.3 L908.7,1782.0 L905.7,1781.7 L902.7,1781.5 L899.7,1781.2 L896.8,1780.9 L893.8,1780.6 L890.8,1780.3 L887.8,1780.0 L884.8,1779.7 L881.8,1779.4 L878.9,1779.2 L875.9,1778.9 L872.9,1778.6 L869.9,1778.3 L866.9,1777.9 L863.9,1777.6 L861.0,1777.3 L858.0,1777.0 L855.0,1776.7 L852.0,1776.4 L849.0,1776.1 L846.1,1775.7 L843.1,1775.4 L840.1,1775.1 L837.1,1774.8 L834.1,1774.4 L831.2,1774.1 L828.2,1773.8 L825.2,1773.4 L822.2,1773.1 L819.3,1772.7 L816.3,1772.4 L813.3,1772.0 L810.3,1771.7 L807.4,1771.3 L804.4,1770.9 L801.4,1770.6 L798.4,1770.2 L795.5,1769.8 L792.5,1769.5 L789.5,1769.1 L786.5,1768.7 L783.6,1768.3 L780.6,1767.9 L777.6,1767.5 L774.7,1767.1 L771.7,1766.7 L768.7,1766.3 L765.8,1765.9 L762.8,1765.5 L759.8,1765.1 L756.9,1764.7 L753.9,1764.3 L750.9,1763.8 L748.0,1763.4 L745.0,1763.0 L742.0,1762.5 L739.1,1762.1 L736.1,1761.6 L733.2,1761.2 L730.2,1760.7 L727.2,1760.3 L724.3,1759.8 L721.3,1759.3 L718.4,1758.9 L715.4,1758.4 L712.5,1757.9 L709.5,1757.4 L706.5,1756.9 L703.6,1756.4 L700.6,1755.9 L697.7,1755.4 L694.7,1754.9 L691.8,1754.4 L688.9,1753.8 L685.9,1753.3 L683.0,1752.8 L680.0,1752.2 L677.1,1751.7 L674.1,1751.1 L671.2,1750.6 L668.3,1750.0 L665.3,1749.4 L662.4,1748.9 L659.5,1748.3 L656.5,1747.7 L653.6,1747.1 L650.7,1746.5 L647.7,1745.9 L644.8,1745.2 L641.9,1744.6 L638.9,1744.0 L636.0,1743.3 L633.1,1742.7 L630.2,1742.0 L627.3,1741.4 L624.4,1740.7 L621.5,1740.0 L618.5,1739.3 L615.6,1738.6 L612.7,1737.9 L609.8,1737.2 L606.9,1736.5 L604.0,1735.8 L601.1,1735.0 L598.2,1734.3 L595.3,1733.5 L592.5,1732.8 L589.6,1732.0 L586.7,1731.2 L583.8,1730.4 L580.9,1729.6 L578.1,1728.7 L575.2,1727.9 L572.3,1727.1 L569.5,1726.2 L566.6,1725.4 L563.7,1724.5 L560.9,1723.6 L558.1,1722.7 L555.2,1721.8 L552.4,1720.9 L549.5,1720.0 L546.7,1719.0 L543.9,1718.0 L541.0,1717.1 L538.2,1716.1 L535.4,1715.1 L532.6,1714.0 L529.8,1713.0 L527.0,1712.0 L524.3,1710.9 L521.5,1709.8 L518.7,1708.8 L515.9,1707.7 L513.2,1706.6 L510.4,1705.4 L507.6,1704.2 L504.9,1703.1 L502.2,1701.9 L499.4,1700.7 L496.7,1699.5 L494.0,1698.3 L491.3,1697.0 L488.6,1695.7 L485.9,1694.4 L483.2,1693.2 L480.6,1691.8 L478.0,1690.5 L475.3,1689.1 L472.6,1687.7 L470.0,1686.3 L467.4,1684.9 L464.8,1683.4 L462.2,1682.0 L459.7,1680.5 L457.1,1679.0 L454.6,1677.4 L452.0,1675.9 L449.5,1674.3 L447.0,1672.7 L444.5,1671.1 L442.0,1669.4 L439.5,1667.8 L437.1,1666.1 L434.7,1664.4 L432.3,1662.6 L429.8,1660.9 L427.4,1659.2 L425.1,1657.4 L422.8,1655.5 L420.4,1653.6 L418.1,1651.7 L415.8,1649.9 L413.6,1648.0 L411.3,1646.0 L409.1,1644.0 L406.9,1642.0 L404.7,1640.1 L402.5,1638.1 L400.4,1635.9 L398.3,1633.8 L396.2,1631.7 L394.1,1629.6 L392.2,1627.4 L390.2,1625.1 L388.2,1622.9 L386.2,1620.7 L384.3,1618.4 L382.4,1616.2 L380.7,1613.8 L378.8,1611.5 L377.0,1609.1 L375.1,1606.7 L373.3,1604.4 L371.6,1602.0 L370.0,1599.6 L368.3,1597.1 L366.6,1594.6 L364.9,1592.2 L363.2,1589.7 L361.5,1587.2 L360.0,1584.7 L358.4,1582.2 L356.9,1579.7 L355.4,1577.1 L353.9,1574.5 L352.4,1572.0 L351.0,1569.3 L349.6,1566.7 L348.2,1564.1 L346.8,1561.5 L345.5,1558.8 L344.1,1556.2 L342.8,1553.5 L341.5,1550.8 L340.3,1548.1 L339.0,1545.4 L337.8,1542.7 L336.6,1540.0 L335.4,1537.2 L334.3,1534.5 L333.1,1531.8 L332.0,1529.0 L330.9,1526.2 L329.8,1523.5 L328.7,1520.7 L327.7,1517.9 L326.6,1515.1 L325.6,1512.3 L324.6,1509.5 L323.6,1506.7 L322.6,1503.9 L321.7,1501.0 L320.8,1498.2 L319.8,1495.4 L318.9,1492.5 L318.0,1489.7 L317.1,1486.8 L316.3,1484.0 L315.4,1481.1 L314.6,1478.3 L313.8,1475.4 L312.9,1472.5 L312.1,1469.7 L311.4,1466.8 L310.6,1463.9 L309.8,1461.0 L309.1,1458.1 L308.3,1455.2 L307.6,1452.3 L306.9,1449.4 L306.2,1446.5 L305.5,1443.6 L304.8,1440.7 L304.1,1437.8 L303.5,1434.9 L302.8,1432.0 L302.2,1429.0 L301.5,1426.1 L300.9,1423.2 L300.3,1420.3 L299.7,1417.4 L299.1,1414.4 L298.5,1411.5 L297.9,1408.6 L297.4,1405.6 L296.8,1402.7 L296.2,1399.7 L295.7,1396.8 L295.2,1393.9 L294.6,1390.9 L294.1,1388.0 L293.6,1385.0 L293.1,1382.1 L292.6,1379.1 L292.1,1376.2 L291.6,1373.2 L291.1,1370.3 L290.6,1367.3 L290.2,1364.4 L289.7,1361.4 L289.2,1358.5 L288.8,1355.5 L288.3,1352.5 L287.9,1349.6 L287.5,1346.6 L287.1,1343.7 L286.6,1340.7 L286.2,1337.7 L285.8,1334.8 L285.4,1331.8 L285.0,1328.8 L284.6,1325.9 L284.2,1322.9 L283.8,1319.9 L283.5,1316.9 L283.1,1314.0 L282.7,1311.0 L282.3,1308.0 L282.0,1305.1 L281.6,1302.1 L281.3,1299.1 L280.9,1296.1 L280.6,1293.2 L280.2,1290.2 L279.9,1287.2 L279.6,1284.2 L279.3,1281.3 L278.9,1278.3 L278.6,1275.3 L278.3,1272.3 L278.0,1269.3 L277.7,1266.4 L277.4,1263.4 L277.1,1260.4 L276.8,1257.4 L276.5,1254.4 L276.2,1251.5 L275.9,1248.5 L275.6,1245.5 L275.3,1242.5 L275.1,1239.5 L274.8,1236.5 L274.5,1233.6 L274.2,1230.6 L274.0,1227.6 L273.7,1224.6 L273.5,1221.6 L273.2,1218.6 L272.9,1215.6 L272.7,1212.7 L272.4,1209.7 L272.2,1206.7 L272.0,1203.7 L271.7,1200.7 L271.5,1197.7 L271.2,1194.7 L271.0,1191.7 L270.8,1188.8 L270.5,1185.8 L270.3,1182.8 L270.1,1179.8 L269.9,1176.8 L269.7,1173.8 L269.4,1170.8 L269.2,1167.8 L269.0,1164.8 L268.8,1161.9 L268.6,1158.9 L268.4,1155.9 L268.2,1152.9 L268.0,1149.9 L267.8,1146.9 L267.6,1143.9 L267.4,1140.9 L267.2,1137.9 L267.0,1134.9 L266.8,1131.9 L266.6,1129.0 L266.4,1126.0 L266.2,1123.0 L266.1,1120.0 L265.9,1117.0 L265.7,1114.0 L265.5,1111.0 L265.4,1108.0 L265.2,1105.0 L265.0,1102.0 L264.8,1099.0 L264.7,1096.0 L264.5,1093.0 L264.3,1090.0 L264.2,1087.0 L264.0,1084.1 L263.8,1081.1 L263.7,1078.1 L263.5,1075.1 L263.4,1072.1 L263.2,1069.1 L263.0,1066.1 L262.9,1063.1 L262.7,1060.1 L262.6,1057.1 L262.4,1054.1 L262.3,1051.1 L262.1,1048.1 L262.0,1045.1 L261.9,1042.1 L261.7,1039.1 L261.6,1036.1 L261.4,1033.1 L261.3,1030.2 L261.1,1027.2 L261.0,1024.2 L260.9,1021.2 L260.7,1018.2 L260.6,1015.2 L260.5,1012.2 L260.3,1009.2 L260.2,1006.2 L260.1,1003.2 L260.0,1000.2 L259.8,997.2 L259.7,994.2 L259.6,991.2 L259.4,988.2 L259.3,985.2 L259.2,982.2 L259.1,979.2 L259.0,976.2 L258.8,973.2 L258.7,970.2 L258.6,967.2 L258.5,964.2 L258.4,961.2 L258.3,958.2 L258.1,955.2 L258.0,952.3 L257.9,949.3 L257.8,946.3 L257.7,943.3 L257.6,940.3 L257.5,937.3 L257.4,934.3 L257.3,931.3 L257.2,928.3 L257.1,925.3 L257.0,922.3 L256.9,919.3 L256.7,916.3 L256.6,913.3 L256.5,910.3 L256.4,907.3 L256.3,904.3 L256.2,901.3 L256.1,898.3 L256.1,895.3 L256.0,892.3 L255.9,889.3 L255.8,886.3 L255.7,883.3 L255.6,880.3 L255.5,877.3 L255.4,874.3 L255.3,871.3 L255.2,868.3 L255.1,865.3 L255.0,862.3 L254.9,859.3 L254.8,856.3 L254.8,853.3 L254.7,850.3 L254.6,847.3 L254.5,844.3 L254.4,841.3 L254.3,838.3 L254.2,835.3 L254.2,832.3 L254.1,829.4 L254.0,826.4 L253.9,823.4 L253.8,820.4 L253.7,817.4 L253.7,814.4 L253.6,811.4 L253.5,808.4 L253.4,805.4 L253.4,802.4 L253.3,799.4 L253.2,796.4 L253.1,793.4 L253.0,790.4 L253.0,787.4 L252.9,784.4 L252.8,781.4 L252.7,778.4 L252.7,775.4 L252.6,772.4 L252.5,769.4 L252.5,766.4 L252.4,763.4 L252.3,760.4 L252.2,757.4 L252.2,754.4 L252.1,751.4 L252.0,748.4 L252.0,745.4 L251.9,742.4 L251.8,739.4 L251.8,736.4 L251.7,733.4 L251.6,730.4 L251.6,727.4 L251.5,724.4 L251.4,721.4 L251.4,718.4 L251.3,715.4 L251.2,712.4 L251.2,709.4 L251.1,706.4 L251.0,703.4 L251.0,700.4 L250.9,697.4 L250.9,694.4 L250.8,691.5 L250.8,688.5 L250.8,685.5 L250.9,682.5 L250.9,679.5 L251.0,676.5 L251.0,673.5Z" fill="#0000cc" stroke="none"/>
<path d="M244.0,484.3 L244.1,487.3 L244.2,490.3 L244.3,493.3 L244.4,496.2 L244.4,499.2 L244.5,502.2 L244.5,505.2 L244.6,508.2 L244.6,511.2 L244.7,514.2 L244.7,517.2 L244.8,520.2 L244.9,523.2 L244.9,526.2 L245.0,529.2 L245.0,532.2 L245.1,535.2 L245.1,538.2 L245.2,541.2 L245.2,544.2 L245.3,547.2 L245.3,550.2 L245.4,553.2 L245.5,556.2 L245.5,559.2 L245.6,562.2 L245.6,565.2 L245.7,568.2 L245.8,571.2 L245.8,574.2 L245.9,577.2 L245.9,580.2 L246.0,583.2 L246.1,586.2 L246.1,589.2 L246.2,592.2 L246.2,595.2 L246.3,598.2 L246.4,601.2 L246.4,604.2 L246.5,607.2 L246.5,610.2 L246.6,613.2 L246.7,616.2 L246.7,619.2 L246.8,622.2 L246.9,625.2 L246.9,628.2 L247.0,631.2 L247.1,634.2 L247.1,637.2 L247.2,640.2 L247.3,643.2 L247.3,646.2 L247.4,649.2 L247.5,652.2 L247.5,655.2 L247.6,658.2 L247.7,661.2 L247.7,664.2 L247.8,667.2 L247.9,670.2 L248.0,673.2 L248.0,676.2 L248.1,679.2 L248.2,682.2 L248.3,685.2 L248.3,688.2 L248.4,691.2 L248.5,694.2 L248.6,697.2 L248.6,700.2 L248.7,703.2 L248.8,706.2 L248.9,709.2 L248.9,712.2 L249.0,715.2 L249.1,718.2 L249.2,721.2 L249.3,724.2 L249.3,727.2 L249.4,730.2 L249.5,733.2 L249.6,736.2 L249.7,739.2 L249.7,742.2 L249.8,745.2 L249.9,748.2 L250.0,751.2 L250.1,754.2 L250.2,757.2 L250.3,760.2 L250.3,763.2 L250.4,766.2 L250.5,769.2 L250.6,772.2 L250.7,775.2 L250.8,778.2 L250.9,781.2 L251.0,784.2 L251.1,787.2 L251.1,790.2 L251.2,793.2 L251.3,796.2 L251.4,799.2 L251.5,802.2 L251.6,805.2 L251.7,808.2 L251.8,811.2 L251.9,814.2 L252.0,817.2 L252.1,820.2 L252.2,823.2 L252.3,826.2 L252.4,829.2 L252.5,832.2 L252.6,835.2 L252.7,838.2 L252.8,841.2 L252.9,844.2 L253.0,847.2 L253.1,850.2 L253.2,853.2 L253.3,856.2 L253.5,859.2 L253.6,862.2 L253.7,865.2 L253.8,868.2 L253.9,871.2 L254.0,874.2 L254.1,877.2 L254.2,880.2 L254.4,883.2 L254.5,886.2 L254.6,889.2 L254.7,892.2 L254.8,895.2 L255.0,898.2 L255.1,901.2 L255.2,904.2 L255.3,907.2 L255.4,910.2 L255.6,913.2 L255.7,916.2 L255.8,919.2 L255.9,922.2 L256.1,925.2 L256.2,928.2 L256.3,931.2 L256.5,934.2 L256.6,937.2 L256.7,940.2 L256.9,943.2 L257.0,946.2 L257.1,949.2 L257.3,952.1 L257.4,955.1 L257.5,958.1 L257.7,961.1 L257.8,964.1 L258.0,967.1 L258.1,970.1 L258.3,973.1 L258.4,976.1 L258.6,979.1 L258.7,982.1 L258.9,985.1 L259.0,988.1 L259.2,991.1 L259.3,994.1 L259.5,997.1 L259.6,1000.1 L259.8,1003.1 L259.9,1006.1 L260.1,1009.1 L260.3,1012.1 L260.4,1015.1 L260.6,1018.1 L260.8,1021.1 L260.9,1024.1 L261.1,1027.1 L261.3,1030.1 L261.4,1033.1 L261.6,1036.1 L261.8,1039.1 L262.0,1042.1 L262.2,1045.1 L262.3,1048.1 L262.5,1051.1 L262.7,1054.1 L262.9,1057.1 L263.1,1060.0 L263.3,1063.0 L263.4,1066.0 L263.6,1069.0 L263.8,1072.0 L264.0,1075.0 L264.2,1078.0 L264.4,1081.0 L264.6,1084.0 L264.8,1087.0 L265.0,1090.0 L265.2,1093.0 L265.5,1096.0 L265.7,1099.0 L265.9,1102.0 L266.1,1105.0 L266.3,1108.0 L266.5,1111.0 L266.7,1114.0 L267.0,1117.0 L267.2,1120.0 L267.4,1122.9 L267.7,1125.9 L267.9,1128.9 L268.1,1131.9 L268.4,1134.9 L268.6,1137.9 L268.8,1140.9 L269.1,1143.9 L269.3,1146.9 L269.6,1149.9 L269.8,1152.9 L270.1,1155.9 L270.3,1158.9 L270.6,1161.9 L270.9,1164.8 L271.1,1167.8 L271.4,1170.8 L271.7,1173.8 L271.9,1176.8 L272.2,1179.8 L272.5,1182.8 L272.8,1185.8 L273.1,1188.8 L273.4,1191.8 L273.6,1194.7 L273.9,1197.7 L274.2,1200.7 L274.5,1203.7 L274.9,1206.7 L275.2,1209.7 L275.5,1212.7 L275.8,1215.7 L276.1,1218.7 L276.4,1221.6 L276.8,1224.6 L277.1,1227.6 L277.4,1230.6 L277.8,1233.6 L278.1,1236.6 L278.4,1239.6 L278.8,1242.5 L279.1,1245.5 L279.5,1248.5 L279.9,1251.5 L280.2,1254.5 L280.6,1257.5 L281.0,1260.4 L281.4,1263.4 L281.7,1266.4 L282.1,1269.4 L282.5,1272.4 L282.9,1275.3 L283.3,1278.3 L283.7,1281.3 L284.1,1284.3 L284.6,1287.2 L285.0,1290.2 L285.4,1293.2 L285.8,1296.2 L286.3,1299.1 L286.7,1302.1 L287.2,1305.1 L287.6,1308.1 L288.1,1311.0 L288.6,1314.0 L289.0,1317.0 L289.5,1319.9 L290.0,1322.9 L290.5,1325.9 L291.0,1328.8 L291.5,1331.8 L292.0,1334.8 L292.5,1337.7 L293.1,1340.7 L293.6,1343.7 L294.1,1346.6 L294.7,1349.6 L295.2,1352.5 L295.8,1355.5 L296.4,1358.4 L297.0,1361.4 L297.5,1364.3 L298.1,1367.3 L298.7,1370.2 L299.4,1373.2 L300.0,1376.1 L300.6,1379.1 L301.3,1382.0 L301.9,1385.0 L302.6,1387.9 L303.2,1390.8 L303.9,1393.8 L304.6,1396.7 L305.3,1399.6 L306.0,1402.6 L306.7,1405.5 L307.4,1408.4 L308.2,1411.3 L308.9,1414.2 L309.7,1417.2 L310.5,1420.1 L311.3,1423.0 L312.1,1425.9 L312.9,1428.8 L313.7,1431.7 L314.5,1434.6 L315.4,1437.5 L316.2,1440.4 L317.1,1443.3 L318.0,1446.1 L318.9,1449.0 L319.8,1451.9 L320.7,1454.8 L321.7,1457.6 L322.6,1460.5 L323.6,1463.3 L324.6,1466.2 L325.6,1469.0 L326.6,1471.9 L327.7,1474.7 L328.7,1477.5 L329.8,1480.4 L330.9,1483.2 L332.0,1486.0 L333.1,1488.8 L334.2,1491.6 L335.4,1494.4 L336.6,1497.2 L337.8,1499.9 L339.0,1502.7 L340.2,1505.5 L341.5,1508.2 L342.7,1511.0 L344.0,1513.7 L345.3,1516.4 L346.7,1519.1 L348.0,1521.8 L349.4,1524.5 L350.8,1527.2 L352.2,1529.9 L353.7,1532.5 L355.1,1535.2 L356.7,1537.8 L358.3,1540.4 L359.8,1543.0 L361.3,1545.6 L362.9,1548.2 L364.4,1550.7 L366.0,1553.3 L367.6,1555.9 L369.4,1558.4 L371.1,1560.9 L372.8,1563.4 L374.5,1565.8 L376.2,1568.3 L378.0,1570.8 L379.9,1573.3 L381.7,1575.6 L383.6,1578.0 L385.4,1580.4 L387.3,1582.7 L389.2,1585.1 L391.2,1587.4 L393.2,1589.7 L395.2,1592.0 L397.2,1594.2 L399.1,1596.5 L401.2,1598.7 L403.4,1600.9 L405.5,1603.0 L407.6,1605.2 L409.7,1607.3 L411.8,1609.5 L414.0,1611.7 L416.2,1613.7 L418.4,1615.8 L420.6,1617.8 L422.8,1619.9 L425.1,1621.9 L427.4,1623.9 L429.7,1625.8 L432.0,1627.7 L434.3,1629.7 L436.7,1631.7 L439.1,1633.5 L441.5,1635.3 L443.8,1637.1 L446.3,1639.0 L448.7,1640.8 L451.2,1642.5 L453.6,1644.3 L456.1,1646.0 L458.6,1647.7 L461.2,1649.4 L463.7,1651.0 L466.2,1652.6 L468.8,1654.3 L471.4,1655.9 L474.0,1657.4 L476.5,1659.0 L479.1,1660.5 L481.8,1662.1 L484.4,1663.5 L487.0,1665.0 L489.7,1666.4 L492.4,1667.9 L495.0,1669.3 L497.7,1670.7 L500.4,1672.0 L503.1,1673.4 L505.8,1674.7 L508.5,1676.0 L511.2,1677.3 L514.0,1678.7 L516.7,1679.9 L519.5,1681.1 L522.2,1682.4 L525.0,1683.6 L527.8,1684.8 L530.5,1686.0 L533.3,1687.1 L536.1,1688.3 L538.9,1689.4 L541.7,1690.5 L544.5,1691.6 L547.3,1692.8 L550.2,1693.8 L553.0,1694.9 L555.8,1695.9 L558.6,1697.0 L561.5,1698.0 L564.3,1699.0 L567.1,1700.0 L570.0,1701.0 L572.9,1702.0 L575.7,1702.9 L578.6,1703.9 L581.4,1704.8 L584.3,1705.7 L587.2,1706.6 L590.0,1707.5 L592.9,1708.4 L595.8,1709.3 L598.7,1710.2 L601.6,1711.0 L604.5,1711.9 L607.4,1712.7 L610.3,1713.5 L613.2,1714.3 L616.1,1715.2 L619.0,1715.9 L621.9,1716.7 L624.8,1717.5 L627.7,1718.3 L630.6,1719.0 L633.5,1719.8 L636.4,1720.5 L639.4,1721.3 L642.3,1722.0 L645.2,1722.7 L648.1,1723.4 L651.1,1724.1 L654.0,1724.8 L656.9,1725.5 L659.8,1726.2 L662.8,1726.9 L665.7,1727.5 L668.6,1728.2 L671.6,1728.8 L674.5,1729.5 L677.5,1730.1 L680.4,1730.7 L683.3,1731.4 L686.3,1732.0 L689.2,1732.6 L692.2,1733.2 L695.1,1733.8 L698.1,1734.4 L701.0,1734.9 L704.0,1735.5 L706.9,1736.1 L709.9,1736.7 L712.8,1737.2 L715.8,1737.8 L718.7,1738.3 L721.7,1738.9 L724.6,1739.4 L727.6,1740.0 L730.6,1740.5 L733.5,1741.0 L736.5,1741.5 L739.5,1742.0 L742.4,1742.5 L745.4,1743.0 L748.3,1743.5 L751.3,1744.0 L754.3,1744.5 L757.2,1745.0 L760.2,1745.5 L763.2,1746.0 L766.1,1746.4 L769.1,1746.9 L772.1,1747.4 L775.0,1747.8 L778.0,1748.3 L781.0,1748.7 L784.0,1749.2 L786.9,1749.6 L789.9,1750.1 L792.9,1750.5 L795.9,1750.9 L798.8,1751.4 L801.8,1751.8 L804.8,1752.2 L807.7,1752.6 L810.7,1753.0 L813.7,1753.4 L816.7,1753.9 L819.7,1754.2 L822.6,1754.6 L825.6,1755.0 L828.6,1755.4 L831.6,1755.8 L834.5,1756.2 L837.5,1756.6 L840.5,1757.0 L843.5,1757.4 L846.5,1757.7 L849.4,1758.1 L852.4,1758.5 L855.4,1758.8 L858.4,1759.2 L861.4,1759.6 L864.3,1759.9 L867.3,1760.3 L870.3,1760.6 L873.3,1761.0 L876.3,1761.3 L879.3,1761.6 L882.2,1762.0 L885.2,1762.3 L888.2,1762.7 L891.2,1763.0 L894.2,1763.3 L897.2,1763.6 L900.2,1764.0 L903.1,1764.3 L906.1,1764.6 L909.1,1764.9 L912.1,1765.2 L915.1,1765.6 L918.1,1765.9 L921.1,1766.2 L924.0,1766.5 L927.0,1766.8 L930.0,1767.1 L933.0,1767.4 L936.0,1767.7 L939.0,1768.0 L942.0,1768.3 L945.0,1768.6 L947.9,1768.9 L950.9,1769.1 L953.9,1769.4 L956.9,1769.7 L959.9,1770.0 L962.9,1770.3 L965.9,1770.6 L968.9,1770.8 L971.9,1771.1 L974.8,1771.4 L977.8,1771.6 L980.8,1771.9 L983.8,1772.2 L986.8,1772.4 L989.8,1772.7 L992.8,1773.0 L995.8,1773.2 L998.8,1773.5 L1001.8,1773.7 L1004.8,1774.0 L1007.7,1774.3 L1010.7,1774.5 L1013.7,1774.8 L1016.7,1775.0 L1019.7,1775.2 L1022.7,1775.5 L1025.7,1775.7 L1028.7,1776.0 L1031.7,1776.2 L1034.7,1776.5 L1037.7,1776.7 L1040.7,1776.9 L1043.6,1777.2 L1046.6,1777.4 L1049.6,1777.6 L1052.6,1777.9 L1055.6,1778.1 L1058.6,1778.3 L1061.6,1778.5 L1064.6,1778.8 L1067.6,1779.0 L1070.6,1779.2 L1073.6,1779.4 L1076.6,1779.6 L1079.6,1779.9 L1082.6,1780.1 L1085.6,1780.3 L1088.5,1780.5 L1091.5,1780.7 L1094.5,1780.9 L1097.5,1781.1 L1100.5,1781.4 L1103.5,1781.6 L1106.5,1781.8 L1109.5,1782.0 L1112.5,1782.2 L1115.5,1782.4 L1118.5,1782.6 L1121.5,1782.8 L1124.5,1783.0 L1127.5,1783.2 L1130.5,1783.4 L1133.5,1783.6 L1136.5,1783.8 L1139.5,1784.0 L1142.4,1784.2 L1145.4,1784.4 L1148.4,1784.5 L1151.4,1784.7 L1154.4,1784.9 L1157.4,1785.1 L1160.4,1785.3 L1163.4,1785.5 L1166.4,1785.7 L1169.4,1785.9 L1172.4,1786.0 L1175.4,1786.2 L1178.4,1786.4 L1181.4,1786.6 L1184.4,1786.8 L1187.4,1786.9 L1190.4,1787.1 L1193.4,1787.3 L1196.4,1787.5 L1199.4,1787.6 L1202.4,1787.8 L1205.4,1788.0 L1208.4,1788.2 L1211.3,1788.3 L1214.3,1788.5 L1217.3,1788.7 L1220.3,1788.8 L1223.3,1789.0 L1226.3,1789.2 L1229.3,1789.3 L1232.3,1789.5 L1235.3,1789.7 L1238.3,1789.8 L1241.3,1790.0 L1244.3,1790.1 L1247.3,1790.3 L1250.3,1790.5 L1253.3,1790.6 L1256.3,1790.8 L1259.3,1790.9 L1262.3,1791.1 L1265.3,1791.3 L1268.3,1791.4 L1271.3,1791.6 L1274.3,1791.7 L1277.3,1791.9 L1280.3,1792.0 L1283.3,1792.2 L1286.3,1792.3 L1289.3,1792.5 L1292.3,1792.6 L1295.3,1792.8 L1298.3,1792.9 L1301.2,1793.1 L1304.2,1793.2 L1307.2,1793.4 L1310.2,1793.5 L1313.2,1793.7 L1316.2,1793.8 L1319.2,1793.9 L1322.2,1794.1 L1325.2,1794.2 L1328.2,1794.4 L1331.2,1794.5 L1334.2,1794.6 L1337.2,1794.8 L1340.2,1794.9 L1343.2,1795.1 L1346.2,1795.2 L1349.2,1795.3 L1352.2,1795.5 L1355.2,1795.6 L1358.2,1795.7 L1361.2,1795.9 L1364.2,1796.0 L1367.2,1796.1 L1370.2,1796.3 L1373.2,1796.4 L1376.2,1796.5 L1379.2,1796.7 L1382.2,1796.8 L1385.2,1796.9 L1388.2,1797.1 L1391.2,1797.2 L1394.2,1797.3 L1397.2,1797.4 L1400.2,1797.6 L1403.2,1797.7 L1406.2,1797.8 L1409.2,1797.9 L1412.2,1798.1 L1415.2,1798.2 L1418.2,1798.3 L1421.2,1798.4 L1424.2,1798.6 L1427.2,1798.7 L1430.2,1798.8 L1433.1,1798.9 L1436.1,1799.0 L1439.1,1799.2 L1442.1,1799.3 L1445.1,1799.4 L1448.1,1799.5 L1451.1,1799.6 L1454.1,1799.8 L1457.1,1799.9 L1460.1,1800.0 L1463.1,1800.1 L1466.1,1800.2 L1469.1,1800.3 L1472.1,1800.5 L1475.1,1800.6 L1478.1,1800.7 L1481.1,1800.8 L1484.1,1800.9 L1487.1,1801.0 L1490.1,1801.1 L1493.1,1801.2 L1496.1,1801.4 L1499.1,1801.5 L1502.1,1801.6 L1505.1,1801.7 L1508.1,1801.8 L1511.1,1801.9 L1514.1,1802.0 L1517.1,1802.1 L1520.1,1802.2 L1523.1,1802.3 L1526.1,1802.4 L1529.1,1802.5 L1532.1,1802.7 L1535.1,1802.8 L1538.1,1802.9 L1541.1,1803.0 L1544.1,1803.1 L1547.1,1803.2 L1550.1,1803.3 L1553.1,1803.4 L1556.1,1803.5 L1559.1,1803.6 L1562.1,1803.7 L1565.1,1803.8 L1568.1,1803.9 L1571.1,1804.0 L1574.1,1804.1 L1577.1,1804.2 L1580.1,1804.3 L1583.1,1804.4 L1586.1,1804.5 L1589.1,1804.6 L1592.1,1804.7 L1595.1,1804.8 L1598.1,1804.9 L1601.1,1805.0 L1604.1,1805.1 L1607.1,1805.2 L1610.1,1805.3 L1613.1,1805.4 L1616.1,1805.5 L1619.1,1805.6 L1622.1,1805.6 L1625.1,1805.7 L1628.1,1805.8 L1631.1,1805.9 L1634.1,1806.0 L1637.1,1806.1 L1640.1,1806.2 L1643.1,1806.3 L1646.1,1806.4 L1649.0,1806.5 L1652.0,1806.6 L1655.0,1806.7 L1658.0,1806.8 L1661.0,1806.8 L1664.0,1806.9 L1667.0,1807.0 L1670.0,1807.1 L1673.0,1807.2 L1676.0,1807.3 L1679.0,1807.4 L1682.0,1807.5 L1685.0,1807.6 L1688.0,1807.6 L1691.0,1807.7 L1694.0,1807.8 L1697.0,1807.9 L1700.0,1808.0 L1703.0,1808.1 L1706.0,1808.2 L1709.0,1808.2 L1712.0,1808.3 L1715.0,1808.4 L1718.0,1808.5 L1721.0,1808.6 L1724.0,1808.7 L1727.0,1808.8 L1730.0,1808.8 L1733.0,1808.9 L1736.0,1809.0 L1739.0,1809.1 L1742.0,1809.2 L1745.0,1809.2 L1748.0,1809.3 L1751.0,1809.4 L1754.0,1809.5 L1757.0,1809.6 L1760.0,1809.7 L1763.0,1809.7 L1766.0,1809.8 L1769.0,1809.9 L1772.0,1810.0 L1775.0,1810.1 L1778.0,1810.1 L1781.0,1810.2 L1784.0,1810.3 L1787.0,1810.4 L1790.0,1810.4 L1793.0,1810.5 L1796.0,1810.6 L1799.0,1810.7 L1802.0,1810.8 L1805.0,1810.8 L1808.0,1810.9 L1811.0,1811.0 L1814.0,1811.1 L1817.0,1811.1 L1820.0,1811.2 L1823.0,1811.3 L1826.0,1811.4 L1829.0,1811.4 L1832.0,1811.5 L1835.0,1811.6 L1838.0,1811.7 L1841.0,1811.7 L1844.0,1811.8 L1847.0,1811.9 L1850.0,1812.0 L1853.0,1812.0 L1856.0,1812.1 L1859.0,1812.2 L1862.0,1812.2 L1865.0,1812.3 L1868.0,1812.4 L1871.0,1812.5 L1874.0,1812.5 L1877.0,1812.6 L1880.0,1812.7 L1883.0,1812.7 L1886.0,1812.8 L1889.0,1812.9 L1892.0,1813.0 L1895.0,1813.0 L1898.0,1813.1 L1901.0,1813.2 L1904.0,1813.2 L1907.0,1813.3 L1910.0,1813.4 L1913.0,1813.4 L1916.0,1813.5 L1919.0,1813.6 L1921.7,1813.6 L1921.8,1806.6 L1919.1,1806.6 L1916.1,1806.5 L1913.1,1806.4 L1910.1,1806.4 L1907.1,1806.3 L1904.1,1806.2 L1901.1,1806.2 L1898.1,1806.1 L1895.1,1806.0 L1892.2,1806.0 L1889.2,1805.9 L1886.2,1805.8 L1883.2,1805.7 L1880.2,1805.7 L1877.2,1805.6 L1874.2,1805.5 L1871.2,1805.5 L1868.2,1805.4 L1865.2,1805.3 L1862.2,1805.2 L1859.2,1805.2 L1856.2,1805.1 L1853.2,1805.0 L1850.2,1805.0 L1847.2,1804.9 L1844.2,1804.8 L1841.2,1804.7 L1838.2,1804.7 L1835.2,1804.6 L1832.2,1804.5 L1829.2,1804.4 L1826.2,1804.4 L1823.2,1804.3 L1820.2,1804.2 L1817.2,1804.1 L1814.2,1804.1 L1811.2,1804.0 L1808.2,1803.9 L1805.2,1803.8 L1802.2,1803.8 L1799.2,1803.7 L1796.2,1803.6 L1793.2,1803.5 L1790.2,1803.5 L1787.2,1803.4 L1784.2,1803.3 L1781.2,1803.2 L1778.2,1803.1 L1775.2,1803.1 L1772.2,1803.0 L1769.2,1802.9 L1766.2,1802.8 L1763.2,1802.7 L1760.2,1802.7 L1757.2,1802.6 L1754.2,1802.5 L1751.2,1802.4 L1748.2,1802.3 L1745.2,1802.3 L1742.2,1802.2 L1739.2,1802.1 L1736.2,1802.0 L1733.2,1801.9 L1730.2,1801.8 L1727.2,1801.8 L1724.2,1801.7 L1721.2,1801.6 L1718.2,1801.5 L1715.2,1801.4 L1712.2,1801.3 L1709.2,1801.3 L1706.2,1801.2 L1703.2,1801.1 L1700.2,1801.0 L1697.2,1800.9 L1694.2,1800.8 L1691.2,1800.7 L1688.2,1800.7 L1685.2,1800.6 L1682.2,1800.5 L1679.2,1800.4 L1676.2,1800.3 L1673.2,1800.2 L1670.3,1800.1 L1667.3,1800.0 L1664.3,1799.9 L1661.3,1799.9 L1658.3,1799.8 L1655.3,1799.7 L1652.3,1799.6 L1649.3,1799.5 L1646.3,1799.4 L1643.3,1799.3 L1640.3,1799.2 L1637.3,1799.1 L1634.3,1799.0 L1631.3,1798.9 L1628.3,1798.8 L1625.3,1798.7 L1622.3,1798.7 L1619.3,1798.6 L1616.3,1798.5 L1613.3,1798.4 L1610.3,1798.3 L1607.3,1798.2 L1604.3,1798.1 L1601.3,1798.0 L1598.3,1797.9 L1595.3,1797.8 L1592.3,1797.7 L1589.3,1797.6 L1586.3,1797.5 L1583.3,1797.4 L1580.3,1797.3 L1577.3,1797.2 L1574.3,1797.1 L1571.3,1797.0 L1568.3,1796.9 L1565.3,1796.8 L1562.3,1796.7 L1559.3,1796.6 L1556.3,1796.5 L1553.3,1796.4 L1550.3,1796.3 L1547.3,1796.2 L1544.3,1796.1 L1541.3,1796.0 L1538.3,1795.9 L1535.3,1795.8 L1532.3,1795.7 L1529.3,1795.6 L1526.3,1795.4 L1523.3,1795.3 L1520.4,1795.2 L1517.4,1795.1 L1514.4,1795.0 L1511.4,1794.9 L1508.4,1794.8 L1505.4,1794.7 L1502.4,1794.6 L1499.4,1794.5 L1496.4,1794.4 L1493.4,1794.3 L1490.4,1794.1 L1487.4,1794.0 L1484.4,1793.9 L1481.4,1793.8 L1478.4,1793.7 L1475.4,1793.6 L1472.4,1793.5 L1469.4,1793.3 L1466.4,1793.2 L1463.4,1793.1 L1460.4,1793.0 L1457.4,1792.9 L1454.4,1792.8 L1451.4,1792.7 L1448.4,1792.5 L1445.4,1792.4 L1442.4,1792.3 L1439.4,1792.2 L1436.4,1792.1 L1433.4,1791.9 L1430.4,1791.8 L1427.4,1791.7 L1424.4,1791.6 L1421.4,1791.5 L1418.4,1791.3 L1415.4,1791.2 L1412.5,1791.1 L1409.5,1791.0 L1406.5,1790.8 L1403.5,1790.7 L1400.5,1790.6 L1397.5,1790.5 L1394.5,1790.3 L1391.5,1790.2 L1388.5,1790.1 L1385.5,1789.9 L1382.5,1789.8 L1379.5,1789.7 L1376.5,1789.6 L1373.5,1789.4 L1370.5,1789.3 L1367.5,1789.2 L1364.5,1789.0 L1361.5,1788.9 L1358.5,1788.8 L1355.5,1788.6 L1352.5,1788.5 L1349.5,1788.3 L1346.5,1788.2 L1343.5,1788.1 L1340.5,1787.9 L1337.5,1787.8 L1334.5,1787.7 L1331.5,1787.5 L1328.6,1787.4 L1325.6,1787.2 L1322.6,1787.1 L1319.6,1787.0 L1316.6,1786.8 L1313.6,1786.7 L1310.6,1786.5 L1307.6,1786.4 L1304.6,1786.2 L1301.6,1786.1 L1298.6,1785.9 L1295.6,1785.8 L1292.6,1785.6 L1289.6,1785.5 L1286.6,1785.3 L1283.6,1785.2 L1280.6,1785.0 L1277.6,1784.9 L1274.6,1784.7 L1271.6,1784.6 L1268.6,1784.4 L1265.6,1784.3 L1262.7,1784.1 L1259.7,1784.0 L1256.7,1783.8 L1253.7,1783.6 L1250.7,1783.5 L1247.7,1783.3 L1244.7,1783.2 L1241.7,1783.0 L1238.7,1782.8 L1235.7,1782.7 L1232.7,1782.5 L1229.7,1782.4 L1226.7,1782.2 L1223.7,1782.0 L1220.7,1781.9 L1217.7,1781.7 L1214.7,1781.5 L1211.7,1781.3 L1208.7,1781.2 L1205.8,1781.0 L1202.8,1780.8 L1199.8,1780.7 L1196.8,1780.5 L1193.8,1780.3 L1190.8,1780.1 L1187.8,1780.0 L1184.8,1779.8 L1181.8,1779.6 L1178.8,1779.4 L1175.8,1779.2 L1172.8,1779.1 L1169.8,1778.9 L1166.8,1778.7 L1163.8,1778.5 L1160.9,1778.3 L1157.9,1778.1 L1154.9,1777.9 L1151.9,1777.8 L1148.9,1777.6 L1145.9,1777.4 L1142.9,1777.2 L1139.9,1777.0 L1136.9,1776.8 L1133.9,1776.6 L1130.9,1776.4 L1127.9,1776.2 L1124.9,1776.0 L1121.9,1775.8 L1119.0,1775.6 L1116.0,1775.4 L1113.0,1775.2 L1110.0,1775.0 L1107.0,1774.8 L1104.0,1774.6 L1101.0,1774.4 L1098.0,1774.2 L1095.0,1774.0 L1092.0,1773.8 L1089.0,1773.5 L1086.1,1773.3 L1083.1,1773.1 L1080.1,1772.9 L1077.1,1772.7 L1074.1,1772.5 L1071.1,1772.2 L1068.1,1772.0 L1065.1,1771.8 L1062.1,1771.6 L1059.1,1771.4 L1056.1,1771.1 L1053.2,1770.9 L1050.2,1770.7 L1047.2,1770.4 L1044.2,1770.2 L1041.2,1770.0 L1038.2,1769.7 L1035.2,1769.5 L1032.2,1769.3 L1029.2,1769.0 L1026.3,1768.8 L1023.3,1768.5 L1020.3,1768.3 L1017.3,1768.0 L1014.3,1767.8 L1011.3,1767.5 L1008.3,1767.3 L1005.3,1767.0 L1002.4,1766.8 L999.4,1766.5 L996.4,1766.3 L993.4,1766.0 L990.4,1765.8 L987.4,1765.5 L984.4,1765.2 L981.4,1765.0 L978.5,1764.7 L975.5,1764.4 L972.5,1764.2 L969.5,1763.9 L966.5,1763.6 L963.5,1763.3 L960.6,1763.1 L957.6,1762.8 L954.6,1762.5 L951.6,1762.2 L948.6,1761.9 L945.6,1761.6 L942.6,1761.3 L939.7,1761.1 L936.7,1760.8 L933.7,1760.5 L930.7,1760.2 L927.7,1759.9 L924.8,1759.6 L921.8,1759.3 L918.8,1758.9 L915.8,1758.6 L912.8,1758.3 L909.8,1758.0 L906.9,1757.7 L903.9,1757.4 L900.9,1757.1 L897.9,1756.7 L894.9,1756.4 L892.0,1756.1 L889.0,1755.7 L886.0,1755.4 L883.0,1755.1 L880.1,1754.7 L877.1,1754.4 L874.1,1754.1 L871.1,1753.7 L868.1,1753.4 L865.2,1753.0 L862.2,1752.7 L859.2,1752.3 L856.2,1751.9 L853.3,1751.6 L850.3,1751.2 L847.3,1750.8 L844.3,1750.5 L841.4,1750.1 L838.4,1749.7 L835.4,1749.3 L832.5,1748.9 L829.5,1748.6 L826.5,1748.2 L823.5,1747.8 L820.6,1747.4 L817.6,1747.0 L814.6,1746.6 L811.7,1746.2 L808.7,1745.8 L805.7,1745.3 L802.8,1744.9 L799.8,1744.5 L796.8,1744.1 L793.9,1743.6 L790.9,1743.2 L787.9,1742.8 L785.0,1742.3 L782.0,1741.9 L779.1,1741.4 L776.1,1741.0 L773.1,1740.5 L770.2,1740.1 L767.2,1739.6 L764.3,1739.1 L761.3,1738.7 L758.3,1738.2 L755.4,1737.7 L752.4,1737.2 L749.5,1736.7 L746.5,1736.2 L743.6,1735.7 L740.6,1735.2 L737.7,1734.7 L734.7,1734.2 L731.8,1733.7 L728.8,1733.2 L725.9,1732.6 L722.9,1732.1 L720.0,1731.6 L717.0,1731.0 L714.1,1730.5 L711.2,1729.9 L708.2,1729.3 L705.3,1728.8 L702.4,1728.2 L699.4,1727.6 L696.5,1727.0 L693.5,1726.5 L690.6,1725.9 L687.7,1725.2 L684.7,1724.6 L681.8,1724.0 L678.9,1723.4 L676.0,1722.8 L673.0,1722.1 L670.1,1721.5 L667.2,1720.8 L664.3,1720.2 L661.4,1719.5 L658.5,1718.9 L655.5,1718.2 L652.6,1717.5 L649.7,1716.8 L646.8,1716.1 L643.9,1715.4 L641.0,1714.7 L638.1,1714.0 L635.2,1713.2 L632.3,1712.5 L629.4,1711.7 L626.5,1711.0 L623.6,1710.2 L620.7,1709.4 L617.8,1708.6 L615.0,1707.9 L612.1,1707.0 L609.2,1706.2 L606.3,1705.4 L603.5,1704.6 L600.6,1703.7 L597.7,1702.9 L594.9,1702.0 L592.0,1701.1 L589.2,1700.2 L586.3,1699.3 L583.5,1698.5 L580.6,1697.5 L577.8,1696.6 L575.0,1695.7 L572.1,1694.7 L569.3,1693.8 L566.5,1692.8 L563.7,1691.8 L560.9,1690.8 L558.1,1689.8 L555.3,1688.7 L552.4,1687.7 L549.7,1686.7 L546.9,1685.6 L544.1,1684.5 L541.3,1683.4 L538.5,1682.3 L535.8,1681.2 L533.0,1680.0 L530.3,1678.9 L527.5,1677.7 L524.8,1676.5 L522.1,1675.3 L519.3,1674.1 L516.6,1672.9 L514.0,1671.6 L511.3,1670.3 L508.5,1669.0 L505.9,1667.8 L503.2,1666.5 L500.5,1665.1 L497.9,1663.7 L495.2,1662.4 L492.6,1661.0 L490.0,1659.6 L487.4,1658.2 L484.7,1656.7 L482.2,1655.3 L479.6,1653.8 L477.0,1652.3 L474.4,1650.7 L471.9,1649.3 L469.4,1647.7 L466.9,1646.1 L464.4,1644.4 L461.8,1642.9 L459.4,1641.2 L456.9,1639.5 L454.5,1637.8 L452.0,1636.1 L449.6,1634.5 L447.2,1632.7 L444.8,1630.9 L442.4,1629.1 L440.1,1627.3 L437.7,1625.5 L435.4,1623.6 L433.1,1621.7 L430.8,1619.8 L428.5,1617.9 L426.3,1616.0 L424.1,1614.0 L421.9,1612.0 L419.7,1609.9 L417.5,1607.9 L415.3,1606.0 L413.3,1603.8 L411.2,1601.7 L409.1,1599.5 L407.0,1597.4 L405.0,1595.2 L403.1,1593.0 L401.1,1590.7 L399.1,1588.5 L397.2,1586.2 L395.2,1584.0 L393.4,1581.7 L391.6,1579.3 L389.8,1577.0 L387.9,1574.6 L386.1,1572.2 L384.3,1569.9 L382.6,1567.5 L381.0,1565.1 L379.3,1562.6 L377.6,1560.1 L375.9,1557.6 L374.2,1555.2 L372.6,1552.7 L371.1,1550.2 L369.6,1547.6 L368.0,1545.1 L366.5,1542.5 L364.9,1539.9 L363.4,1537.4 L361.9,1534.8 L360.5,1532.2 L359.1,1529.6 L357.7,1527.0 L356.3,1524.3 L355.0,1521.7 L353.6,1519.0 L352.3,1516.4 L351.0,1513.7 L349.7,1511.0 L348.5,1508.3 L347.3,1505.6 L346.0,1502.9 L344.8,1500.1 L343.7,1497.4 L342.5,1494.7 L341.4,1491.9 L340.2,1489.1 L339.1,1486.4 L338.0,1483.6 L337.0,1480.8 L335.9,1478.0 L334.9,1475.3 L333.8,1472.5 L332.8,1469.7 L331.8,1466.8 L330.8,1464.0 L329.9,1461.2 L328.9,1458.4 L328.0,1455.5 L327.1,1452.7 L326.2,1449.9 L325.3,1447.0 L324.4,1444.2 L323.5,1441.3 L322.7,1438.5 L321.8,1435.6 L321.0,1432.7 L320.2,1429.9 L319.4,1427.0 L318.6,1424.1 L317.8,1421.2 L317.0,1418.3 L316.2,1415.4 L315.5,1412.6 L314.8,1409.7 L314.0,1406.8 L313.3,1403.9 L312.6,1401.0 L311.9,1398.1 L311.2,1395.1 L310.5,1392.2 L309.9,1389.3 L309.2,1386.4 L308.6,1383.5 L307.9,1380.6 L307.3,1377.6 L306.7,1374.7 L306.1,1371.8 L305.5,1368.9 L304.9,1365.9 L304.3,1363.0 L303.7,1360.1 L303.1,1357.1 L302.6,1354.2 L302.0,1351.3 L301.5,1348.3 L300.9,1345.4 L300.4,1342.4 L299.8,1339.5 L299.3,1336.5 L298.8,1333.6 L298.3,1330.6 L297.8,1327.7 L297.3,1324.7 L296.8,1321.8 L296.3,1318.8 L295.9,1315.9 L295.4,1312.9 L294.9,1310.0 L294.5,1307.0 L294.0,1304.1 L293.6,1301.1 L293.1,1298.1 L292.7,1295.2 L292.3,1292.2 L291.8,1289.2 L291.4,1286.3 L291.0,1283.3 L290.6,1280.3 L290.2,1277.4 L289.8,1274.4 L289.4,1271.4 L289.0,1268.5 L288.6,1265.5 L288.2,1262.5 L287.9,1259.6 L287.5,1256.6 L287.1,1253.6 L286.8,1250.6 L286.4,1247.7 L286.0,1244.7 L285.7,1241.7 L285.3,1238.7 L285.0,1235.8 L284.7,1232.8 L284.3,1229.8 L284.0,1226.8 L283.7,1223.9 L283.3,1220.9 L283.0,1217.9 L282.7,1214.9 L282.4,1212.0 L282.1,1209.0 L281.8,1206.0 L281.5,1203.0 L281.2,1200.0 L280.9,1197.0 L280.6,1194.1 L280.3,1191.1 L280.0,1188.1 L279.7,1185.1 L279.4,1182.1 L279.2,1179.2 L278.9,1176.2 L278.6,1173.2 L278.3,1170.2 L278.1,1167.2 L277.8,1164.2 L277.6,1161.2 L277.3,1158.3 L277.0,1155.3 L276.8,1152.3 L276.5,1149.3 L276.3,1146.3 L276.0,1143.3 L275.8,1140.3 L275.6,1137.4 L275.3,1134.4 L275.1,1131.4 L274.8,1128.4 L274.6,1125.4 L274.4,1122.4 L274.2,1119.4 L273.9,1116.4 L273.7,1113.4 L273.5,1110.5 L273.3,1107.5 L273.1,1104.5 L272.8,1101.5 L272.6,1098.5 L272.4,1095.5 L272.2,1092.5 L272.0,1089.5 L271.8,1086.5 L271.6,1083.5 L271.4,1080.6 L271.2,1077.6 L271.0,1074.6 L270.8,1071.6 L270.6,1068.6 L270.4,1065.6 L270.2,1062.6 L270.0,1059.6 L269.9,1056.6 L269.7,1053.6 L269.5,1050.6 L269.3,1047.6 L269.1,1044.6 L269.0,1041.7 L268.8,1038.7 L268.6,1035.7 L268.4,1032.7 L268.2,1029.7 L268.1,1026.7 L267.9,1023.7 L267.7,1020.7 L267.6,1017.7 L267.4,1014.7 L267.2,1011.7 L267.1,1008.7 L266.9,1005.7 L266.8,1002.7 L266.6,999.7 L266.5,996.7 L266.3,993.8 L266.1,990.8 L266.0,987.8 L265.8,984.8 L265.7,981.8 L265.5,978.8 L265.4,975.8 L265.2,972.8 L265.1,969.8 L265.0,966.8 L264.8,963.8 L264.7,960.8 L264.5,957.8 L264.4,954.8 L264.3,951.8 L264.1,948.8 L264.0,945.8 L263.8,942.8 L263.7,939.8 L263.6,936.8 L263.4,933.9 L263.3,930.9 L263.2,927.9 L263.1,924.9 L262.9,921.9 L262.8,918.9 L262.7,915.9 L262.6,912.9 L262.4,909.9 L262.3,906.9 L262.2,903.9 L262.1,900.9 L261.9,897.9 L261.8,894.9 L261.7,891.9 L261.6,888.9 L261.5,885.9 L261.3,882.9 L261.2,879.9 L261.1,876.9 L261.0,873.9 L260.9,870.9 L260.8,867.9 L260.7,864.9 L260.6,861.9 L260.4,858.9 L260.3,855.9 L260.2,852.9 L260.1,849.9 L260.0,846.9 L259.9,844.0 L259.8,841.0 L259.7,838.0 L259.6,835.0 L259.5,832.0 L259.4,829.0 L259.3,826.0 L259.2,823.0 L259.1,820.0 L259.0,817.0 L258.9,814.0 L258.8,811.0 L258.7,808.0 L258.6,805.0 L258.5,802.0 L258.4,799.0 L258.3,796.0 L258.2,793.0 L258.1,790.0 L258.0,787.0 L258.0,784.0 L257.9,781.0 L257.8,778.0 L257.7,775.0 L257.6,772.0 L257.5,769.0 L257.4,766.0 L257.3,763.0 L257.2,760.0 L257.2,757.0 L257.1,754.0 L257.0,751.0 L256.9,748.0 L256.8,745.0 L256.7,742.0 L256.7,739.0 L256.6,736.0 L256.5,733.0 L256.4,730.0 L256.3,727.0 L256.2,724.0 L256.2,721.0 L256.1,718.0 L256.0,715.0 L255.9,712.0 L255.9,709.0 L255.8,706.0 L255.7,703.0 L255.6,700.0 L255.5,697.1 L255.5,694.1 L255.4,691.1 L255.3,688.1 L255.3,685.1 L255.2,682.1 L255.1,679.1 L255.0,676.1 L255.0,673.1 L254.9,670.1 L254.8,667.1 L254.7,664.1 L254.7,661.1 L254.6,658.1 L254.5,655.1 L254.5,652.1 L254.4,649.1 L254.3,646.1 L254.3,643.1 L254.2,640.1 L254.1,637.1 L254.1,634.1 L254.0,631.1 L253.9,628.1 L253.9,625.1 L253.8,622.1 L253.7,619.1 L253.7,616.1 L253.6,613.1 L253.5,610.1 L253.5,607.1 L253.4,604.1 L253.4,601.1 L253.3,598.1 L253.2,595.1 L253.2,592.1 L253.1,589.1 L253.0,586.1 L253.0,583.1 L252.9,580.1 L252.9,577.1 L252.8,574.1 L252.7,571.1 L252.7,568.1 L252.6,565.1 L252.6,562.1 L252.5,559.1 L252.5,556.1 L252.4,553.1 L252.3,550.1 L252.3,547.1 L252.2,544.1 L252.2,541.1 L252.1,538.1 L252.1,535.1 L252.0,532.1 L252.0,529.1 L251.9,526.1 L251.8,523.1 L251.8,520.1 L251.7,517.1 L251.7,514.1 L251.6,511.1 L251.6,508.1 L251.5,505.1 L251.5,502.1 L251.4,499.1 L251.4,496.1 L251.3,493.1 L251.2,490.1 L251.1,487.1 L251.0,484.1Z" fill="#ff0000" stroke="none"/>
<path d="M244.1,481.2 L244.5,484.2 L244.9,486.9 L245.0,489.7 L245.0,492.7 L245.1,495.7 L245.1,498.7 L245.2,501.7 L245.3,504.7 L245.3,507.7 L245.4,510.7 L245.4,513.7 L245.5,516.7 L245.6,519.7 L245.6,522.7 L245.7,525.7 L245.7,528.7 L245.8,531.7 L245.9,534.7 L245.9,537.7 L246.0,540.7 L246.1,543.7 L246.1,546.7 L246.2,549.7 L246.3,552.7 L246.3,555.7 L246.4,558.7 L246.5,561.7 L246.5,564.7 L246.6,567.7 L246.7,570.7 L246.7,573.7 L246.8,576.7 L246.9,579.7 L246.9,582.7 L247.0,585.7 L247.1,588.7 L247.2,591.7 L247.2,594.7 L247.3,597.7 L247.4,600.7 L247.4,603.7 L247.5,606.7 L247.6,609.7 L247.7,612.7 L247.7,615.7 L247.8,618.7 L247.9,621.7 L248.0,624.7 L248.0,627.7 L248.1,630.7 L248.2,633.7 L248.3,636.7 L248.4,639.7 L248.4,642.7 L248.5,645.7 L248.6,648.7 L248.7,651.7 L248.8,654.7 L248.8,657.7 L248.9,660.7 L249.0,663.7 L249.1,666.7 L249.2,669.7 L249.3,672.7 L249.3,675.7 L249.4,678.7 L249.5,681.7 L249.6,684.7 L249.7,687.7 L249.8,690.7 L249.9,693.7 L250.0,696.7 L250.0,699.7 L250.1,702.7 L250.2,705.7 L250.3,708.7 L250.4,711.7 L250.5,714.7 L250.6,717.7 L250.7,720.7 L250.8,723.7 L250.9,726.7 L251.0,729.6 L251.1,732.6 L251.2,735.6 L251.3,738.6 L251.4,741.6 L251.5,744.6 L251.6,747.6 L251.7,750.6 L251.8,753.6 L251.9,756.6 L252.0,759.6 L252.1,762.6 L252.2,765.6 L252.3,768.6 L252.4,771.6 L252.5,774.6 L252.6,777.6 L252.7,780.6 L252.8,783.6 L252.9,786.6 L253.0,789.6 L253.2,792.6 L253.3,795.6 L253.4,798.6 L253.5,801.6 L253.6,804.6 L253.7,807.6 L253.8,810.6 L254.0,813.6 L254.1,816.6 L254.2,819.6 L254.3,822.6 L254.4,825.6 L254.6,828.6 L254.7,831.6 L254.8,834.6 L254.9,837.6 L255.1,840.6 L255.2,843.6 L255.3,846.6 L255.5,849.6 L255.6,852.6 L255.7,855.6 L255.8,858.6 L256.0,861.6 L256.1,864.6 L256.3,867.6 L256.4,870.6 L256.5,873.6 L256.7,876.6 L256.8,879.6 L256.9,882.6 L257.1,885.6 L257.2,888.6 L257.4,891.6 L257.5,894.6 L257.7,897.6 L257.8,900.6 L258.0,903.6 L258.1,906.6 L258.3,909.6 L258.4,912.6 L258.6,915.6 L258.7,918.6 L258.9,921.6 L259.0,924.5 L259.2,927.6 L259.4,930.6 L259.5,933.5 L259.7,936.5 L259.8,939.5 L260.0,942.5 L260.2,945.5 L260.3,948.5 L260.5,951.5 L260.7,954.5 L260.9,957.5 L261.0,960.5 L261.2,963.5 L261.4,966.5 L261.6,969.5 L261.7,972.5 L261.9,975.5 L262.1,978.5 L262.3,981.5 L262.5,984.5 L262.7,987.5 L262.9,990.5 L263.1,993.5 L263.2,996.5 L263.4,999.5 L263.6,1002.5 L263.8,1005.5 L264.0,1008.5 L264.2,1011.4 L264.4,1014.4 L264.7,1017.4 L264.9,1020.4 L265.1,1023.4 L265.3,1026.4 L265.5,1029.4 L265.7,1032.4 L265.9,1035.4 L266.2,1038.4 L266.4,1041.4 L266.6,1044.4 L266.8,1047.4 L267.1,1050.4 L267.3,1053.4 L267.5,1056.4 L267.8,1059.4 L268.0,1062.3 L268.2,1065.3 L268.5,1068.3 L268.7,1071.3 L269.0,1074.3 L269.2,1077.3 L269.5,1080.3 L269.7,1083.3 L270.0,1086.3 L270.3,1089.3 L270.5,1092.3 L270.8,1095.3 L271.1,1098.3 L271.3,1101.2 L271.6,1104.2 L271.9,1107.2 L272.2,1110.2 L272.4,1113.2 L272.7,1116.2 L273.0,1119.2 L273.3,1122.2 L273.6,1125.2 L273.9,1128.2 L274.2,1131.1 L274.5,1134.1 L274.8,1137.1 L275.1,1140.1 L275.4,1143.1 L275.7,1146.1 L276.1,1149.1 L276.4,1152.1 L276.7,1155.0 L277.1,1158.0 L277.4,1161.0 L277.7,1164.0 L278.1,1167.0 L278.4,1170.0 L278.8,1173.0 L279.1,1175.9 L279.5,1178.9 L279.8,1181.9 L280.2,1184.9 L280.6,1187.9 L281.0,1190.8 L281.3,1193.8 L281.7,1196.8 L282.1,1199.8 L282.5,1202.8 L282.9,1205.7 L283.3,1208.7 L283.7,1211.7 L284.1,1214.7 L284.5,1217.7 L284.9,1220.6 L285.4,1223.6 L285.8,1226.6 L286.2,1229.6 L286.7,1232.5 L287.1,1235.5 L287.6,1238.5 L288.0,1241.4 L288.5,1244.4 L289.0,1247.4 L289.4,1250.4 L289.9,1253.3 L290.4,1256.3 L290.9,1259.3 L291.4,1262.2 L291.9,1265.2 L292.4,1268.2 L292.9,1271.1 L293.5,1274.1 L294.0,1277.0 L294.5,1280.0 L295.1,1283.0 L295.6,1285.9 L296.2,1288.9 L296.8,1291.8 L297.3,1294.8 L297.9,1297.7 L298.5,1300.7 L299.1,1303.6 L299.7,1306.6 L300.3,1309.5 L301.0,1312.5 L301.6,1315.4 L302.2,1318.3 L302.9,1321.3 L303.5,1324.2 L304.2,1327.2 L304.9,1330.1 L305.6,1333.0 L306.3,1336.0 L307.0,1338.9 L307.7,1341.8 L308.4,1344.7 L309.1,1347.7 L309.9,1350.6 L310.6,1353.5 L311.4,1356.4 L312.2,1359.3 L313.0,1362.2 L313.8,1365.1 L314.6,1368.0 L315.4,1370.9 L316.2,1373.8 L317.1,1376.7 L317.9,1379.6 L318.8,1382.5 L319.7,1385.4 L320.6,1388.3 L321.5,1391.1 L322.4,1394.0 L323.3,1396.9 L324.3,1399.7 L325.2,1402.6 L326.2,1405.4 L327.2,1408.3 L328.2,1411.1 L329.2,1414.0 L330.3,1416.8 L331.3,1419.6 L332.4,1422.5 L333.4,1425.3 L334.5,1428.1 L335.7,1430.9 L336.8,1433.7 L337.9,1436.5 L339.1,1439.3 L340.3,1442.1 L341.5,1444.8 L342.7,1447.6 L343.9,1450.4 L345.2,1453.1 L346.4,1455.8 L347.7,1458.6 L349.0,1461.3 L350.4,1464.0 L351.7,1466.7 L353.1,1469.4 L354.4,1472.1 L355.9,1474.8 L357.4,1477.5 L358.9,1480.1 L360.3,1482.7 L361.8,1485.3 L363.3,1487.9 L364.7,1490.6 L366.2,1493.2 L367.8,1495.8 L369.5,1498.4 L371.1,1500.9 L372.7,1503.4 L374.3,1506.0 L376.0,1508.5 L377.6,1511.0 L379.4,1513.6 L381.2,1516.0 L382.9,1518.4 L384.7,1520.9 L386.4,1523.3 L388.2,1525.8 L390.1,1528.2 L392.0,1530.6 L393.9,1532.9 L395.8,1535.2 L397.7,1537.6 L399.6,1539.9 L401.6,1542.2 L403.6,1544.5 L405.6,1546.7 L407.6,1549.0 L409.6,1551.2 L411.7,1553.4 L413.8,1555.6 L416.0,1557.7 L418.1,1559.9 L420.2,1562.0 L422.3,1564.1 L424.5,1566.3 L426.7,1568.4 L428.9,1570.5 L431.1,1572.5 L433.3,1574.5 L435.5,1576.6 L437.8,1578.6 L440.1,1580.6 L442.4,1582.5 L444.7,1584.5 L447.1,1586.4 L449.4,1588.3 L451.8,1590.2 L454.2,1592.0 L456.6,1593.9 L459.0,1595.7 L461.4,1597.5 L463.9,1599.2 L466.3,1601.0 L468.8,1602.8 L471.3,1604.5 L473.8,1606.2 L476.3,1607.8 L478.8,1609.5 L481.3,1611.2 L483.9,1612.8 L486.5,1614.4 L489.0,1616.0 L491.6,1617.6 L494.2,1619.1 L496.8,1620.6 L499.4,1622.1 L502.0,1623.7 L504.7,1625.1 L507.3,1626.6 L510.0,1628.0 L512.6,1629.4 L515.3,1630.9 L518.0,1632.2 L520.7,1633.6 L523.4,1635.0 L526.1,1636.3 L528.8,1637.6 L531.5,1638.9 L534.2,1640.2 L537.0,1641.5 L539.7,1642.8 L542.5,1644.0 L545.2,1645.2 L548.0,1646.5 L550.7,1647.7 L553.5,1648.9 L556.3,1650.0 L559.1,1651.2 L561.9,1652.4 L564.7,1653.5 L567.4,1654.6 L570.3,1655.7 L573.1,1656.8 L575.9,1657.9 L578.7,1659.0 L581.5,1660.0 L584.3,1661.1 L587.2,1662.1 L590.0,1663.1 L592.8,1664.2 L595.7,1665.1 L598.5,1666.1 L601.4,1667.1 L604.2,1668.1 L607.1,1669.0 L609.9,1670.0 L612.8,1670.9 L615.7,1671.8 L618.6,1672.7 L621.4,1673.6 L624.3,1674.6 L627.2,1675.4 L630.1,1676.3 L632.9,1677.2 L635.8,1678.0 L638.7,1678.9 L641.6,1679.7 L644.5,1680.5 L647.4,1681.4 L650.3,1682.2 L653.2,1683.0 L656.1,1683.8 L659.0,1684.6 L661.9,1685.4 L664.8,1686.1 L667.7,1686.9 L670.6,1687.7 L673.6,1688.4 L676.5,1689.1 L679.4,1689.9 L682.3,1690.6 L685.2,1691.3 L688.1,1692.0 L691.1,1692.7 L694.0,1693.5 L696.9,1694.1 L699.8,1694.8 L702.8,1695.5 L705.7,1696.2 L708.6,1696.8 L711.6,1697.5 L714.5,1698.2 L717.4,1698.8 L720.4,1699.4 L723.3,1700.1 L726.3,1700.7 L729.2,1701.3 L732.1,1702.0 L735.1,1702.6 L738.0,1703.2 L741.0,1703.8 L743.9,1704.4 L746.9,1705.0 L749.8,1705.6 L752.8,1706.1 L755.7,1706.7 L758.7,1707.3 L761.6,1707.9 L764.6,1708.4 L767.5,1709.0 L770.5,1709.5 L773.4,1710.1 L776.4,1710.6 L779.3,1711.1 L782.3,1711.7 L785.3,1712.2 L788.2,1712.7 L791.2,1713.2 L794.1,1713.8 L797.1,1714.3 L800.1,1714.8 L803.0,1715.3 L806.0,1715.8 L809.0,1716.3 L811.9,1716.8 L814.9,1717.3 L817.8,1717.7 L820.8,1718.2 L823.8,1718.7 L826.7,1719.2 L829.7,1719.6 L832.7,1720.1 L835.6,1720.6 L838.6,1721.0 L841.6,1721.5 L844.6,1721.9 L847.5,1722.4 L850.5,1722.8 L853.5,1723.3 L856.4,1723.7 L859.4,1724.1 L862.4,1724.6 L865.4,1725.0 L868.3,1725.4 L871.3,1725.8 L874.3,1726.2 L877.3,1726.7 L880.2,1727.1 L883.2,1727.5 L886.2,1727.9 L889.2,1728.3 L892.1,1728.7 L895.1,1729.1 L898.1,1729.5 L901.1,1729.9 L904.0,1730.3 L907.0,1730.6 L910.0,1731.0 L913.0,1731.4 L916.0,1731.8 L918.9,1732.2 L921.9,1732.5 L924.9,1732.9 L927.9,1733.3 L930.9,1733.6 L933.8,1734.0 L936.8,1734.4 L939.8,1734.7 L942.8,1735.1 L945.8,1735.4 L948.8,1735.8 L951.7,1736.1 L954.7,1736.5 L957.7,1736.8 L960.7,1737.2 L963.7,1737.5 L966.7,1737.8 L969.6,1738.2 L972.6,1738.5 L975.6,1738.8 L978.6,1739.2 L981.6,1739.5 L984.6,1739.8 L987.5,1740.1 L990.5,1740.5 L993.5,1740.8 L996.5,1741.1 L999.5,1741.4 L1002.5,1741.7 L1005.5,1742.0 L1008.4,1742.3 L1011.4,1742.6 L1014.4,1743.0 L1017.4,1743.3 L1020.4,1743.6 L1023.4,1743.9 L1026.4,1744.2 L1029.3,1744.5 L1032.3,1744.7 L1035.3,1745.0 L1038.3,1745.3 L1041.3,1745.6 L1044.3,1745.9 L1047.3,1746.2 L1050.3,1746.5 L1053.3,1746.8 L1056.2,1747.0 L1059.2,1747.3 L1062.2,1747.6 L1065.2,1747.9 L1068.2,1748.1 L1071.2,1748.4 L1074.2,1748.7 L1077.2,1749.0 L1080.2,1749.2 L1083.1,1749.5 L1086.1,1749.8 L1089.1,1750.0 L1092.1,1750.3 L1095.1,1750.5 L1098.1,1750.8 L1101.1,1751.1 L1104.1,1751.3 L1107.1,1751.6 L1110.1,1751.8 L1113.1,1752.1 L1116.0,1752.3 L1119.0,1752.6 L1122.0,1752.8 L1125.0,1753.1 L1128.0,1753.3 L1131.0,1753.6 L1134.0,1753.8 L1137.0,1754.1 L1140.0,1754.3 L1143.0,1754.5 L1146.0,1754.8 L1149.0,1755.0 L1151.9,1755.2 L1154.9,1755.5 L1157.9,1755.7 L1160.9,1755.9 L1163.9,1756.2 L1166.9,1756.4 L1169.9,1756.6 L1172.9,1756.9 L1175.9,1757.1 L1178.9,1757.3 L1181.9,1757.5 L1184.9,1757.8 L1187.9,1758.0 L1190.8,1758.2 L1193.8,1758.4 L1196.8,1758.6 L1199.8,1758.8 L1202.8,1759.1 L1205.8,1759.3 L1208.8,1759.5 L1211.8,1759.7 L1214.8,1759.9 L1217.8,1760.1 L1220.8,1760.3 L1223.8,1760.5 L1226.8,1760.8 L1229.8,1761.0 L1232.8,1761.2 L1235.8,1761.4 L1238.7,1761.6 L1241.7,1761.8 L1244.7,1762.0 L1247.7,1762.2 L1250.7,1762.4 L1253.7,1762.6 L1256.7,1762.8 L1259.7,1763.0 L1262.7,1763.2 L1265.7,1763.4 L1268.7,1763.6 L1271.7,1763.8 L1274.7,1763.9 L1277.7,1764.1 L1280.7,1764.3 L1283.7,1764.5 L1286.7,1764.7 L1289.7,1764.9 L1292.7,1765.1 L1295.6,1765.3 L1298.6,1765.5 L1301.6,1765.6 L1304.6,1765.8 L1307.6,1766.0 L1310.6,1766.2 L1313.6,1766.4 L1316.6,1766.6 L1319.6,1766.7 L1322.6,1766.9 L1325.6,1767.1 L1328.6,1767.3 L1331.6,1767.4 L1334.6,1767.6 L1337.6,1767.8 L1340.6,1768.0 L1343.6,1768.1 L1346.6,1768.3 L1349.6,1768.5 L1352.6,1768.7 L1355.6,1768.8 L1358.6,1769.0 L1361.6,1769.2 L1364.5,1769.3 L1367.5,1769.5 L1370.5,1769.7 L1373.5,1769.8 L1376.5,1770.0 L1379.5,1770.2 L1382.5,1770.3 L1385.5,1770.5 L1388.5,1770.7 L1391.5,1770.8 L1394.5,1771.0 L1397.5,1771.1 L1400.5,1771.3 L1403.5,1771.5 L1406.5,1771.6 L1409.5,1771.8 L1412.5,1771.9 L1415.5,1772.1 L1418.5,1772.3 L1421.5,1772.4 L1424.5,1772.6 L1427.5,1772.7 L1430.5,1772.9 L1433.5,1773.0 L1436.5,1773.2 L1439.5,1773.3 L1442.5,1773.5 L1445.5,1773.6 L1448.5,1773.8 L1451.4,1773.9 L1454.4,1774.1 L1457.4,1774.2 L1460.4,1774.4 L1463.4,1774.5 L1466.4,1774.7 L1469.4,1774.8 L1472.4,1775.0 L1475.4,1775.1 L1478.4,1775.3 L1481.4,1775.4 L1484.4,1775.5 L1487.4,1775.7 L1490.4,1775.8 L1493.4,1776.0 L1496.4,1776.1 L1499.4,1776.3 L1502.4,1776.4 L1505.4,1776.5 L1508.4,1776.7 L1511.4,1776.8 L1514.4,1776.9 L1517.4,1777.1 L1520.4,1777.2 L1523.4,1777.4 L1526.4,1777.5 L1529.4,1777.6 L1532.4,1777.8 L1535.4,1777.9 L1538.4,1778.0 L1541.4,1778.2 L1544.4,1778.3 L1547.4,1778.4 L1550.4,1778.6 L1553.4,1778.7 L1556.4,1778.8 L1559.4,1779.0 L1562.4,1779.1 L1565.4,1779.2 L1568.3,1779.3 L1571.3,1779.5 L1574.3,1779.6 L1577.3,1779.7 L1580.3,1779.9 L1583.3,1780.0 L1586.3,1780.1 L1589.3,1780.2 L1592.3,1780.4 L1595.3,1780.5 L1598.3,1780.6 L1601.3,1780.7 L1604.3,1780.9 L1607.3,1781.0 L1610.3,1781.1 L1613.3,1781.2 L1616.3,1781.4 L1619.3,1781.5 L1622.3,1781.6 L1625.3,1781.7 L1628.3,1781.8 L1631.3,1782.0 L1634.3,1782.1 L1637.3,1782.2 L1640.3,1782.3 L1643.3,1782.4 L1646.3,1782.6 L1649.3,1782.7 L1652.3,1782.8 L1655.3,1782.9 L1658.3,1783.0 L1661.3,1783.1 L1664.3,1783.3 L1667.3,1783.4 L1670.3,1783.5 L1673.3,1783.6 L1676.3,1783.7 L1679.3,1783.8 L1682.3,1783.9 L1685.3,1784.0 L1688.3,1784.2 L1691.3,1784.3 L1694.3,1784.4 L1697.3,1784.5 L1700.3,1784.6 L1703.3,1784.7 L1706.3,1784.8 L1709.3,1784.9 L1712.3,1785.0 L1715.3,1785.2 L1718.3,1785.3 L1721.3,1785.4 L1724.3,1785.5 L1727.3,1785.6 L1730.2,1785.7 L1733.2,1785.8 L1736.2,1785.9 L1739.2,1786.0 L1742.2,1786.1 L1745.2,1786.2 L1748.2,1786.3 L1751.2,1786.4 L1754.2,1786.5 L1757.2,1786.7 L1760.2,1786.8 L1763.2,1786.9 L1766.2,1787.0 L1769.2,1787.1 L1772.2,1787.2 L1775.2,1787.3 L1778.2,1787.4 L1781.2,1787.5 L1784.2,1787.6 L1787.2,1787.7 L1790.2,1787.8 L1793.2,1787.9 L1796.2,1788.0 L1799.2,1788.1 L1802.2,1788.2 L1805.2,1788.3 L1808.2,1788.4 L1811.2,1788.5 L1814.2,1788.6 L1817.2,1788.7 L1820.2,1788.8 L1823.2,1788.9 L1826.2,1789.0 L1829.2,1789.1 L1832.2,1789.2 L1835.2,1789.3 L1838.2,1789.4 L1841.2,1789.4 L1844.2,1789.5 L1847.2,1789.6 L1850.2,1789.7 L1853.2,1789.8 L1856.2,1789.9 L1859.2,1790.0 L1862.2,1790.1 L1865.2,1790.2 L1868.2,1790.3 L1871.2,1790.4 L1874.2,1790.5 L1877.2,1790.6 L1880.2,1790.7 L1883.2,1790.8 L1886.2,1790.9 L1889.2,1790.9 L1892.2,1791.0 L1895.2,1791.1 L1898.2,1791.2 L1901.2,1791.3 L1904.2,1791.4 L1907.2,1791.5 L1910.2,1791.6 L1913.2,1791.7 L1916.2,1791.8 L1919.2,1791.8 L1921.6,1791.9 L1921.9,1784.9 L1919.4,1784.8 L1916.4,1784.8 L1913.4,1784.7 L1910.4,1784.6 L1907.4,1784.5 L1904.4,1784.4 L1901.4,1784.3 L1898.4,1784.2 L1895.4,1784.1 L1892.4,1784.0 L1889.4,1783.9 L1886.4,1783.9 L1883.4,1783.8 L1880.4,1783.7 L1877.4,1783.6 L1874.4,1783.5 L1871.4,1783.4 L1868.4,1783.3 L1865.4,1783.2 L1862.4,1783.1 L1859.4,1783.0 L1856.4,1782.9 L1853.4,1782.8 L1850.4,1782.7 L1847.4,1782.6 L1844.4,1782.6 L1841.4,1782.5 L1838.4,1782.4 L1835.4,1782.3 L1832.4,1782.2 L1829.4,1782.1 L1826.4,1782.0 L1823.4,1781.9 L1820.4,1781.8 L1817.4,1781.7 L1814.4,1781.6 L1811.4,1781.5 L1808.4,1781.4 L1805.4,1781.3 L1802.4,1781.2 L1799.4,1781.1 L1796.5,1781.0 L1793.5,1780.9 L1790.5,1780.8 L1787.5,1780.7 L1784.5,1780.6 L1781.5,1780.5 L1778.5,1780.4 L1775.5,1780.3 L1772.5,1780.2 L1769.5,1780.1 L1766.5,1780.0 L1763.5,1779.9 L1760.5,1779.8 L1757.5,1779.7 L1754.5,1779.6 L1751.5,1779.5 L1748.5,1779.3 L1745.5,1779.2 L1742.5,1779.1 L1739.5,1779.0 L1736.5,1778.9 L1733.5,1778.8 L1730.5,1778.7 L1727.5,1778.6 L1724.5,1778.5 L1721.5,1778.4 L1718.5,1778.3 L1715.5,1778.2 L1712.5,1778.1 L1709.5,1777.9 L1706.5,1777.8 L1703.5,1777.7 L1700.5,1777.6 L1697.5,1777.5 L1694.5,1777.4 L1691.5,1777.3 L1688.5,1777.2 L1685.5,1777.1 L1682.5,1776.9 L1679.5,1776.8 L1676.5,1776.7 L1673.5,1776.6 L1670.5,1776.5 L1667.6,1776.4 L1664.6,1776.3 L1661.6,1776.1 L1658.6,1776.0 L1655.6,1775.9 L1652.6,1775.8 L1649.6,1775.7 L1646.6,1775.6 L1643.6,1775.4 L1640.6,1775.3 L1637.6,1775.2 L1634.6,1775.1 L1631.6,1775.0 L1628.6,1774.8 L1625.6,1774.7 L1622.6,1774.6 L1619.6,1774.5 L1616.6,1774.4 L1613.6,1774.2 L1610.6,1774.1 L1607.6,1774.0 L1604.6,1773.9 L1601.6,1773.8 L1598.6,1773.6 L1595.6,1773.5 L1592.6,1773.4 L1589.6,1773.3 L1586.6,1773.1 L1583.6,1773.0 L1580.6,1772.9 L1577.6,1772.7 L1574.6,1772.6 L1571.6,1772.5 L1568.6,1772.4 L1565.7,1772.2 L1562.7,1772.1 L1559.7,1772.0 L1556.7,1771.8 L1553.7,1771.7 L1550.7,1771.6 L1547.7,1771.4 L1544.7,1771.3 L1541.7,1771.2 L1538.7,1771.0 L1535.7,1770.9 L1532.7,1770.8 L1529.7,1770.6 L1526.7,1770.5 L1523.7,1770.4 L1520.7,1770.2 L1517.7,1770.1 L1514.7,1770.0 L1511.7,1769.8 L1508.7,1769.7 L1505.7,1769.5 L1502.7,1769.4 L1499.7,1769.3 L1496.7,1769.1 L1493.7,1769.0 L1490.7,1768.8 L1487.7,1768.7 L1484.8,1768.6 L1481.8,1768.4 L1478.8,1768.3 L1475.8,1768.1 L1472.8,1768.0 L1469.8,1767.8 L1466.8,1767.7 L1463.8,1767.5 L1460.8,1767.4 L1457.8,1767.2 L1454.8,1767.1 L1451.8,1767.0 L1448.8,1766.8 L1445.8,1766.7 L1442.8,1766.5 L1439.8,1766.4 L1436.8,1766.2 L1433.8,1766.0 L1430.8,1765.9 L1427.8,1765.7 L1424.8,1765.6 L1421.8,1765.4 L1418.8,1765.3 L1415.9,1765.1 L1412.9,1765.0 L1409.9,1764.8 L1406.9,1764.6 L1403.9,1764.5 L1400.9,1764.3 L1397.9,1764.2 L1394.9,1764.0 L1391.9,1763.8 L1388.9,1763.7 L1385.9,1763.5 L1382.9,1763.4 L1379.9,1763.2 L1376.9,1763.0 L1373.9,1762.9 L1370.9,1762.7 L1367.9,1762.5 L1364.9,1762.4 L1361.9,1762.2 L1359.0,1762.0 L1356.0,1761.9 L1353.0,1761.7 L1350.0,1761.5 L1347.0,1761.3 L1344.0,1761.2 L1341.0,1761.0 L1338.0,1760.8 L1335.0,1760.6 L1332.0,1760.5 L1329.0,1760.3 L1326.0,1760.1 L1323.0,1759.9 L1320.0,1759.8 L1317.0,1759.6 L1314.0,1759.4 L1311.0,1759.2 L1308.1,1759.0 L1305.1,1758.8 L1302.1,1758.7 L1299.1,1758.5 L1296.1,1758.3 L1293.1,1758.1 L1290.1,1757.9 L1287.1,1757.7 L1284.1,1757.5 L1281.1,1757.4 L1278.1,1757.2 L1275.1,1757.0 L1272.1,1756.8 L1269.1,1756.6 L1266.2,1756.4 L1263.2,1756.2 L1260.2,1756.0 L1257.2,1755.8 L1254.2,1755.6 L1251.2,1755.4 L1248.2,1755.2 L1245.2,1755.0 L1242.2,1754.8 L1239.2,1754.6 L1236.2,1754.4 L1233.2,1754.2 L1230.2,1754.0 L1227.3,1753.8 L1224.3,1753.6 L1221.3,1753.4 L1218.3,1753.2 L1215.3,1753.0 L1212.3,1752.7 L1209.3,1752.5 L1206.3,1752.3 L1203.3,1752.1 L1200.3,1751.9 L1197.3,1751.7 L1194.4,1751.4 L1191.4,1751.2 L1188.4,1751.0 L1185.4,1750.8 L1182.4,1750.6 L1179.4,1750.3 L1176.4,1750.1 L1173.4,1749.9 L1170.4,1749.7 L1167.4,1749.4 L1164.4,1749.2 L1161.5,1749.0 L1158.5,1748.7 L1155.5,1748.5 L1152.5,1748.3 L1149.5,1748.0 L1146.5,1747.8 L1143.5,1747.6 L1140.5,1747.3 L1137.5,1747.1 L1134.6,1746.9 L1131.6,1746.6 L1128.6,1746.4 L1125.6,1746.1 L1122.6,1745.9 L1119.6,1745.6 L1116.6,1745.4 L1113.6,1745.1 L1110.6,1744.9 L1107.7,1744.6 L1104.7,1744.4 L1101.7,1744.1 L1098.7,1743.9 L1095.7,1743.6 L1092.7,1743.3 L1089.7,1743.1 L1086.7,1742.8 L1083.8,1742.5 L1080.8,1742.3 L1077.8,1742.0 L1074.8,1741.7 L1071.8,1741.5 L1068.8,1741.2 L1065.8,1740.9 L1062.9,1740.7 L1059.9,1740.4 L1056.9,1740.1 L1053.9,1739.8 L1050.9,1739.5 L1047.9,1739.3 L1045.0,1739.0 L1042.0,1738.7 L1039.0,1738.4 L1036.0,1738.1 L1033.0,1737.8 L1030.0,1737.5 L1027.1,1737.2 L1024.1,1736.9 L1021.1,1736.6 L1018.1,1736.3 L1015.1,1736.0 L1012.1,1735.7 L1009.2,1735.4 L1006.2,1735.1 L1003.2,1734.8 L1000.2,1734.5 L997.2,1734.2 L994.2,1733.9 L991.3,1733.5 L988.3,1733.2 L985.3,1732.9 L982.3,1732.6 L979.3,1732.2 L976.4,1731.9 L973.4,1731.6 L970.4,1731.3 L967.4,1730.9 L964.4,1730.6 L961.5,1730.3 L958.5,1729.9 L955.5,1729.6 L952.5,1729.2 L949.6,1728.9 L946.6,1728.5 L943.6,1728.2 L940.6,1727.8 L937.7,1727.5 L934.7,1727.1 L931.7,1726.7 L928.7,1726.4 L925.8,1726.0 L922.8,1725.6 L919.8,1725.3 L916.8,1724.9 L913.9,1724.5 L910.9,1724.1 L907.9,1723.8 L904.9,1723.4 L902.0,1723.0 L899.0,1722.6 L896.0,1722.2 L893.1,1721.8 L890.1,1721.4 L887.1,1721.0 L884.1,1720.6 L881.2,1720.2 L878.2,1719.8 L875.2,1719.4 L872.3,1719.0 L869.3,1718.5 L866.3,1718.1 L863.4,1717.7 L860.4,1717.3 L857.4,1716.8 L854.5,1716.4 L851.5,1716.0 L848.6,1715.5 L845.6,1715.1 L842.6,1714.6 L839.7,1714.2 L836.7,1713.7 L833.7,1713.3 L830.8,1712.8 L827.8,1712.3 L824.9,1711.9 L821.9,1711.4 L818.9,1710.9 L816.0,1710.4 L813.0,1710.0 L810.1,1709.5 L807.1,1709.0 L804.2,1708.5 L801.2,1708.0 L798.3,1707.5 L795.3,1707.0 L792.4,1706.5 L789.4,1705.9 L786.5,1705.4 L783.5,1704.9 L780.6,1704.4 L777.6,1703.8 L774.7,1703.3 L771.7,1702.8 L768.8,1702.2 L765.8,1701.6 L762.9,1701.1 L760.0,1700.5 L757.0,1700.0 L754.1,1699.4 L751.1,1698.8 L748.2,1698.2 L745.3,1697.6 L742.3,1697.1 L739.4,1696.5 L736.5,1695.9 L733.5,1695.2 L730.6,1694.6 L727.7,1694.0 L724.8,1693.4 L721.8,1692.8 L718.9,1692.1 L716.0,1691.5 L713.1,1690.8 L710.1,1690.2 L707.2,1689.5 L704.3,1688.9 L701.4,1688.2 L698.5,1687.5 L695.6,1686.8 L692.7,1686.1 L689.7,1685.4 L686.8,1684.7 L683.9,1684.0 L681.0,1683.3 L678.1,1682.6 L675.2,1681.8 L672.3,1681.1 L669.4,1680.3 L666.5,1679.6 L663.6,1678.8 L660.7,1678.1 L657.9,1677.3 L655.0,1676.5 L652.1,1675.7 L649.2,1674.9 L646.3,1674.1 L643.5,1673.3 L640.6,1672.4 L637.7,1671.6 L634.9,1670.7 L632.0,1669.9 L629.1,1669.0 L626.3,1668.2 L623.4,1667.3 L620.6,1666.4 L617.7,1665.5 L614.9,1664.6 L612.0,1663.7 L609.2,1662.7 L606.3,1661.8 L603.5,1660.8 L600.7,1659.9 L597.9,1658.9 L595.0,1657.9 L592.2,1656.9 L589.4,1655.9 L586.6,1654.9 L583.8,1653.9 L581.0,1652.8 L578.2,1651.8 L575.4,1650.7 L572.6,1649.7 L569.9,1648.6 L567.1,1647.5 L564.3,1646.3 L561.5,1645.2 L558.8,1644.1 L556.0,1642.9 L553.3,1641.8 L550.5,1640.6 L547.8,1639.4 L545.1,1638.2 L542.3,1637.0 L539.6,1635.7 L536.9,1634.5 L534.2,1633.2 L531.5,1631.9 L528.8,1630.7 L526.2,1629.4 L523.5,1628.0 L520.8,1626.7 L518.2,1625.3 L515.5,1624.0 L512.9,1622.6 L510.3,1621.1 L507.6,1619.7 L505.0,1618.3 L502.4,1616.9 L499.8,1615.4 L497.3,1613.9 L494.7,1612.4 L492.1,1610.9 L489.6,1609.3 L487.0,1607.7 L484.5,1606.2 L482.0,1604.6 L479.5,1603.0 L477.0,1601.3 L474.5,1599.7 L472.0,1598.1 L469.6,1596.4 L467.2,1594.6 L464.7,1592.9 L462.3,1591.1 L459.9,1589.4 L457.6,1587.6 L455.2,1585.8 L452.8,1583.9 L450.5,1582.2 L448.2,1580.3 L445.9,1578.4 L443.6,1576.5 L441.3,1574.5 L439.0,1572.7 L436.8,1570.7 L434.6,1568.7 L432.4,1566.7 L430.2,1564.6 L428.0,1562.7 L425.8,1560.6 L423.8,1558.5 L421.6,1556.4 L419.5,1554.2 L417.5,1552.1 L415.5,1549.9 L413.5,1547.7 L411.5,1545.5 L409.5,1543.2 L407.5,1541.0 L405.6,1538.8 L403.8,1536.5 L401.9,1534.1 L400.0,1531.8 L398.2,1529.5 L396.3,1527.1 L394.5,1524.8 L392.8,1522.4 L391.1,1520.0 L389.3,1517.6 L387.5,1515.1 L385.8,1512.7 L384.1,1510.3 L382.5,1507.8 L380.9,1505.3 L379.3,1502.8 L377.7,1500.3 L376.1,1497.7 L374.5,1495.2 L372.9,1492.7 L371.5,1490.2 L370.0,1487.6 L368.6,1485.0 L367.1,1482.3 L365.6,1479.7 L364.2,1477.1 L362.7,1474.5 L361.3,1471.9 L360.0,1469.3 L358.6,1466.6 L357.3,1463.9 L356.0,1461.3 L354.7,1458.6 L353.5,1455.9 L352.2,1453.2 L351.0,1450.5 L349.8,1447.7 L348.6,1445.0 L347.4,1442.3 L346.2,1439.5 L345.1,1436.8 L343.9,1434.0 L342.8,1431.3 L341.7,1428.5 L340.6,1425.7 L339.5,1422.9 L338.5,1420.2 L337.5,1417.4 L336.4,1414.6 L335.4,1411.8 L334.4,1408.9 L333.4,1406.1 L332.5,1403.3 L331.5,1400.5 L330.6,1397.6 L329.6,1394.8 L328.7,1392.0 L327.8,1389.1 L326.9,1386.3 L326.1,1383.4 L325.2,1380.6 L324.3,1377.7 L323.5,1374.8 L322.7,1372.0 L321.9,1369.1 L321.1,1366.2 L320.3,1363.3 L319.5,1360.5 L318.7,1357.6 L317.9,1354.7 L317.2,1351.8 L316.4,1348.9 L315.7,1346.0 L315.0,1343.1 L314.3,1340.2 L313.6,1337.3 L312.9,1334.4 L312.2,1331.5 L311.5,1328.6 L310.9,1325.6 L310.2,1322.7 L309.6,1319.8 L308.9,1316.9 L308.3,1314.0 L307.7,1311.0 L307.0,1308.1 L306.4,1305.2 L305.8,1302.3 L305.2,1299.3 L304.7,1296.4 L304.1,1293.5 L303.5,1290.5 L303.0,1287.6 L302.4,1284.6 L301.9,1281.7 L301.3,1278.8 L300.8,1275.8 L300.3,1272.9 L299.7,1269.9 L299.2,1267.0 L298.7,1264.0 L298.2,1261.1 L297.7,1258.1 L297.2,1255.2 L296.8,1252.2 L296.3,1249.3 L295.8,1246.3 L295.3,1243.3 L294.9,1240.4 L294.4,1237.4 L294.0,1234.5 L293.5,1231.5 L293.1,1228.5 L292.7,1225.6 L292.2,1222.6 L291.8,1219.7 L291.4,1216.7 L291.0,1213.7 L290.6,1210.8 L290.2,1207.8 L289.8,1204.8 L289.4,1201.9 L289.0,1198.9 L288.6,1195.9 L288.2,1193.0 L287.8,1190.0 L287.5,1187.0 L287.1,1184.0 L286.7,1181.1 L286.4,1178.1 L286.0,1175.1 L285.7,1172.1 L285.3,1169.2 L285.0,1166.2 L284.6,1163.2 L284.3,1160.2 L284.0,1157.3 L283.6,1154.3 L283.3,1151.3 L283.0,1148.3 L282.7,1145.3 L282.4,1142.4 L282.0,1139.4 L281.7,1136.4 L281.4,1133.4 L281.1,1130.4 L280.8,1127.5 L280.5,1124.5 L280.2,1121.5 L279.9,1118.5 L279.7,1115.5 L279.4,1112.6 L279.1,1109.6 L278.8,1106.6 L278.5,1103.6 L278.3,1100.6 L278.0,1097.6 L277.7,1094.6 L277.5,1091.7 L277.2,1088.7 L276.9,1085.7 L276.7,1082.7 L276.4,1079.7 L276.2,1076.7 L275.9,1073.7 L275.7,1070.8 L275.4,1067.8 L275.2,1064.8 L275.0,1061.8 L274.7,1058.8 L274.5,1055.8 L274.3,1052.8 L274.0,1049.8 L273.8,1046.9 L273.6,1043.9 L273.3,1040.9 L273.1,1037.9 L272.9,1034.9 L272.7,1031.9 L272.5,1028.9 L272.3,1025.9 L272.0,1022.9 L271.8,1019.9 L271.6,1017.0 L271.4,1014.0 L271.2,1011.0 L271.0,1008.0 L270.8,1005.0 L270.6,1002.0 L270.4,999.0 L270.2,996.0 L270.0,993.0 L269.8,990.0 L269.6,987.0 L269.4,984.1 L269.3,981.1 L269.1,978.1 L268.9,975.1 L268.7,972.1 L268.5,969.1 L268.4,966.1 L268.2,963.1 L268.0,960.1 L267.8,957.1 L267.7,954.1 L267.5,951.1 L267.3,948.1 L267.1,945.1 L267.0,942.2 L266.8,939.2 L266.7,936.2 L266.5,933.2 L266.3,930.2 L266.2,927.2 L266.0,924.2 L265.9,921.2 L265.7,918.2 L265.5,915.2 L265.4,912.2 L265.2,909.2 L265.1,906.2 L264.9,903.2 L264.8,900.2 L264.6,897.2 L264.5,894.2 L264.4,891.2 L264.2,888.2 L264.1,885.2 L263.9,882.3 L263.8,879.3 L263.6,876.3 L263.5,873.3 L263.4,870.3 L263.2,867.3 L263.1,864.3 L263.0,861.3 L262.8,858.3 L262.7,855.3 L262.6,852.3 L262.4,849.3 L262.3,846.3 L262.2,843.3 L262.1,840.3 L261.9,837.3 L261.8,834.3 L261.7,831.3 L261.6,828.3 L261.4,825.3 L261.3,822.3 L261.2,819.3 L261.1,816.3 L261.0,813.3 L260.8,810.4 L260.7,807.4 L260.6,804.4 L260.5,801.4 L260.4,798.4 L260.3,795.4 L260.1,792.4 L260.0,789.4 L259.9,786.4 L259.8,783.4 L259.7,780.4 L259.6,777.4 L259.5,774.4 L259.4,771.4 L259.3,768.4 L259.2,765.4 L259.1,762.4 L259.0,759.4 L258.9,756.4 L258.8,753.4 L258.7,750.4 L258.6,747.4 L258.5,744.4 L258.4,741.4 L258.3,738.4 L258.2,735.4 L258.1,732.4 L258.0,729.4 L257.9,726.4 L257.8,723.4 L257.7,720.4 L257.6,717.4 L257.5,714.4 L257.4,711.4 L257.3,708.4 L257.2,705.4 L257.1,702.4 L257.0,699.4 L256.9,696.4 L256.9,693.5 L256.8,690.5 L256.7,687.5 L256.6,684.5 L256.5,681.5 L256.4,678.5 L256.3,675.5 L256.2,672.5 L256.2,669.5 L256.1,666.5 L256.0,663.5 L255.9,660.5 L255.8,657.5 L255.7,654.5 L255.7,651.5 L255.6,648.5 L255.5,645.5 L255.4,642.5 L255.3,639.5 L255.3,636.5 L255.2,633.5 L255.1,630.5 L255.0,627.5 L255.0,624.5 L254.9,621.5 L254.8,618.5 L254.7,615.5 L254.7,612.5 L254.6,609.5 L254.5,606.5 L254.4,603.5 L254.4,600.5 L254.3,597.5 L254.2,594.5 L254.1,591.5 L254.1,588.5 L254.0,585.5 L253.9,582.5 L253.9,579.5 L253.8,576.5 L253.7,573.5 L253.7,570.5 L253.6,567.5 L253.5,564.5 L253.5,561.5 L253.4,558.5 L253.3,555.5 L253.3,552.5 L253.2,549.5 L253.1,546.5 L253.1,543.5 L253.0,540.5 L252.9,537.5 L252.9,534.5 L252.8,531.5 L252.7,528.5 L252.7,525.5 L252.6,522.5 L252.6,519.5 L252.5,516.5 L252.4,513.5 L252.4,510.5 L252.3,507.5 L252.3,504.5 L252.2,501.5 L252.1,498.5 L252.1,495.5 L252.0,492.5 L252.0,489.5 L251.9,486.3 L251.4,483.1 L250.9,480.2Z" fill="#000000" stroke="none"/>
<line x1="1772.2" y1="2021.7" x2="1930" y2="1688" stroke="#000" stroke-width="5.2"/>
<polygon points="1941.5,1663.5 1942.7,1695.0 1916.4,1682.6" fill="#000"/>
<rect x="559.0" y="78.3" width="1618.0" height="627.7" fill="#fff" stroke="#000" stroke-width="7"/>
<line x1="544.5" y1="706.0" x2="559.0" y2="706.0" stroke="#000" stroke-width="7"/>
<line x1="544.5" y1="496.8" x2="559.0" y2="496.8" stroke="#000" stroke-width="7"/>
<line x1="544.5" y1="287.5" x2="559.0" y2="287.5" stroke="#000" stroke-width="7"/>
<line x1="544.5" y1="78.3" x2="559.0" y2="78.3" stroke="#000" stroke-width="7"/>
<line x1="559.0" y1="706.0" x2="559.0" y2="720.5" stroke="#000" stroke-width="7"/>
<line x1="1098.3" y1="706.0" x2="1098.3" y2="720.5" stroke="#000" stroke-width="7"/>
<line x1="1637.7" y1="706.0" x2="1637.7" y2="720.5" stroke="#000" stroke-width="7"/>
<line x1="2177.0" y1="706.0" x2="2177.0" y2="720.5" stroke="#000" stroke-width="7"/>
<circle cx="600.8" cy="683.9" r="18" fill="none" stroke="#000000" stroke-width="2.6"/>
<circle cx="753" cy="671.8" r="18" fill="none" stroke="#000000" stroke-width="2.6"/>
<circle cx="927" cy="658.5" r="18" fill="none" stroke="#000000" stroke-width="2.6"/>
<circle cx="1141" cy="639.5" r="18" fill="none" stroke="#000000" stroke-width="2.6"/>
<circle cx="1391.4" cy="613.9" r="18" fill="none" stroke="#000000" stroke-width="2.6"/>
<circle cx="1638.2" cy="589.7" r="18" fill="none" stroke="#000000" stroke-width="2.6"/>
<circle cx="1845" cy="573.4" r="18" fill="none" stroke="#000000" stroke-width="2.6"/>
<circle cx="600.8" cy="660.6" r="18" fill="none" stroke="#ff0000" stroke-width="2.6"/>
<circle cx="753" cy="642.3" r="18" fill="none" stroke="#ff0000" stroke-width="2.6"/>
<circle cx="927" cy="621.5" r="18" fill="none" stroke="#ff0000" stroke-width="2.6"/>
<circle cx="1141" cy="602" r="18" fill="none" stroke="#ff0000" stroke-width="2.6"/>
<circle cx="1391.4" cy="573.5" r="18" fill="none" stroke="#ff0000" stroke-width="2.6"/>
<circle cx="1638.2" cy="548.3" r="18" fill="none" stroke="#ff0000" stroke-width="2.6"/>
<circle cx="1845" cy="533.7" r="18" fill="none" stroke="#ff0000" stroke-width="2.6"/>
<circle cx="600.8" cy="637.8" r="18" fill="none" stroke="#0000ff" stroke-width="2.6"/>
<circle cx="753" cy="617" r="18" fill="none" stroke="#0000ff" stroke-width="2.6"/>
<circle cx="927" cy="586.4" r="18" fill="none" stroke="#0000ff" stroke-width="2.6"/>
<circle cx="1141" cy="558.3" r="18" fill="none" stroke="#0000ff" stroke-width="2.6"/>
<circle cx="1391.4" cy="522.5" r="18" fill="none" stroke="#0000ff" stroke-width="2.6"/>
<circle cx="1638.2" cy="486" r="18" fill="none" stroke="#0000ff" stroke-width="2.6"/>
<circle cx="1845" cy="456.2" r="18" fill="none" stroke="#0000ff" stroke-width="2.6"/>
<circle cx="600.8" cy="621" r="18" fill="none" stroke="#000000" stroke-width="2.6"/>
<circle cx="753" cy="589" r="18" fill="none" stroke="#000000" stroke-width="2.6"/>
<circle cx="927" cy="558.8" r="18" fill="none" stroke="#000000" stroke-width="2.6"/>
<circle cx="1141" cy="515" r="18" fill="none" stroke="#000000" stroke-width="2.6"/>
<circle cx="1391.4" cy="475.1" r="18" fill="none" stroke="#000000" stroke-width="2.6"/>
<circle cx="1638.2" cy="435.1" r="18" fill="none" stroke="#000000" stroke-width="2.6"/>
<circle cx="1845" cy="399.4" r="18" fill="none" stroke="#000000" stroke-width="2.6"/>
<circle cx="600.8" cy="591.7" r="18" fill="none" stroke="#ff0000" stroke-width="2.6"/>
<circle cx="753" cy="559.5" r="18" fill="none" stroke="#ff0000" stroke-width="2.6"/>
<circle cx="927" cy="514.7" r="18" fill="none" stroke="#ff0000" stroke-width="2.6"/>
<circle cx="1141" cy="460.8" r="18" fill="none" stroke="#ff0000" stroke-width="2.6"/>
<circle cx="1391.4" cy="406.6" r="18" fill="none" stroke="#ff0000" stroke-width="2.6"/>
<circle cx="1638.2" cy="359.6" r="18" fill="none" stroke="#ff0000" stroke-width="2.6"/>
<circle cx="1845" cy="315.7" r="18" fill="none" stroke="#ff0000" stroke-width="2.6"/>
<circle cx="600.8" cy="562.4" r="18" fill="none" stroke="#0000ff" stroke-width="2.6"/>
<circle cx="753" cy="519" r="18" fill="none" stroke="#0000ff" stroke-width="2.6"/>
<circle cx="927" cy="467.6" r="18" fill="none" stroke="#0000ff" stroke-width="2.6"/>
<circle cx="1141" cy="410" r="18" fill="none" stroke="#0000ff" stroke-width="2.6"/>
<circle cx="1391.4" cy="337.9" r="18" fill="none" stroke="#0000ff" stroke-width="2.6"/>
<circle cx="1638.2" cy="268.9" r="18" fill="none" stroke="#0000ff" stroke-width="2.6"/>
<circle cx="1845" cy="217.8" r="18" fill="none" stroke="#0000ff" stroke-width="2.6"/>
<circle cx="600.8" cy="541" r="18" fill="none" stroke="#000000" stroke-width="2.6"/>
<circle cx="753" cy="499.7" r="18" fill="none" stroke="#000000" stroke-width="2.6"/>
<circle cx="927" cy="430.2" r="18" fill="none" stroke="#000000" stroke-width="2.6"/>
<circle cx="1141" cy="361.2" r="18" fill="none" stroke="#000000" stroke-width="2.6"/>
<circle cx="1391.4" cy="286.4" r="18" fill="none" stroke="#000000" stroke-width="2.6"/>
<circle cx="1638.2" cy="217.7" r="18" fill="none" stroke="#000000" stroke-width="2.6"/>
<circle cx="1845" cy="149" r="18" fill="none" stroke="#000000" stroke-width="2.6"/>
<circle cx="600.8" cy="515.1" r="18" fill="none" stroke="#ff0000" stroke-width="2.6"/>
<circle cx="753" cy="461" r="18" fill="none" stroke="#ff0000" stroke-width="2.6"/>
<circle cx="927" cy="391.5" r="18" fill="none" stroke="#ff0000" stroke-width="2.6"/>
<circle cx="1141" cy="323.3" r="18" fill="none" stroke="#ff0000" stroke-width="2.6"/>
<circle cx="1391.4" cy="232.3" r="18" fill="none" stroke="#ff0000" stroke-width="2.6"/>
<circle cx="1638.2" cy="156.5" r="18" fill="none" stroke="#ff0000" stroke-width="2.6"/>
<circle cx="1845" cy="98.7" r="18" fill="none" stroke="#ff0000" stroke-width="2.6"/>
<line x1="599.6" y1="684" x2="1849.5" y2="572.6" stroke="#000" stroke-width="4.6"/>
<line x1="599.6" y1="658.6" x2="1849.5" y2="528.8" stroke="#000" stroke-width="4.6"/>
<line x1="599.6" y1="637" x2="1849.5" y2="456.2" stroke="#000" stroke-width="4.6"/>
<line x1="599.6" y1="613.5" x2="1849.5" y2="398.9" stroke="#000" stroke-width="4.6"/>
<line x1="599.6" y1="589" x2="1849.5" y2="311.7" stroke="#000" stroke-width="4.6"/>
<line x1="599.6" y1="560" x2="1849.5" y2="213" stroke="#000" stroke-width="4.6"/>
<line x1="599.6" y1="534.7" x2="1849.5" y2="148" stroke="#000" stroke-width="4.6"/>
<line x1="599.6" y1="509.5" x2="1849.5" y2="90.6" stroke="#000" stroke-width="4.6"/>
<line x1="2071.7" y1="538.8" x2="2071.7" y2="212" stroke="#000" stroke-width="7"/>
<polygon points="2071.7,189 2057.5,216 2086,216" fill="#000"/>
<rect x="569.8" y="869.2" width="1621.6" height="616.5" fill="#fff" stroke="#000" stroke-width="7"/>
<line x1="555" y1="1485.7" x2="569.8" y2="1485.7" stroke="#000" stroke-width="7"/>
<line x1="555" y1="1280.2" x2="569.8" y2="1280.2" stroke="#000" stroke-width="7"/>
<line x1="555" y1="1074.7" x2="569.8" y2="1074.7" stroke="#000" stroke-width="7"/>
<line x1="555" y1="869.2" x2="569.8" y2="869.2" stroke="#000" stroke-width="7"/>
<line x1="569.8" y1="1485.7" x2="569.8" y2="1500" stroke="#000" stroke-width="7"/>
<line x1="1110.3" y1="1485.7" x2="1110.3" y2="1500" stroke="#000" stroke-width="7"/>
<line x1="1650.9" y1="1485.7" x2="1650.9" y2="1500" stroke="#000" stroke-width="7"/>
<line x1="2191.4" y1="1485.7" x2="2191.4" y2="1500" stroke="#000" stroke-width="7"/>
<circle cx="629.8" cy="1469" r="18" fill="none" stroke="#ff0000" stroke-width="2.6"/>
<circle cx="720" cy="1436.9" r="18" fill="none" stroke="#ff0000" stroke-width="2.6"/>
<circle cx="959.5" cy="1342.3" r="18" fill="none" stroke="#ff0000" stroke-width="2.6"/>
<circle cx="1140.7" cy="1277.2" r="18" fill="none" stroke="#ff0000" stroke-width="2.6"/>
<circle cx="1409" cy="1168.1" r="18" fill="none" stroke="#ff0000" stroke-width="2.6"/>
<circle cx="1710.7" cy="1044.8" r="18" fill="none" stroke="#ff0000" stroke-width="2.6"/>
<circle cx="1891.5" cy="972.3" r="18" fill="none" stroke="#ff0000" stroke-width="2.6"/>
<circle cx="2070" cy="907.3" r="18" fill="none" stroke="#ff0000" stroke-width="2.6"/>
<line x1="628.8" y1="1475.6" x2="2074.7" y2="905" stroke="#000" stroke-width="4.6"/>
<text transform="translate(97.52 66.50) scale(0.9896 1.0000)" font-family="Liberation Sans, Arial, sans-serif" font-size="60" font-weight="bold" xml:space="preserve">270</text>
<text transform="translate(95.46 693.51) scale(1.0106 0.9860)" font-family="Liberation Sans, Arial, sans-serif" font-size="60" font-weight="bold" xml:space="preserve">180</text>
<text transform="translate(130.51 1324.52) scale(0.9935 0.9837)" font-family="Liberation Sans, Arial, sans-serif" font-size="60" font-weight="bold" xml:space="preserve">90</text>
<text transform="translate(163.11 1955.52) scale(0.9966 0.9767)" font-family="Liberation Sans, Arial, sans-serif" font-size="60" font-weight="bold" xml:space="preserve">0</text>
<text transform="translate(228.50 2024.13) scale(1.0000 0.9674)" font-family="Liberation Sans, Arial, sans-serif" font-size="60" font-weight="bold" xml:space="preserve">0</text>
<text transform="translate(883.15 2025.40) scale(1.0367 1.0071)" font-family="Liberation Sans, Arial, sans-serif" font-size="60" font-weight="bold" xml:space="preserve">12</text>
<text transform="translate(1552.66 2025.30) scale(0.9688 1.0048)" font-family="Liberation Sans, Arial, sans-serif" font-size="60" font-weight="bold" xml:space="preserve">24</text>
<text transform="translate(2225.23 2024.21) scale(0.9730 0.9930)" font-family="Liberation Sans, Arial, sans-serif" font-size="60" font-weight="bold" xml:space="preserve">36</text>
<text transform="translate(1197.89 2092.34) scale(1.0062 0.9321)" font-family="Liberation Sans, Arial, sans-serif" font-size="70" font-weight="bold" xml:space="preserve">t/ s</text>
<text transform="translate(77.64 1079.41) rotate(-90) scale(0.9817 0.9909)" font-family="Liberation Sans, Arial, sans-serif" font-size="70" font-weight="bold" xml:space="preserve">I / μA</text>
<text transform="translate(1944.35 1647.21) scale(0.9733 0.9860)" font-family="Liberation Sans, Arial, sans-serif" font-size="60" font-weight="bold" xml:space="preserve">8</text>
<text transform="translate(1740.11 2072.30) scale(0.7964 1.0268)" font-family="Liberation Sans, Arial, sans-serif" font-size="60" font-weight="bold" xml:space="preserve">1</text>
<text transform="translate(573.13 150.30) scale(0.8840 1.0373)" font-family="Liberation Sans, Arial, sans-serif" font-size="75" font-weight="bold" xml:space="preserve">A</text>
<text transform="translate(2053.67 171.50) scale(0.9633 0.9953)" font-family="Liberation Sans, Arial, sans-serif" font-size="60" font-weight="bold" xml:space="preserve">8</text>
<text transform="translate(2055.29 596.30) scale(0.8036 1.0220)" font-family="Liberation Sans, Arial, sans-serif" font-size="60" font-weight="bold" xml:space="preserve">1</text>
<text transform="translate(1251.74 830.81) scale(1.1562 0.9857)" font-family="Liberation Sans, Arial, sans-serif" font-size="52" font-weight="bold" xml:space="preserve">t</text>
<text transform="translate(1285.41 817.00) scale(1.0893 0.9625)" font-family="Liberation Sans, Arial, sans-serif" font-size="34" font-weight="normal" xml:space="preserve">-1/2</text>
<text transform="translate(1357.50 831.80) scale(0.9286 0.9974)" font-family="Liberation Sans, Arial, sans-serif" font-size="52" font-weight="normal" xml:space="preserve">/</text>
<text transform="translate(1385.44 830.84) scale(1.0320 0.9586)" font-family="Liberation Sans, Arial, sans-serif" font-size="52" font-weight="bold" xml:space="preserve">s</text>
<text transform="translate(1415.89 817.00) scale(1.1054 0.9625)" font-family="Liberation Sans, Arial, sans-serif" font-size="34" font-weight="normal" xml:space="preserve">-1/2</text>
<text transform="translate(419.49 455.12) rotate(-90) scale(0.9046 0.9173)" font-family="Liberation Sans, Arial, sans-serif" font-size="56" font-weight="bold" xml:space="preserve">I / μA</text>
<text transform="translate(577.77 937.50) scale(0.9457 1.0392)" font-family="Liberation Sans, Arial, sans-serif" font-size="75" font-weight="bold" xml:space="preserve">B</text>
<text transform="translate(1111.12 1632.87) scale(0.9616 0.9692)" font-family="Liberation Sans, Arial, sans-serif" font-size="55" font-weight="bold" xml:space="preserve">[Hydroxylamine]/ mM</text>
<text transform="translate(432.50 1364.00) rotate(-90) scale(0.8977 1.0000)" font-family="Liberation Sans, Arial, sans-serif" font-size="57" font-weight="bold" xml:space="preserve">Slope / μAs</text>
<text transform="translate(419.40 1084.38) rotate(-90) scale(1.0414 1.0926)" font-family="Liberation Sans, Arial, sans-serif" font-size="36" font-weight="normal" xml:space="preserve">-1/2</text>
<g filter="url(#hs)">
<text transform="translate(439.71 96.20) scale(0.9468 0.9694)" font-family="Liberation Sans, Arial, sans-serif" font-size="50" font-weight="normal" xml:space="preserve">180</text>
<text transform="translate(439.71 303.20) scale(0.9468 0.9972)" font-family="Liberation Sans, Arial, sans-serif" font-size="50" font-weight="normal" xml:space="preserve">120</text>
<text transform="translate(464.17 513.20) scale(0.9098 0.9833)" font-family="Liberation Sans, Arial, sans-serif" font-size="50" font-weight="normal" xml:space="preserve">60</text>
<text transform="translate(493.87 719.70) scale(0.8667 0.9667)" font-family="Liberation Sans, Arial, sans-serif" font-size="50" font-weight="normal" xml:space="preserve">0</text>
<text transform="translate(526.62 777.60) scale(0.9385 0.9639)" font-family="Liberation Sans, Arial, sans-serif" font-size="50" font-weight="normal" xml:space="preserve">0.5</text>
<text transform="translate(1064.91 778.20) scale(0.9714 1.0171)" font-family="Liberation Sans, Arial, sans-serif" font-size="50" font-weight="normal" xml:space="preserve">1.5</text>
<text transform="translate(1604.02 777.90) scale(0.9385 1.0057)" font-family="Liberation Sans, Arial, sans-serif" font-size="50" font-weight="normal" xml:space="preserve">2.5</text>
<text transform="translate(2141.13 777.50) scale(0.9369 0.9611)" font-family="Liberation Sans, Arial, sans-serif" font-size="50" font-weight="normal" xml:space="preserve">3.5</text>
<text transform="translate(475.76 886.60) scale(0.9176 1.0057)" font-family="Liberation Sans, Arial, sans-serif" font-size="50" font-weight="normal" xml:space="preserve">55</text>
<text transform="translate(473.10 1089.60) scale(0.8981 0.9971)" font-family="Liberation Sans, Arial, sans-serif" font-size="50" font-weight="normal" xml:space="preserve">41</text>
<text transform="translate(475.67 1292.50) scale(0.9157 1.0000)" font-family="Liberation Sans, Arial, sans-serif" font-size="50" font-weight="normal" xml:space="preserve">27</text>
<text transform="translate(473.78 1499.50) scale(0.9551 0.9722)" font-family="Liberation Sans, Arial, sans-serif" font-size="50" font-weight="normal" xml:space="preserve">13</text>
<text transform="translate(559.57 1557.10) scale(0.8667 0.9528)" font-family="Liberation Sans, Arial, sans-serif" font-size="50" font-weight="normal" xml:space="preserve">0</text>
<text transform="translate(1077.81 1557.50) scale(0.9431 0.9750)" font-family="Liberation Sans, Arial, sans-serif" font-size="50" font-weight="normal" xml:space="preserve">0.9</text>
<text transform="translate(1616.18 1557.50) scale(0.9794 0.9750)" font-family="Liberation Sans, Arial, sans-serif" font-size="50" font-weight="normal" xml:space="preserve">1.8</text>
<text transform="translate(2155.00 1557.60) scale(0.9492 1.0057)" font-family="Liberation Sans, Arial, sans-serif" font-size="50" font-weight="normal" xml:space="preserve">2.7</text>
<text transform="translate(1739.20 1409.24) scale(0.9632 0.9761)" font-family="Liberation Sans, Arial, sans-serif" font-size="50" font-weight="normal" xml:space="preserve">y = 16.167x + 12.15</text>
<text transform="translate(1827.23 1462.50) scale(0.9434 0.9389)" font-family="Liberation Sans, Arial, sans-serif" font-size="50" font-weight="normal" xml:space="preserve">R² = 0.9998</text>
</g>
</svg>
</body></html>
